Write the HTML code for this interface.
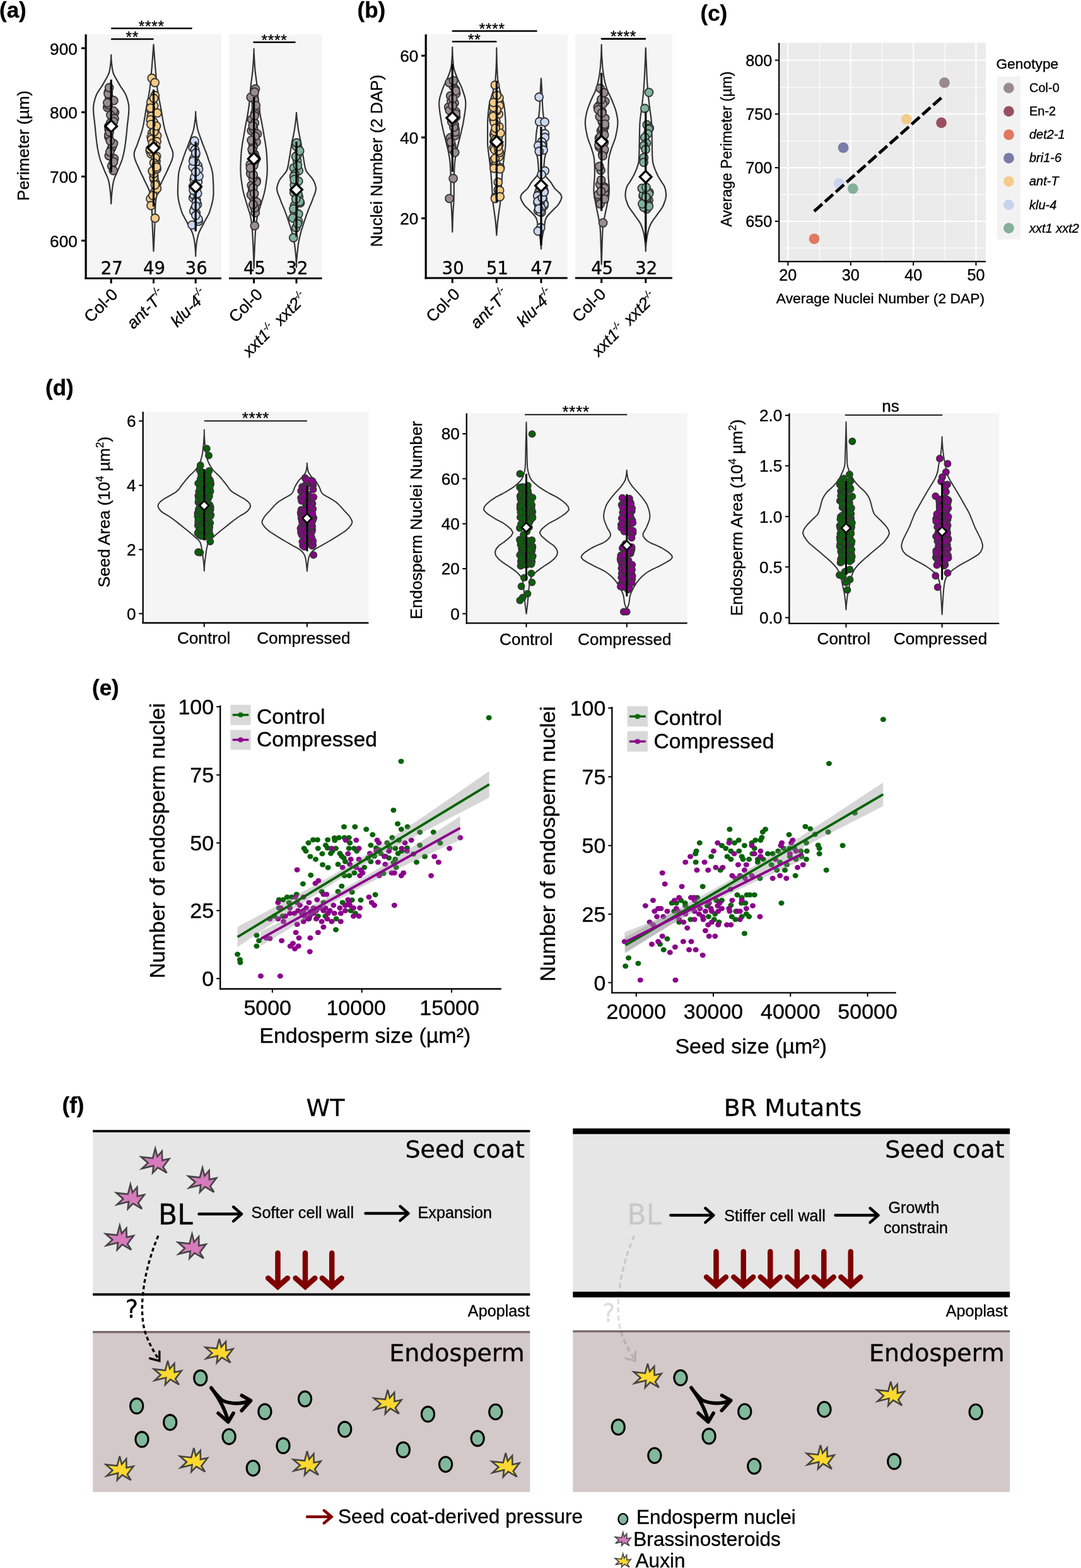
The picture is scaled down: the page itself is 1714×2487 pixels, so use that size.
<!DOCTYPE html>
<html lang="en"><head><meta charset="utf-8"><title>Figure</title>
<style>html,body{margin:0;padding:0;background:#fff}svg{display:block}text{white-space:pre;stroke:currentColor;stroke-width:0.35px;paint-order:stroke fill}</style></head>
<body><svg width="1714" height="2487" viewBox="0 0 1714 2487">
<rect width="1714" height="2487" fill="#fff"/>
<rect x="136.5" y="54.5" width="214.5" height="387" fill="#f5f5f5" />
<rect x="363" y="54.5" width="147.5" height="387" fill="#f5f5f5" />
<path d="M176.2,87 L176.3,91 L176.5,95 L176.8,99 L177.3,103 L177.8,107 L178.4,111 L179.3,115 L180.9,119 L183,123 L185.4,127.1 L187.7,131.1 L189.9,135.1 L192.5,139.1 L195.3,143.1 L197.8,147.1 L199.8,151.1 L201.2,155.1 L202.4,159.1 L203.4,163.1 L204.1,167.1 L204.4,171.1 L204.3,175.1 L204.1,179.1 L203.7,183.1 L203.3,187.1 L202.8,191.1 L202.3,195.1 L201.9,199.1 L201.4,203.1 L201.1,207.2 L200.7,211.2 L200.3,215.2 L199.8,219.2 L199.4,223.2 L198.9,227.2 L198.3,231.2 L197.7,235.2 L196.9,239.2 L196.1,243.2 L195.2,247.2 L194.1,251.2 L192.9,255.2 L191.3,259.2 L189.7,263.2 L188.1,267.2 L186.5,271.2 L184.7,275.2 L182.9,279.2 L181.3,283.2 L180.1,287.3 L179.3,291.3 L178.6,295.3 L178.1,299.3 L177.6,303.3 L177.2,307.3 L176.9,311.3 L176.6,315.3 L176.4,319.3 L176.2,323.3 L176.2,323.3 L176,319.3 L175.8,315.3 L175.5,311.3 L175.2,307.3 L174.8,303.3 L174.3,299.3 L173.8,295.3 L173.1,291.3 L172.3,287.3 L171.1,283.2 L169.5,279.2 L167.7,275.2 L165.9,271.2 L164.3,267.2 L162.7,263.2 L161.1,259.2 L159.5,255.2 L158.3,251.2 L157.2,247.2 L156.3,243.2 L155.5,239.2 L154.7,235.2 L154.1,231.2 L153.5,227.2 L153,223.2 L152.6,219.2 L152.1,215.2 L151.7,211.2 L151.3,207.2 L151,203.1 L150.5,199.1 L150.1,195.1 L149.6,191.1 L149.1,187.1 L148.7,183.1 L148.3,179.1 L148.1,175.1 L148,171.1 L148.3,167.1 L149,163.1 L150,159.1 L151.2,155.1 L152.6,151.1 L154.6,147.1 L157.1,143.1 L159.9,139.1 L162.5,135.1 L164.7,131.1 L167,127.1 L169.4,123 L171.5,119 L173.1,115 L174,111 L174.6,107 L175.1,103 L175.6,99 L175.9,95 L176.1,91 L176.2,87Z" fill="none" stroke="#333" stroke-width="2.2" stroke-linejoin="round"/>
<g fill="#9a8b8f" stroke="#333" stroke-width="1.8"><circle cx="176.7" cy="235.4" r="6.5"/><circle cx="173.5" cy="154.9" r="6.5"/><circle cx="175.3" cy="194.7" r="6.5"/><circle cx="180.3" cy="159.4" r="6.5"/><circle cx="170.3" cy="170.4" r="6.5"/><circle cx="171.7" cy="166.4" r="6.5"/><circle cx="178.2" cy="231.8" r="6.5"/><circle cx="180.1" cy="227.6" r="6.5"/><circle cx="171.8" cy="146.1" r="6.5"/><circle cx="177.1" cy="263.3" r="6.5"/><circle cx="180.9" cy="251.4" r="6.5"/><circle cx="172.7" cy="205.4" r="6.5"/><circle cx="172.4" cy="217.3" r="6.5"/><circle cx="171.5" cy="148.7" r="6.5"/><circle cx="172.8" cy="246.9" r="6.5"/><circle cx="181.9" cy="178.5" r="6.5"/><circle cx="179.9" cy="175.9" r="6.5"/><circle cx="172.3" cy="214" r="6.5"/><circle cx="180" cy="256.8" r="6.5"/><circle cx="173.5" cy="209.2" r="6.5"/><circle cx="175.4" cy="182.4" r="6.5"/><circle cx="181.5" cy="188" r="6.5"/><circle cx="180" cy="192.8" r="6.5"/><circle cx="174.2" cy="240.9" r="6.5"/><circle cx="172.3" cy="200.3" r="6.5"/><circle cx="174.7" cy="223.5" r="6.5"/><circle cx="170.3" cy="163" r="6.5"/><circle cx="173.2" cy="139" r="6.5"/><circle cx="179.7" cy="270.5" r="6.5"/></g>
<line x1="176.2" y1="126.3" x2="176.2" y2="273.5" stroke="#000" stroke-width="3.2" />
<path d="M176.2,190.9 L185.5,200.2 L176.2,209.5 L166.9,200.2Z" fill="#fff" stroke="#000" stroke-width="3.3" stroke-linejoin="miter"/>
<path d="M243.5,70.7 L243.9,76.3 L244.3,81.8 L244.7,87.4 L245.1,92.9 L245.6,98.5 L246,104 L246.5,109.6 L247,115.1 L247.4,120.7 L247.9,126.3 L248.5,131.8 L249.1,137.4 L249.8,142.9 L250.7,148.5 L251.7,154 L252.8,159.6 L253.8,165.2 L254.9,170.7 L255.9,176.3 L256.8,181.8 L257.7,187.4 L258.7,192.9 L259.7,198.5 L261,204 L262.6,209.6 L264.4,215.2 L266.4,220.7 L268.3,226.3 L270.3,231.8 L272.8,237.4 L274.4,242.9 L274.1,248.5 L272.5,254 L270.2,259.6 L267.6,265.2 L265.2,270.7 L262.6,276.3 L259.8,281.8 L257.2,287.4 L254.5,292.9 L251.8,298.5 L249.7,304 L248.5,309.6 L247.5,315.2 L246.8,320.7 L246.4,326.3 L246.2,331.8 L246,337.4 L245.8,342.9 L245.7,348.5 L245.5,354.1 L245.3,359.6 L245,365.2 L244.8,370.7 L244.5,376.3 L244.3,381.8 L244,387.4 L243.8,392.9 L243.5,398.5 L243.5,398.5 L243.2,392.9 L243,387.4 L242.7,381.8 L242.5,376.3 L242.2,370.7 L242,365.2 L241.7,359.6 L241.5,354.1 L241.3,348.5 L241.2,342.9 L241,337.4 L240.8,331.8 L240.6,326.3 L240.2,320.7 L239.5,315.2 L238.5,309.6 L237.3,304 L235.2,298.5 L232.5,292.9 L229.8,287.4 L227.2,281.8 L224.4,276.3 L221.8,270.7 L219.4,265.2 L216.8,259.6 L214.5,254 L212.9,248.5 L212.6,242.9 L214.2,237.4 L216.7,231.8 L218.7,226.3 L220.6,220.7 L222.6,215.2 L224.4,209.6 L226,204 L227.3,198.5 L228.3,192.9 L229.3,187.4 L230.2,181.8 L231.1,176.3 L232.1,170.7 L233.2,165.2 L234.2,159.6 L235.3,154 L236.3,148.5 L237.2,142.9 L237.9,137.4 L238.5,131.8 L239.1,126.3 L239.6,120.7 L240,115.1 L240.5,109.6 L241,104 L241.4,98.5 L241.9,92.9 L242.3,87.4 L242.7,81.8 L243.1,76.3 L243.5,70.7Z" fill="none" stroke="#333" stroke-width="2.2" stroke-linejoin="round"/>
<g fill="#f4cb87" stroke="#333" stroke-width="1.8"><circle cx="243.7" cy="193.7" r="6.5"/><circle cx="244.3" cy="279.1" r="6.5"/><circle cx="237.8" cy="239.1" r="6.5"/><circle cx="239.6" cy="244.1" r="6.5"/><circle cx="245.7" cy="151.3" r="6.5"/><circle cx="247.5" cy="255.7" r="6.5"/><circle cx="241.2" cy="210.9" r="6.5"/><circle cx="248.2" cy="247.8" r="6.5"/><circle cx="246.2" cy="205.3" r="6.5"/><circle cx="239.8" cy="176" r="6.5"/><circle cx="244.2" cy="167.7" r="6.5"/><circle cx="241.7" cy="241.5" r="6.5"/><circle cx="239.7" cy="217.5" r="6.5"/><circle cx="246.9" cy="290.8" r="6.5"/><circle cx="249.1" cy="215.4" r="6.5"/><circle cx="240.3" cy="220.9" r="6.5"/><circle cx="238.5" cy="315.3" r="6.5"/><circle cx="244.7" cy="285.1" r="6.5"/><circle cx="246.2" cy="252.1" r="6.5"/><circle cx="240.8" cy="234.3" r="6.5"/><circle cx="245.7" cy="303.5" r="6.5"/><circle cx="243.7" cy="281.4" r="6.5"/><circle cx="238.1" cy="236.4" r="6.5"/><circle cx="239.2" cy="162.2" r="6.5"/><circle cx="239.7" cy="184.6" r="6.5"/><circle cx="249.4" cy="179.2" r="6.5"/><circle cx="243.7" cy="275.4" r="6.5"/><circle cx="244.4" cy="208.9" r="6.5"/><circle cx="246.3" cy="250.3" r="6.5"/><circle cx="244" cy="258.4" r="6.5"/><circle cx="248.5" cy="224.5" r="6.5"/><circle cx="247.2" cy="231.3" r="6.5"/><circle cx="242.3" cy="310.1" r="6.5"/><circle cx="241.8" cy="227.3" r="6.5"/><circle cx="248.9" cy="299.1" r="6.5"/><circle cx="241.6" cy="271.1" r="6.5"/><circle cx="247.9" cy="199.8" r="6.5"/><circle cx="247.5" cy="262.2" r="6.5"/><circle cx="244" cy="156" r="6.5"/><circle cx="248.6" cy="267.9" r="6.5"/><circle cx="238.7" cy="171.4" r="6.5"/><circle cx="238.7" cy="189.9" r="6.5"/><circle cx="245.9" cy="293.3" r="6.5"/><circle cx="248.2" cy="265" r="6.5"/><circle cx="239.4" cy="197.3" r="6.5"/><circle cx="240.8" cy="124" r="6.5"/><circle cx="245.6" cy="131" r="6.5"/><circle cx="239.5" cy="326" r="6.5"/><circle cx="245.9" cy="346" r="6.5"/></g>
<line x1="243.5" y1="142" x2="243.5" y2="327.4" stroke="#000" stroke-width="3.2" />
<path d="M243.5,225.3 L252.8,234.6 L243.5,243.9 L234.2,234.6Z" fill="#fff" stroke="#000" stroke-width="3.3" stroke-linejoin="miter"/>
<path d="M310.2,177 L310.3,180.9 L310.5,184.8 L310.9,188.7 L311.4,192.6 L311.9,196.4 L312.5,200.3 L313.2,204.2 L314.2,208.1 L315.5,212 L316.9,215.9 L318.3,219.8 L319.7,223.7 L321.1,227.5 L322.6,231.4 L324.1,235.3 L325.7,239.2 L327.2,243.1 L328.6,247 L329.9,250.9 L331.2,254.8 L332.6,258.7 L333.9,262.5 L335.2,266.4 L336.2,270.3 L337,274.2 L337.5,278.1 L337.7,282 L337.9,285.9 L338.1,289.8 L338.3,293.6 L338.4,297.5 L338.5,301.4 L338.5,305.3 L338.4,309.2 L338,313.1 L337.4,317 L336.6,320.9 L335.6,324.7 L334.6,328.6 L333.4,332.5 L332.2,336.4 L330.5,340.3 L328.4,344.2 L326.3,348.1 L324.1,352 L322.2,355.9 L320.1,359.7 L318,363.6 L316.1,367.5 L314.6,371.4 L313.6,375.3 L312.7,379.2 L312,383.1 L311.5,387 L311.1,390.8 L310.8,394.7 L310.5,398.6 L310.3,402.5 L310.2,406.4 L310.2,406.4 L310.1,402.5 L309.9,398.6 L309.6,394.7 L309.3,390.8 L308.9,387 L308.4,383.1 L307.7,379.2 L306.8,375.3 L305.8,371.4 L304.3,367.5 L302.4,363.6 L300.3,359.7 L298.2,355.9 L296.3,352 L294.1,348.1 L292,344.2 L289.9,340.3 L288.2,336.4 L287,332.5 L285.8,328.6 L284.8,324.7 L283.8,320.9 L283,317 L282.4,313.1 L282,309.2 L281.9,305.3 L281.9,301.4 L282,297.5 L282.1,293.6 L282.3,289.8 L282.5,285.9 L282.7,282 L282.9,278.1 L283.4,274.2 L284.2,270.3 L285.2,266.4 L286.5,262.5 L287.8,258.7 L289.2,254.8 L290.5,250.9 L291.8,247 L293.2,243.1 L294.7,239.2 L296.3,235.3 L297.8,231.4 L299.3,227.5 L300.7,223.7 L302.1,219.8 L303.5,215.9 L304.9,212 L306.2,208.1 L307.2,204.2 L307.9,200.3 L308.5,196.4 L309,192.6 L309.5,188.7 L309.9,184.8 L310.1,180.9 L310.2,177Z" fill="none" stroke="#333" stroke-width="2.2" stroke-linejoin="round"/>
<g fill="#c9d7f3" stroke="#333" stroke-width="1.8"><circle cx="311.4" cy="291.7" r="6.5"/><circle cx="312.3" cy="297.5" r="6.5"/><circle cx="307.8" cy="285.4" r="6.5"/><circle cx="313" cy="324.5" r="6.5"/><circle cx="311.1" cy="276.5" r="6.5"/><circle cx="313.9" cy="263" r="6.5"/><circle cx="306.2" cy="313.7" r="6.5"/><circle cx="307.9" cy="310.1" r="6.5"/><circle cx="308.5" cy="281.1" r="6.5"/><circle cx="310.1" cy="257.4" r="6.5"/><circle cx="310.1" cy="245.6" r="6.5"/><circle cx="314.9" cy="350.9" r="6.5"/><circle cx="306.4" cy="295.4" r="6.5"/><circle cx="308.5" cy="331.3" r="6.5"/><circle cx="313.9" cy="288.6" r="6.5"/><circle cx="308.2" cy="227.3" r="6.5"/><circle cx="310.4" cy="303.5" r="6.5"/><circle cx="307.3" cy="251.8" r="6.5"/><circle cx="305.8" cy="264.8" r="6.5"/><circle cx="305.7" cy="234.2" r="6.5"/><circle cx="310.8" cy="337.7" r="6.5"/><circle cx="304.6" cy="356.8" r="6.5"/><circle cx="311.4" cy="317.6" r="6.5"/><circle cx="313.2" cy="306.9" r="6.5"/><circle cx="307.2" cy="334.9" r="6.5"/><circle cx="306.6" cy="301.8" r="6.5"/><circle cx="311.1" cy="320.5" r="6.5"/><circle cx="315" cy="268.5" r="6.5"/><circle cx="310.4" cy="326.9" r="6.5"/><circle cx="309" cy="237.5" r="6.5"/><circle cx="310.4" cy="242.7" r="6.5"/><circle cx="315.4" cy="279.5" r="6.5"/><circle cx="314.4" cy="347.4" r="6.5"/><circle cx="306.3" cy="255.6" r="6.5"/><circle cx="310.4" cy="341.6" r="6.5"/><circle cx="310.3" cy="272.5" r="6.5"/><circle cx="308.4" cy="223.5" r="6.5"/></g>
<line x1="310.2" y1="224.6" x2="310.2" y2="367" stroke="#000" stroke-width="3.2" />
<path d="M310.2,286.7 L319.5,296 L310.2,305.3 L300.9,296Z" fill="#fff" stroke="#000" stroke-width="3.3" stroke-linejoin="miter"/>
<path d="M402.6,77.4 L402.7,83.3 L403,89.2 L403.3,95.1 L403.7,101 L404.1,106.9 L404.6,112.8 L405.3,118.7 L406.1,124.6 L406.9,130.5 L407.5,136.5 L408.1,142.4 L408.6,148.3 L409.1,154.2 L409.6,160.1 L410.2,166 L411,171.9 L411.9,177.8 L412.9,183.7 L414,189.6 L415.2,195.5 L416.3,201.4 L417.3,207.3 L418.3,213.2 L419.3,219.1 L420.4,225 L421.3,230.9 L422.1,236.8 L422.7,242.7 L423.1,248.6 L423.4,254.6 L423.6,260.5 L423.8,266.4 L423.7,272.3 L423.4,278.2 L422.7,284.1 L421.9,290 L421.1,295.9 L420,301.8 L418.6,307.7 L416.9,313.6 L415.1,319.5 L413.3,325.4 L411.5,331.3 L409.5,337.2 L408,343.1 L407,349 L406.2,354.9 L405.6,360.8 L405.1,366.7 L404.7,372.7 L404.4,378.6 L404.1,384.5 L403.8,390.4 L403.6,396.3 L403.3,402.2 L403.1,408.1 L402.9,414 L402.8,419.9 L402.6,425.8 L402.6,425.8 L402.4,419.9 L402.3,414 L402.1,408.1 L401.9,402.2 L401.6,396.3 L401.4,390.4 L401.1,384.5 L400.8,378.6 L400.5,372.7 L400.1,366.7 L399.6,360.8 L399,354.9 L398.2,349 L397.2,343.1 L395.7,337.2 L393.7,331.3 L391.9,325.4 L390.1,319.5 L388.3,313.6 L386.6,307.7 L385.2,301.8 L384.1,295.9 L383.3,290 L382.5,284.1 L381.8,278.2 L381.5,272.3 L381.4,266.4 L381.6,260.5 L381.8,254.6 L382.1,248.6 L382.5,242.7 L383.1,236.8 L383.9,230.9 L384.8,225 L385.9,219.1 L386.9,213.2 L387.9,207.3 L388.9,201.4 L390,195.5 L391.2,189.6 L392.3,183.7 L393.3,177.8 L394.2,171.9 L395,166 L395.6,160.1 L396.1,154.2 L396.6,148.3 L397.1,142.4 L397.7,136.5 L398.3,130.5 L399.1,124.6 L399.9,118.7 L400.6,112.8 L401.1,106.9 L401.5,101 L401.9,95.1 L402.2,89.2 L402.5,83.3 L402.6,77.4Z" fill="none" stroke="#333" stroke-width="2.2" stroke-linejoin="round"/>
<g fill="#9a8b8f" stroke="#333" stroke-width="1.8"><circle cx="401.8" cy="314.2" r="6.5"/><circle cx="398.7" cy="207.2" r="6.5"/><circle cx="398.7" cy="294" r="6.5"/><circle cx="406.5" cy="225.3" r="6.5"/><circle cx="403.6" cy="244.8" r="6.5"/><circle cx="402.1" cy="204.5" r="6.5"/><circle cx="406.5" cy="286.6" r="6.5"/><circle cx="406.5" cy="288.7" r="6.5"/><circle cx="400.3" cy="301.6" r="6.5"/><circle cx="399" cy="189.4" r="6.5"/><circle cx="401.4" cy="297.6" r="6.5"/><circle cx="408" cy="212.4" r="6.5"/><circle cx="404.7" cy="216.1" r="6.5"/><circle cx="403.9" cy="255.9" r="6.5"/><circle cx="404.7" cy="337.4" r="6.5"/><circle cx="396.7" cy="260.9" r="6.5"/><circle cx="400.6" cy="240.2" r="6.5"/><circle cx="400.9" cy="282.6" r="6.5"/><circle cx="402.4" cy="262.6" r="6.5"/><circle cx="407.1" cy="320.4" r="6.5"/><circle cx="405.7" cy="173.9" r="6.5"/><circle cx="404.2" cy="179.7" r="6.5"/><circle cx="401.1" cy="230.1" r="6.5"/><circle cx="403.7" cy="329.8" r="6.5"/><circle cx="405.4" cy="249.9" r="6.5"/><circle cx="403.8" cy="195" r="6.5"/><circle cx="397.7" cy="271.3" r="6.5"/><circle cx="401.4" cy="233" r="6.5"/><circle cx="403.7" cy="158.6" r="6.5"/><circle cx="398" cy="309" r="6.5"/><circle cx="401.3" cy="324.4" r="6.5"/><circle cx="397.3" cy="275.5" r="6.5"/><circle cx="403.6" cy="183.5" r="6.5"/><circle cx="398.6" cy="222.4" r="6.5"/><circle cx="400.8" cy="199.5" r="6.5"/><circle cx="401.7" cy="277.2" r="6.5"/><circle cx="399.6" cy="237.1" r="6.5"/><circle cx="405.8" cy="167.3" r="6.5"/><circle cx="403.2" cy="307.1" r="6.5"/><circle cx="396.9" cy="266.4" r="6.5"/><circle cx="405.9" cy="251.9" r="6.5"/><circle cx="397.7" cy="154.2" r="6.5"/><circle cx="405" cy="141" r="6.5"/><circle cx="403.6" cy="146" r="6.5"/><circle cx="403.8" cy="358" r="6.5"/></g>
<line x1="402.6" y1="154" x2="402.6" y2="351" stroke="#000" stroke-width="3.2" />
<path d="M402.6,242.6 L411.9,251.9 L402.6,261.2 L393.3,251.9Z" fill="#fff" stroke="#000" stroke-width="3.3" stroke-linejoin="miter"/>
<path d="M470,178.6 L470.3,182.8 L470.7,186.9 L471.2,191.1 L471.7,195.2 L472.2,199.4 L472.8,203.5 L473.4,207.7 L474.2,211.9 L475,216 L475.9,220.2 L476.8,224.3 L477.5,228.5 L478.2,232.6 L478.9,236.8 L479.6,241 L480.2,245.1 L480.9,249.3 L481.6,253.4 L482.3,257.6 L483,261.8 L483.8,265.9 L485.1,270.1 L487.6,274.2 L491.1,278.4 L494.6,282.5 L497.3,286.7 L499,290.9 L500.4,295 L501,299.2 L500.4,303.3 L499.1,307.5 L497.4,311.6 L495.8,315.8 L494.3,320 L492.6,324.1 L490.8,328.3 L489.1,332.4 L487.6,336.6 L486,340.7 L484.6,344.9 L483.1,349.1 L481.8,353.2 L480.4,357.4 L479.1,361.5 L477.8,365.7 L476.7,369.9 L475.7,374 L474.7,378.2 L473.9,382.3 L473.1,386.5 L472.5,390.6 L472.1,394.8 L471.6,399 L471.2,403.1 L470.8,407.3 L470.5,411.4 L470.2,415.6 L470.1,419.7 L470,423.9 L470,423.9 L469.9,419.7 L469.8,415.6 L469.5,411.4 L469.2,407.3 L468.8,403.1 L468.4,399 L467.9,394.8 L467.5,390.6 L466.9,386.5 L466.1,382.3 L465.3,378.2 L464.3,374 L463.3,369.9 L462.2,365.7 L460.9,361.5 L459.6,357.4 L458.2,353.2 L456.9,349.1 L455.4,344.9 L454,340.7 L452.4,336.6 L450.9,332.4 L449.2,328.3 L447.4,324.1 L445.7,320 L444.2,315.8 L442.6,311.6 L440.9,307.5 L439.6,303.3 L439,299.2 L439.6,295 L441,290.9 L442.7,286.7 L445.4,282.5 L448.9,278.4 L452.4,274.2 L454.9,270.1 L456.2,265.9 L457,261.8 L457.7,257.6 L458.4,253.4 L459.1,249.3 L459.8,245.1 L460.4,241 L461.1,236.8 L461.8,232.6 L462.5,228.5 L463.2,224.3 L464.1,220.2 L465,216 L465.8,211.9 L466.6,207.7 L467.2,203.5 L467.8,199.4 L468.3,195.2 L468.8,191.1 L469.3,186.9 L469.7,182.8 L470,178.6Z" fill="none" stroke="#333" stroke-width="2.2" stroke-linejoin="round"/>
<g fill="#80b39b" stroke="#333" stroke-width="1.8"><circle cx="465.8" cy="266.3" r="6.5"/><circle cx="466.7" cy="336" r="6.5"/><circle cx="473.7" cy="270.8" r="6.5"/><circle cx="467.6" cy="276.1" r="6.5"/><circle cx="466.2" cy="305.4" r="6.5"/><circle cx="473.3" cy="339.5" r="6.5"/><circle cx="468.9" cy="298.2" r="6.5"/><circle cx="476" cy="321.8" r="6.5"/><circle cx="469.8" cy="232" r="6.5"/><circle cx="471.8" cy="245.5" r="6.5"/><circle cx="471.2" cy="255" r="6.5"/><circle cx="464.3" cy="345.8" r="6.5"/><circle cx="467.9" cy="291.2" r="6.5"/><circle cx="473.8" cy="312" r="6.5"/><circle cx="469.3" cy="361.2" r="6.5"/><circle cx="466.8" cy="326.3" r="6.5"/><circle cx="469" cy="248.3" r="6.5"/><circle cx="475.2" cy="319.7" r="6.5"/><circle cx="466" cy="279.5" r="6.5"/><circle cx="473.1" cy="350.9" r="6.5"/><circle cx="465.5" cy="331" r="6.5"/><circle cx="472" cy="262.5" r="6.5"/><circle cx="472.4" cy="307.7" r="6.5"/><circle cx="471.9" cy="354.8" r="6.5"/><circle cx="473.3" cy="287.3" r="6.5"/><circle cx="475.2" cy="239.2" r="6.5"/><circle cx="469.2" cy="315.7" r="6.5"/><circle cx="467.2" cy="300.6" r="6.5"/><circle cx="466.6" cy="293.5" r="6.5"/><circle cx="466.6" cy="284.7" r="6.5"/><circle cx="470.3" cy="226.5" r="6.5"/><circle cx="465.3" cy="377" r="6.5"/></g>
<line x1="470" y1="224.6" x2="470" y2="375.5" stroke="#000" stroke-width="3.2" />
<path d="M470,291.5 L479.3,300.8 L470,310.1 L460.7,300.8Z" fill="#fff" stroke="#000" stroke-width="3.3" stroke-linejoin="miter"/>
<line x1="177.2" y1="45" x2="303.5" y2="45" stroke="#000" stroke-width="2.6" stroke-linecap="round"/>
<text x="240.3" y="49.6" font-family="'Liberation Sans',sans-serif" font-size="24.5" text-anchor="middle" letter-spacing="0.7">****</text>
<line x1="177.2" y1="62" x2="242.5" y2="62" stroke="#000" stroke-width="2.6" stroke-linecap="round"/>
<text x="209.8" y="66.6" font-family="'Liberation Sans',sans-serif" font-size="24.5" text-anchor="middle" letter-spacing="0.7">**</text>
<line x1="402.5" y1="67" x2="467.5" y2="67" stroke="#000" stroke-width="2.6" stroke-linecap="round"/>
<text x="435" y="71.6" font-family="'Liberation Sans',sans-serif" font-size="24.5" text-anchor="middle" letter-spacing="0.7">****</text>
<line x1="136.1" y1="54.5" x2="136.1" y2="443" stroke="#000" stroke-width="3.2" />
<line x1="134.5" y1="441.5" x2="351" y2="441.5" stroke="#000" stroke-width="3.0" />
<line x1="363" y1="441.5" x2="510.5" y2="441.5" stroke="#000" stroke-width="3.0" />
<line x1="129" y1="76.5" x2="136.5" y2="76.5" stroke="#000" stroke-width="3" />
<text x="122.8" y="86.5" font-family="'Liberation Sans',sans-serif" font-size="26.2" text-anchor="end" >900</text>
<line x1="129" y1="178" x2="136.5" y2="178" stroke="#000" stroke-width="3" />
<text x="122.8" y="188" font-family="'Liberation Sans',sans-serif" font-size="26.2" text-anchor="end" >800</text>
<line x1="129" y1="280" x2="136.5" y2="280" stroke="#000" stroke-width="3" />
<text x="122.8" y="290" font-family="'Liberation Sans',sans-serif" font-size="26.2" text-anchor="end" >700</text>
<line x1="129" y1="381.7" x2="136.5" y2="381.7" stroke="#000" stroke-width="3" />
<text x="122.8" y="391.7" font-family="'Liberation Sans',sans-serif" font-size="26.2" text-anchor="end" >600</text>
<line x1="176.2" y1="441.5" x2="176.2" y2="449.5" stroke="#000" stroke-width="3" />
<line x1="243.5" y1="441.5" x2="243.5" y2="449.5" stroke="#000" stroke-width="3" />
<line x1="310.2" y1="441.5" x2="310.2" y2="449.5" stroke="#000" stroke-width="3" />
<line x1="402.6" y1="441.5" x2="402.6" y2="449.5" stroke="#000" stroke-width="3" />
<line x1="470" y1="441.5" x2="470" y2="449.5" stroke="#000" stroke-width="3" />
<text x="177.2" y="435" font-family="'DejaVu Sans','Liberation Sans',sans-serif" font-size="27.5" text-anchor="middle" >27</text>
<text x="244.5" y="435" font-family="'DejaVu Sans','Liberation Sans',sans-serif" font-size="27.5" text-anchor="middle" >49</text>
<text x="311.2" y="435" font-family="'DejaVu Sans','Liberation Sans',sans-serif" font-size="27.5" text-anchor="middle" >36</text>
<text x="403.6" y="435" font-family="'DejaVu Sans','Liberation Sans',sans-serif" font-size="27.5" text-anchor="middle" >45</text>
<text x="471" y="435" font-family="'DejaVu Sans','Liberation Sans',sans-serif" font-size="27.5" text-anchor="middle" >32</text>
<text x="45.5" y="231" font-family="'Liberation Sans',sans-serif" font-size="26.2" text-anchor="middle" transform="rotate(-90 45.5 231)" >Perimeter (µm)</text>
<text x="188.4" y="468.7" font-family="'Liberation Sans',sans-serif" font-size="26.2" text-anchor="end" transform="rotate(-45 188.4 468.7)" >Col-0</text>
<text x="264.3" y="470.2" font-family="'Liberation Sans',sans-serif" font-size="26.2" text-anchor="end" font-style="italic" transform="rotate(-45 264.3 470.2)" >ant-T<tspan font-size="16" dy="-12.5" dx="-1.5">-/-</tspan></text>
<text x="331" y="470.2" font-family="'Liberation Sans',sans-serif" font-size="26.2" text-anchor="end" font-style="italic" transform="rotate(-45 331 470.2)" >klu-4<tspan font-size="16" dy="-12.5" dx="-1.5">-/-</tspan></text>
<text x="417.8" y="468.7" font-family="'Liberation Sans',sans-serif" font-size="26.2" text-anchor="end" transform="rotate(-45 417.8 468.7)" >Col-0</text>
<text x="488.3" y="474.2" font-family="'Liberation Sans',sans-serif" font-size="26.2" text-anchor="end" font-style="italic" transform="rotate(-45 488.3 474.2)" >xxt1<tspan font-size="14.5" dy="-11" dx="-1">-/-</tspan><tspan dy="11" font-size="26.2" dx="2.5"> </tspan>xxt2<tspan font-size="14.5" dy="-11" dx="-1">-/-</tspan></text>
<text x="-1" y="28" font-family="'Liberation Sans',sans-serif" font-size="35" text-anchor="start" font-weight="bold" >(a)</text>
<rect x="675.6" y="54.5" width="224.2" height="386.5" fill="#f5f5f5" />
<rect x="912" y="54.5" width="154" height="386.5" fill="#f5f5f5" />
<path d="M717.3,74.8 L717.4,79.8 L717.5,84.7 L717.8,89.7 L718.1,94.7 L718.5,99.6 L718.9,104.6 L720,109.6 L721.5,114.6 L723.3,119.5 L725.2,124.5 L727.5,129.5 L730,134.4 L732.2,139.4 L733.9,144.4 L735.6,149.3 L737.1,154.3 L738.1,159.3 L738.4,164.3 L738.2,169.2 L737.7,174.2 L737,179.2 L736.2,184.1 L735.4,189.1 L734.6,194.1 L733.6,199 L732.5,204 L731.4,209 L730.2,213.9 L728.9,218.9 L727.6,223.9 L726.4,228.9 L725.2,233.8 L724,238.8 L723,243.8 L722.2,248.7 L721.5,253.7 L720.9,258.7 L720.6,263.6 L720.3,268.6 L720.1,273.6 L720,278.5 L719.9,283.5 L719.9,288.5 L719.8,293.5 L719.8,298.4 L719.8,303.4 L719.8,308.4 L719.7,313.3 L719.6,318.3 L719.3,323.3 L718.9,328.2 L718.6,333.2 L718.3,338.2 L718.1,343.2 L717.9,348.1 L717.7,353.1 L717.6,358.1 L717.4,363 L717.3,368 L717.3,368 L717.2,363 L717,358.1 L716.9,353.1 L716.7,348.1 L716.5,343.2 L716.3,338.2 L716,333.2 L715.7,328.2 L715.3,323.3 L715,318.3 L714.9,313.3 L714.8,308.4 L714.8,303.4 L714.8,298.4 L714.8,293.5 L714.7,288.5 L714.7,283.5 L714.6,278.5 L714.5,273.6 L714.3,268.6 L714,263.6 L713.7,258.7 L713.1,253.7 L712.4,248.7 L711.6,243.8 L710.6,238.8 L709.4,233.8 L708.2,228.9 L707,223.9 L705.7,218.9 L704.4,213.9 L703.2,209 L702.1,204 L701,199 L700,194.1 L699.2,189.1 L698.4,184.1 L697.6,179.2 L696.9,174.2 L696.4,169.2 L696.2,164.3 L696.5,159.3 L697.5,154.3 L699,149.3 L700.7,144.4 L702.4,139.4 L704.6,134.4 L707.1,129.5 L709.4,124.5 L711.3,119.5 L713.1,114.6 L714.6,109.6 L715.7,104.6 L716.1,99.6 L716.5,94.7 L716.8,89.7 L717.1,84.7 L717.2,79.8 L717.3,74.8Z" fill="none" stroke="#333" stroke-width="2.2" stroke-linejoin="round"/>
<g fill="#9a8b8f" stroke="#333" stroke-width="1.8"><circle cx="722.7" cy="177.1" r="6.5"/><circle cx="714" cy="218.4" r="6.5"/><circle cx="718.4" cy="136.4" r="6.5"/><circle cx="716.4" cy="231" r="6.5"/><circle cx="720.5" cy="163.3" r="6.5"/><circle cx="711.3" cy="169.8" r="6.5"/><circle cx="715.6" cy="160.6" r="6.5"/><circle cx="722.2" cy="141.9" r="6.5"/><circle cx="716.8" cy="236.4" r="6.5"/><circle cx="723.1" cy="185.3" r="6.5"/><circle cx="721.7" cy="205" r="6.5"/><circle cx="723.1" cy="148.6" r="6.5"/><circle cx="722.4" cy="144.3" r="6.5"/><circle cx="714.9" cy="225.3" r="6.5"/><circle cx="721.5" cy="214.9" r="6.5"/><circle cx="712.8" cy="175.1" r="6.5"/><circle cx="720.7" cy="198.1" r="6.5"/><circle cx="714.3" cy="152.1" r="6.5"/><circle cx="712.5" cy="131" r="6.5"/><circle cx="722.6" cy="180.8" r="6.5"/><circle cx="721.2" cy="241.8" r="6.5"/><circle cx="717.5" cy="167.4" r="6.5"/><circle cx="721.8" cy="209.4" r="6.5"/><circle cx="718.2" cy="156.3" r="6.5"/><circle cx="716.7" cy="189.9" r="6.5"/><circle cx="719.5" cy="201.7" r="6.5"/><circle cx="716.3" cy="193.6" r="6.5"/><circle cx="719" cy="127.8" r="6.5"/><circle cx="718.6" cy="283" r="6.5"/><circle cx="712.6" cy="314.8" r="6.5"/></g>
<line x1="717.3" y1="101.5" x2="717.3" y2="272.6" stroke="#000" stroke-width="3.2" />
<path d="M717.3,177.7 L726.6,187 L717.3,196.3 L708,187Z" fill="#fff" stroke="#000" stroke-width="3.3" stroke-linejoin="miter"/>
<path d="M787.4,76.1 L787.4,81.1 L787.5,86.2 L787.6,91.2 L787.7,96.2 L787.9,101.3 L788.1,106.3 L788.3,111.3 L788.6,116.4 L788.9,121.4 L789.3,126.4 L790.2,131.5 L791.2,136.5 L792.2,141.5 L793.5,146.6 L795,151.6 L796.6,156.6 L798.1,161.7 L799.2,166.7 L799.9,171.7 L800.4,176.8 L800.9,181.8 L801.3,186.8 L801.6,191.9 L801.7,196.9 L801.7,201.9 L801.7,207 L801.7,212 L801.7,217 L801.7,222.1 L801.7,227.1 L801.4,232.2 L800.9,237.2 L800.2,242.2 L799.5,247.3 L798.9,252.3 L798.3,257.3 L797.7,262.4 L797.1,267.4 L796.7,272.4 L796.2,277.5 L795.8,282.5 L795.4,287.5 L795,292.6 L794.7,297.6 L794.4,302.6 L794.2,307.7 L793.9,312.7 L793.5,317.7 L793,322.8 L792.3,327.8 L791.5,332.8 L790.9,337.9 L790.2,342.9 L789.5,347.9 L788.9,353 L788.5,358 L788.1,363 L787.7,368.1 L787.4,373.1 L787.4,373.1 L787.1,368.1 L786.7,363 L786.3,358 L785.9,353 L785.3,347.9 L784.6,342.9 L783.9,337.9 L783.3,332.8 L782.5,327.8 L781.8,322.8 L781.3,317.7 L780.9,312.7 L780.6,307.7 L780.4,302.6 L780.1,297.6 L779.8,292.6 L779.4,287.5 L779,282.5 L778.6,277.5 L778.1,272.4 L777.7,267.4 L777.1,262.4 L776.5,257.3 L775.9,252.3 L775.3,247.3 L774.6,242.2 L773.9,237.2 L773.4,232.2 L773.1,227.1 L773.1,222.1 L773.1,217 L773.1,212 L773.1,207 L773.1,201.9 L773.1,196.9 L773.2,191.9 L773.5,186.8 L773.9,181.8 L774.4,176.8 L774.9,171.7 L775.6,166.7 L776.7,161.7 L778.2,156.6 L779.8,151.6 L781.3,146.6 L782.6,141.5 L783.6,136.5 L784.6,131.5 L785.5,126.4 L785.9,121.4 L786.2,116.4 L786.5,111.3 L786.7,106.3 L786.9,101.3 L787.1,96.2 L787.2,91.2 L787.3,86.2 L787.4,81.1 L787.4,76.1Z" fill="none" stroke="#333" stroke-width="2.2" stroke-linejoin="round"/>
<g fill="#f4cb87" stroke="#333" stroke-width="1.8"><circle cx="782.8" cy="234.6" r="6.5"/><circle cx="790.4" cy="246" r="6.5"/><circle cx="788.7" cy="164.3" r="6.5"/><circle cx="791.1" cy="248.7" r="6.5"/><circle cx="790" cy="218.5" r="6.5"/><circle cx="783.1" cy="213.2" r="6.5"/><circle cx="784.6" cy="257.3" r="6.5"/><circle cx="783.2" cy="253.6" r="6.5"/><circle cx="784.1" cy="187.7" r="6.5"/><circle cx="784.2" cy="216.2" r="6.5"/><circle cx="789.7" cy="158.5" r="6.5"/><circle cx="783.2" cy="179.6" r="6.5"/><circle cx="786.7" cy="260.4" r="6.5"/><circle cx="789.8" cy="225.8" r="6.5"/><circle cx="782.6" cy="190.2" r="6.5"/><circle cx="792" cy="242" r="6.5"/><circle cx="791.8" cy="167.6" r="6.5"/><circle cx="791.5" cy="155.3" r="6.5"/><circle cx="784.7" cy="208.6" r="6.5"/><circle cx="790.8" cy="181.1" r="6.5"/><circle cx="789.8" cy="205.2" r="6.5"/><circle cx="787.3" cy="175.9" r="6.5"/><circle cx="791.4" cy="201" r="6.5"/><circle cx="786.3" cy="192" r="6.5"/><circle cx="783.5" cy="224.2" r="6.5"/><circle cx="785.8" cy="198.1" r="6.5"/><circle cx="793.4" cy="211.1" r="6.5"/><circle cx="785.5" cy="221.4" r="6.5"/><circle cx="787.5" cy="173.9" r="6.5"/><circle cx="787.9" cy="151.1" r="6.5"/><circle cx="784.4" cy="237.5" r="6.5"/><circle cx="791.2" cy="229.7" r="6.5"/><circle cx="783.7" cy="194.3" r="6.5"/><circle cx="782.4" cy="170.3" r="6.5"/><circle cx="782.5" cy="162.5" r="6.5"/><circle cx="785.6" cy="203.3" r="6.5"/><circle cx="790.8" cy="239" r="6.5"/><circle cx="789.6" cy="232.5" r="6.5"/><circle cx="781.9" cy="184.6" r="6.5"/><circle cx="784.9" cy="251.2" r="6.5"/><circle cx="785" cy="135" r="6.5"/><circle cx="793.2" cy="266" r="6.5"/><circle cx="783.4" cy="267" r="6.5"/><circle cx="792.9" cy="268" r="6.5"/><circle cx="789.8" cy="289" r="6.5"/><circle cx="789.9" cy="301" r="6.5"/><circle cx="792.2" cy="302" r="6.5"/><circle cx="785.2" cy="313" r="6.5"/><circle cx="785" cy="314.8" r="6.5"/><circle cx="792.7" cy="312" r="6.5"/></g>
<line x1="787.4" y1="128.8" x2="787.4" y2="321.4" stroke="#000" stroke-width="3.2" />
<path d="M787.4,215.9 L796.7,225.2 L787.4,234.5 L778.1,225.2Z" fill="#fff" stroke="#000" stroke-width="3.3" stroke-linejoin="miter"/>
<path d="M858,124.4 L858.3,129 L858.6,133.6 L858.9,138.2 L859.1,142.7 L859.3,147.3 L859.6,151.9 L859.8,156.5 L859.9,161.1 L860.1,165.7 L860.4,170.3 L860.7,174.9 L861.2,179.4 L861.7,184 L862.3,188.6 L862.9,193.2 L863.6,197.8 L864.3,202.4 L865,207 L865.6,211.5 L866,216.1 L866.3,220.7 L866.6,225.3 L866.8,229.9 L866.9,234.5 L866.5,239.1 L865.5,243.6 L864.2,248.2 L863.3,252.8 L862.9,257.4 L862.5,262 L862.2,266.6 L862,271.2 L862.7,275.8 L865.7,280.3 L869.8,284.9 L873.7,289.5 L876.4,294.1 L879.3,298.7 L884.2,303.3 L888.9,307.9 L890.7,312.4 L889.5,317 L887,321.6 L884,326.2 L879.3,330.8 L874.6,335.4 L870.2,340 L866.5,344.5 L864.6,349.1 L863.8,353.7 L863.2,358.3 L862.5,362.9 L861.5,367.5 L860.5,372.1 L859.7,376.7 L859.1,381.2 L858.6,385.8 L858.2,390.4 L858,395 L858,395 L857.8,390.4 L857.4,385.8 L856.9,381.2 L856.3,376.7 L855.5,372.1 L854.5,367.5 L853.5,362.9 L852.8,358.3 L852.2,353.7 L851.4,349.1 L849.5,344.5 L845.8,340 L841.4,335.4 L836.7,330.8 L832,326.2 L829,321.6 L826.5,317 L825.3,312.4 L827.1,307.9 L831.8,303.3 L836.7,298.7 L839.6,294.1 L842.3,289.5 L846.2,284.9 L850.3,280.3 L853.3,275.8 L854,271.2 L853.8,266.6 L853.5,262 L853.1,257.4 L852.7,252.8 L851.8,248.2 L850.5,243.6 L849.5,239.1 L849.1,234.5 L849.2,229.9 L849.4,225.3 L849.7,220.7 L850,216.1 L850.4,211.5 L851,207 L851.7,202.4 L852.4,197.8 L853.1,193.2 L853.7,188.6 L854.3,184 L854.8,179.4 L855.3,174.9 L855.6,170.3 L855.9,165.7 L856.1,161.1 L856.2,156.5 L856.4,151.9 L856.7,147.3 L856.9,142.7 L857.1,138.2 L857.4,133.6 L857.7,129 L858,124.4Z" fill="none" stroke="#333" stroke-width="2.2" stroke-linejoin="round"/>
<g fill="#c9d7f3" stroke="#333" stroke-width="1.8"><circle cx="854.7" cy="154" r="6.5"/><circle cx="855.2" cy="193" r="6.5"/><circle cx="863.7" cy="193.5" r="6.5"/><circle cx="863.9" cy="212" r="6.5"/><circle cx="863.9" cy="218" r="6.5"/><circle cx="858.9" cy="225" r="6.5"/><circle cx="859.2" cy="231" r="6.5"/><circle cx="853.4" cy="231" r="6.5"/><circle cx="861.7" cy="238" r="6.5"/><circle cx="854.8" cy="240" r="6.5"/><circle cx="863.9" cy="271" r="6.5"/><circle cx="858.6" cy="277" r="6.5"/><circle cx="857.3" cy="361" r="6.5"/><circle cx="853" cy="366.5" r="6.5"/><circle cx="857.3" cy="316.9" r="6.5"/><circle cx="862.5" cy="322.8" r="6.5"/><circle cx="856.9" cy="298.5" r="6.5"/><circle cx="860.9" cy="315.3" r="6.5"/><circle cx="854.6" cy="308.2" r="6.5"/><circle cx="862.5" cy="326.5" r="6.5"/><circle cx="858.6" cy="332.3" r="6.5"/><circle cx="854.3" cy="325.9" r="6.5"/><circle cx="857.2" cy="312.6" r="6.5"/><circle cx="861.1" cy="307.2" r="6.5"/><circle cx="857.6" cy="311.9" r="6.5"/><circle cx="855.4" cy="302" r="6.5"/><circle cx="862.6" cy="323.9" r="6.5"/><circle cx="856.1" cy="328.1" r="6.5"/><circle cx="863" cy="303.7" r="6.5"/><circle cx="861.7" cy="300.8" r="6.5"/><circle cx="856.6" cy="322" r="6.5"/><circle cx="854" cy="305.9" r="6.5"/><circle cx="854.1" cy="309.1" r="6.5"/><circle cx="852.3" cy="310.8" r="6.5"/><circle cx="852.5" cy="320.9" r="6.5"/><circle cx="855.9" cy="318.2" r="6.5"/><circle cx="853.2" cy="334.2" r="6.5"/><circle cx="858.4" cy="336.7" r="6.5"/><circle cx="856.9" cy="316.3" r="6.5"/><circle cx="852.9" cy="319.4" r="6.5"/><circle cx="858" cy="329.4" r="6.5"/><circle cx="859.9" cy="313.9" r="6.5"/><circle cx="856.3" cy="335.7" r="6.5"/><circle cx="854.4" cy="331.2" r="6.5"/><circle cx="861.5" cy="299.8" r="6.5"/><circle cx="860" cy="296.7" r="6.5"/><circle cx="862.6" cy="304.5" r="6.5"/></g>
<line x1="858" y1="201" x2="858" y2="389" stroke="#000" stroke-width="3.2" />
<path d="M858,285.2 L867.3,294.5 L858,303.8 L848.7,294.5Z" fill="#fff" stroke="#000" stroke-width="3.3" stroke-linejoin="miter"/>
<path d="M953.7,70.9 L953.8,76.8 L954,82.7 L954.2,88.6 L954.6,94.5 L955,100.4 L955.4,106.3 L956.1,112.2 L956.9,118.1 L957.8,124 L959.1,129.9 L960.6,135.8 L962.4,141.7 L964.9,147.6 L967.8,153.5 L970.5,159.5 L972.8,165.4 L975.1,171.3 L976.9,177.2 L978.2,183.1 L979.2,189 L979.5,194.9 L979.1,200.8 L978.2,206.7 L977,212.6 L975.7,218.5 L973.7,224.4 L971.3,230.3 L969.3,236.2 L967.5,242.1 L965.9,248 L965,253.9 L964.7,259.8 L964.5,265.7 L964.4,271.6 L964.5,277.5 L964.8,283.4 L965.3,289.3 L965.7,295.2 L965.9,301.1 L965.7,307 L964.9,312.9 L963.7,318.8 L962.6,324.7 L961.4,330.6 L960.1,336.6 L958.9,342.5 L957.8,348.4 L956.7,354.3 L955.9,360.2 L955.5,366.1 L955.2,372 L955,377.9 L954.8,383.8 L954.6,389.7 L954.4,395.6 L954.2,401.5 L954,407.4 L953.9,413.3 L953.7,419.2 L953.7,419.2 L953.5,413.3 L953.4,407.4 L953.2,401.5 L953,395.6 L952.8,389.7 L952.6,383.8 L952.4,377.9 L952.2,372 L951.9,366.1 L951.5,360.2 L950.7,354.3 L949.6,348.4 L948.5,342.5 L947.3,336.6 L946,330.6 L944.8,324.7 L943.7,318.8 L942.5,312.9 L941.7,307 L941.5,301.1 L941.7,295.2 L942.1,289.3 L942.6,283.4 L942.9,277.5 L943,271.6 L942.9,265.7 L942.7,259.8 L942.4,253.9 L941.5,248 L939.9,242.1 L938.1,236.2 L936.1,230.3 L933.7,224.4 L931.7,218.5 L930.4,212.6 L929.2,206.7 L928.3,200.8 L927.9,194.9 L928.2,189 L929.2,183.1 L930.5,177.2 L932.3,171.3 L934.6,165.4 L936.9,159.5 L939.6,153.5 L942.5,147.6 L945,141.7 L946.8,135.8 L948.3,129.9 L949.6,124 L950.5,118.1 L951.3,112.2 L952,106.3 L952.4,100.4 L952.8,94.5 L953.2,88.6 L953.4,82.7 L953.6,76.8 L953.7,70.9Z" fill="none" stroke="#333" stroke-width="2.2" stroke-linejoin="round"/>
<g fill="#9a8b8f" stroke="#333" stroke-width="1.8"><circle cx="957.9" cy="225.9" r="6.5"/><circle cx="950" cy="218.9" r="6.5"/><circle cx="953.1" cy="207.5" r="6.5"/><circle cx="955.2" cy="193.8" r="6.5"/><circle cx="959.3" cy="160.8" r="6.5"/><circle cx="950.2" cy="233.2" r="6.5"/><circle cx="954.8" cy="204.8" r="6.5"/><circle cx="958.6" cy="201.3" r="6.5"/><circle cx="950.6" cy="166.6" r="6.5"/><circle cx="957" cy="210.4" r="6.5"/><circle cx="955.3" cy="244" r="6.5"/><circle cx="957.2" cy="240.1" r="6.5"/><circle cx="958.3" cy="237" r="6.5"/><circle cx="952.1" cy="216.8" r="6.5"/><circle cx="954.8" cy="177.3" r="6.5"/><circle cx="953.8" cy="181.6" r="6.5"/><circle cx="955.2" cy="222.6" r="6.5"/><circle cx="955.6" cy="247.2" r="6.5"/><circle cx="947.8" cy="170" r="6.5"/><circle cx="954" cy="190.4" r="6.5"/><circle cx="956" cy="164.8" r="6.5"/><circle cx="958.7" cy="199" r="6.5"/><circle cx="953.3" cy="157.7" r="6.5"/><circle cx="950.8" cy="184.9" r="6.5"/><circle cx="949.5" cy="229.9" r="6.5"/><circle cx="959.3" cy="187.6" r="6.5"/><circle cx="958.3" cy="213.9" r="6.5"/><circle cx="948.6" cy="173.8" r="6.5"/><circle cx="954.3" cy="179" r="6.5"/><circle cx="959" cy="196.8" r="6.5"/><circle cx="951.6" cy="140" r="6.5"/><circle cx="957.6" cy="147" r="6.5"/><circle cx="950.2" cy="318.3" r="6.5"/><circle cx="953" cy="290.4" r="6.5"/><circle cx="951.2" cy="292.4" r="6.5"/><circle cx="948.6" cy="311.8" r="6.5"/><circle cx="958.5" cy="305.8" r="6.5"/><circle cx="953.1" cy="285.7" r="6.5"/><circle cx="948.5" cy="308.7" r="6.5"/><circle cx="951.8" cy="323.4" r="6.5"/><circle cx="958.5" cy="315.7" r="6.5"/><circle cx="958.4" cy="296.6" r="6.5"/><circle cx="958.5" cy="298.6" r="6.5"/><circle cx="952.9" cy="303.6" r="6.5"/><circle cx="956.1" cy="353.4" r="6.5"/><circle cx="952.6" cy="270" r="6.5"/><circle cx="950.3" cy="264" r="6.5"/></g>
<line x1="953.7" y1="115.6" x2="953.7" y2="334.6" stroke="#000" stroke-width="3.2" />
<path d="M953.7,215.3 L963,224.6 L953.7,233.9 L944.4,224.6Z" fill="#fff" stroke="#000" stroke-width="3.3" stroke-linejoin="miter"/>
<path d="M1023.8,76.1 L1024,81.6 L1024.2,87 L1024.4,92.5 L1024.6,98 L1024.9,103.4 L1025.1,108.9 L1025.4,114.4 L1025.6,119.8 L1025.9,125.3 L1026.2,130.7 L1026.6,136.2 L1027,141.7 L1027.4,147.1 L1028,152.6 L1028.6,158.1 L1029.2,163.5 L1029.9,169 L1030.6,174.5 L1031.3,179.9 L1032.1,185.4 L1032.7,190.9 L1033.2,196.3 L1033.3,201.8 L1033.5,207.2 L1033.6,212.7 L1033.7,218.2 L1033.8,223.6 L1033.9,229.1 L1034,234.6 L1034.1,240 L1034.2,245.5 L1034.5,251 L1034.9,256.4 L1036.2,261.9 L1038.1,267.4 L1040.3,272.8 L1042.8,278.3 L1045.9,283.7 L1049.3,289.2 L1053.1,294.7 L1055,300.1 L1055.9,305.6 L1056.1,311.1 L1055.1,316.5 L1053.2,322 L1051,327.5 L1047.4,332.9 L1043.4,338.4 L1039.5,343.9 L1035.4,349.3 L1032,354.8 L1029.7,360.2 L1028,365.7 L1026.7,371.2 L1025.7,376.6 L1024.9,382.1 L1024.4,387.6 L1024,393 L1023.8,398.5 L1023.8,398.5 L1023.6,393 L1023.2,387.6 L1022.7,382.1 L1021.9,376.6 L1020.9,371.2 L1019.6,365.7 L1017.9,360.2 L1015.6,354.8 L1012.2,349.3 L1008.1,343.9 L1004.2,338.4 L1000.2,332.9 L996.6,327.5 L994.4,322 L992.5,316.5 L991.5,311.1 L991.7,305.6 L992.6,300.1 L994.5,294.7 L998.3,289.2 L1001.7,283.7 L1004.8,278.3 L1007.3,272.8 L1009.5,267.4 L1011.4,261.9 L1012.7,256.4 L1013.1,251 L1013.4,245.5 L1013.5,240 L1013.6,234.6 L1013.7,229.1 L1013.8,223.6 L1013.9,218.2 L1014,212.7 L1014.1,207.2 L1014.3,201.8 L1014.4,196.3 L1014.9,190.9 L1015.5,185.4 L1016.3,179.9 L1017,174.5 L1017.7,169 L1018.4,163.5 L1019,158.1 L1019.6,152.6 L1020.2,147.1 L1020.6,141.7 L1021,136.2 L1021.4,130.7 L1021.7,125.3 L1022,119.8 L1022.2,114.4 L1022.5,108.9 L1022.7,103.4 L1023,98 L1023.2,92.5 L1023.4,87 L1023.6,81.6 L1023.8,76.1Z" fill="none" stroke="#333" stroke-width="2.2" stroke-linejoin="round"/>
<g fill="#80b39b" stroke="#333" stroke-width="1.8"><circle cx="1029" cy="146.6" r="6.5"/><circle cx="1022.4" cy="172" r="6.5"/><circle cx="1025.8" cy="198" r="6.5"/><circle cx="1029.8" cy="203" r="6.5"/><circle cx="1028.5" cy="205" r="6.5"/><circle cx="1027" cy="212" r="6.5"/><circle cx="1022.4" cy="218" r="6.5"/><circle cx="1025.1" cy="227" r="6.5"/><circle cx="1020.9" cy="231" r="6.5"/><circle cx="1023.7" cy="237" r="6.5"/><circle cx="1020.9" cy="250" r="6.5"/><circle cx="1020.7" cy="257.5" r="6.5"/><circle cx="1028.6" cy="317.8" r="6.5"/><circle cx="1025.4" cy="331.4" r="6.5"/><circle cx="1019.7" cy="310.9" r="6.5"/><circle cx="1019.9" cy="309" r="6.5"/><circle cx="1025.4" cy="301.8" r="6.5"/><circle cx="1020.7" cy="328.8" r="6.5"/><circle cx="1029.5" cy="305.2" r="6.5"/><circle cx="1024.3" cy="319.7" r="6.5"/><circle cx="1028.2" cy="324.9" r="6.5"/><circle cx="1024.5" cy="303.8" r="6.5"/><circle cx="1021.5" cy="300.2" r="6.5"/><circle cx="1022.8" cy="321.1" r="6.5"/><circle cx="1025.6" cy="315.7" r="6.5"/><circle cx="1028.9" cy="307.6" r="6.5"/><circle cx="1017.9" cy="298.7" r="6.5"/><circle cx="1028.8" cy="327.3" r="6.5"/><circle cx="1018.4" cy="323.3" r="6.5"/><circle cx="1025.6" cy="314.2" r="6.5"/><circle cx="1024.6" cy="297.2" r="6.5"/><circle cx="1024.1" cy="312.4" r="6.5"/></g>
<line x1="1023.8" y1="176.7" x2="1023.8" y2="383.5" stroke="#000" stroke-width="3.2" />
<path d="M1023.8,271.2 L1033.1,280.5 L1023.8,289.8 L1014.5,280.5Z" fill="#fff" stroke="#000" stroke-width="3.3" stroke-linejoin="miter"/>
<line x1="718" y1="49.3" x2="850.5" y2="49.3" stroke="#000" stroke-width="2.6" stroke-linecap="round"/>
<text x="780.2" y="53.9" font-family="'Liberation Sans',sans-serif" font-size="24.5" text-anchor="middle" letter-spacing="0.7">****</text>
<line x1="718" y1="66" x2="786.4" y2="66" stroke="#000" stroke-width="2.6" stroke-linecap="round"/>
<text x="752.2" y="70.6" font-family="'Liberation Sans',sans-serif" font-size="24.5" text-anchor="middle" letter-spacing="0.7">**</text>
<line x1="954" y1="61.6" x2="1023" y2="61.6" stroke="#000" stroke-width="2.6" stroke-linecap="round"/>
<text x="988.5" y="66.2" font-family="'Liberation Sans',sans-serif" font-size="24.5" text-anchor="middle" letter-spacing="0.7">****</text>
<line x1="675.2" y1="54.5" x2="675.2" y2="442.5" stroke="#000" stroke-width="3.2" />
<line x1="673.6" y1="441" x2="899.8" y2="441" stroke="#000" stroke-width="3.0" />
<line x1="912" y1="441" x2="1066" y2="441" stroke="#000" stroke-width="3.0" />
<line x1="668.1" y1="88.3" x2="675.6" y2="88.3" stroke="#000" stroke-width="3" />
<text x="663.4" y="98.3" font-family="'Liberation Sans',sans-serif" font-size="26.2" text-anchor="end" >60</text>
<line x1="668.1" y1="218" x2="675.6" y2="218" stroke="#000" stroke-width="3" />
<text x="663.4" y="228" font-family="'Liberation Sans',sans-serif" font-size="26.2" text-anchor="end" >40</text>
<line x1="668.1" y1="346.2" x2="675.6" y2="346.2" stroke="#000" stroke-width="3" />
<text x="663.4" y="356.2" font-family="'Liberation Sans',sans-serif" font-size="26.2" text-anchor="end" >20</text>
<line x1="717.3" y1="441" x2="717.3" y2="449" stroke="#000" stroke-width="3" />
<line x1="787.4" y1="441" x2="787.4" y2="449" stroke="#000" stroke-width="3" />
<line x1="858" y1="441" x2="858" y2="449" stroke="#000" stroke-width="3" />
<line x1="953.7" y1="441" x2="953.7" y2="449" stroke="#000" stroke-width="3" />
<line x1="1023.8" y1="441" x2="1023.8" y2="449" stroke="#000" stroke-width="3" />
<text x="718.3" y="434.5" font-family="'DejaVu Sans','Liberation Sans',sans-serif" font-size="27.5" text-anchor="middle" >30</text>
<text x="788.4" y="434.5" font-family="'DejaVu Sans','Liberation Sans',sans-serif" font-size="27.5" text-anchor="middle" >51</text>
<text x="859" y="434.5" font-family="'DejaVu Sans','Liberation Sans',sans-serif" font-size="27.5" text-anchor="middle" >47</text>
<text x="954.7" y="434.5" font-family="'DejaVu Sans','Liberation Sans',sans-serif" font-size="27.5" text-anchor="middle" >45</text>
<text x="1024.8" y="434.5" font-family="'DejaVu Sans','Liberation Sans',sans-serif" font-size="27.5" text-anchor="middle" >32</text>
<text x="605.5" y="255" font-family="'Liberation Sans',sans-serif" font-size="26.2" text-anchor="middle" transform="rotate(-90 605.5 255)" >Nuclei Number (2 DAP)</text>
<text x="730.5" y="468.2" font-family="'Liberation Sans',sans-serif" font-size="26.2" text-anchor="end" transform="rotate(-45 730.5 468.2)" >Col-0</text>
<text x="809.2" y="469.7" font-family="'Liberation Sans',sans-serif" font-size="26.2" text-anchor="end" font-style="italic" transform="rotate(-45 809.2 469.7)" >ant-T<tspan font-size="16" dy="-12.5" dx="-1.5">-/-</tspan></text>
<text x="879.8" y="469.7" font-family="'Liberation Sans',sans-serif" font-size="26.2" text-anchor="end" font-style="italic" transform="rotate(-45 879.8 469.7)" >klu-4<tspan font-size="16" dy="-12.5" dx="-1.5">-/-</tspan></text>
<text x="962.4" y="468.2" font-family="'Liberation Sans',sans-serif" font-size="26.2" text-anchor="end" transform="rotate(-45 962.4 468.2)" >Col-0</text>
<text x="1042.1" y="473.7" font-family="'Liberation Sans',sans-serif" font-size="26.2" text-anchor="end" font-style="italic" transform="rotate(-45 1042.1 473.7)" >xxt1<tspan font-size="14.5" dy="-11" dx="-1">-/-</tspan><tspan dy="11" font-size="26.2" dx="2.5"> </tspan>xxt2<tspan font-size="14.5" dy="-11" dx="-1">-/-</tspan></text>
<text x="566.5" y="28" font-family="'Liberation Sans',sans-serif" font-size="35" text-anchor="start" font-weight="bold" >(b)</text>
<rect x="1235.2" y="68" width="327.8" height="346.8" fill="#ebebeb" />
<line x1="1235.2" y1="138.7" x2="1563" y2="138.7" stroke="#fff" stroke-width="1.1" />
<line x1="1235.2" y1="223.7" x2="1563" y2="223.7" stroke="#fff" stroke-width="1.1" />
<line x1="1235.2" y1="308.6" x2="1563" y2="308.6" stroke="#fff" stroke-width="1.1" />
<line x1="1235.2" y1="393.2" x2="1563" y2="393.2" stroke="#fff" stroke-width="1.1" />
<line x1="1299.5" y1="68" x2="1299.5" y2="414.8" stroke="#fff" stroke-width="1.1" />
<line x1="1398.8" y1="68" x2="1398.8" y2="414.8" stroke="#fff" stroke-width="1.1" />
<line x1="1498.2" y1="68" x2="1498.2" y2="414.8" stroke="#fff" stroke-width="1.1" />
<line x1="1235.2" y1="95.5" x2="1563" y2="95.5" stroke="#fff" stroke-width="2" />
<line x1="1235.2" y1="180.8" x2="1563" y2="180.8" stroke="#fff" stroke-width="2" />
<line x1="1235.2" y1="266" x2="1563" y2="266" stroke="#fff" stroke-width="2" />
<line x1="1235.2" y1="351" x2="1563" y2="351" stroke="#fff" stroke-width="2" />
<line x1="1249.3" y1="68" x2="1249.3" y2="414.8" stroke="#fff" stroke-width="2" />
<line x1="1348.8" y1="68" x2="1348.8" y2="414.8" stroke="#fff" stroke-width="2" />
<line x1="1448.2" y1="68" x2="1448.2" y2="414.8" stroke="#fff" stroke-width="2" />
<line x1="1547.5" y1="68" x2="1547.5" y2="414.8" stroke="#fff" stroke-width="2" />
<line x1="1291" y1="335" x2="1492.6" y2="155" stroke="#000" stroke-width="4.6" stroke-dasharray="17 6"/>
<circle cx="1497.5" cy="131.2" r="8.4" fill="#9a8a8e"/>
<circle cx="1492.6" cy="194.7" r="8.4" fill="#98505f"/>
<circle cx="1437.3" cy="189.1" r="8.4" fill="#f3cb8b"/>
<circle cx="1337.1" cy="234.2" r="8.4" fill="#7a7ba6"/>
<circle cx="1330.3" cy="291" r="8.4" fill="#c8d4ee"/>
<circle cx="1352.3" cy="299.2" r="8.4" fill="#83b09a"/>
<circle cx="1291" cy="378.8" r="8.4" fill="#e07a5f"/>
<line x1="1291" y1="335" x2="1492.6" y2="155" stroke="#000" stroke-width="4.6" stroke-dasharray="17 6"/>
<line x1="1235.2" y1="68" x2="1235.2" y2="415.8" stroke="#000" stroke-width="2.2" />
<line x1="1234.1" y1="414.8" x2="1563" y2="414.8" stroke="#000" stroke-width="2.2" />
<line x1="1228.7" y1="95.5" x2="1235.2" y2="95.5" stroke="#000" stroke-width="2" />
<text x="1224.2" y="104.5" font-family="'Liberation Sans',sans-serif" font-size="25.2" text-anchor="end" >800</text>
<line x1="1228.7" y1="180.8" x2="1235.2" y2="180.8" stroke="#000" stroke-width="2" />
<text x="1224.2" y="189.8" font-family="'Liberation Sans',sans-serif" font-size="25.2" text-anchor="end" >750</text>
<line x1="1228.7" y1="266" x2="1235.2" y2="266" stroke="#000" stroke-width="2" />
<text x="1224.2" y="275" font-family="'Liberation Sans',sans-serif" font-size="25.2" text-anchor="end" >700</text>
<line x1="1228.7" y1="351" x2="1235.2" y2="351" stroke="#000" stroke-width="2" />
<text x="1224.2" y="360" font-family="'Liberation Sans',sans-serif" font-size="25.2" text-anchor="end" >650</text>
<line x1="1249.3" y1="414.8" x2="1249.3" y2="421.3" stroke="#000" stroke-width="2" />
<text x="1249.3" y="444.6" font-family="'Liberation Sans',sans-serif" font-size="25.2" text-anchor="middle" >20</text>
<line x1="1348.8" y1="414.8" x2="1348.8" y2="421.3" stroke="#000" stroke-width="2" />
<text x="1348.8" y="444.6" font-family="'Liberation Sans',sans-serif" font-size="25.2" text-anchor="middle" >30</text>
<line x1="1448.2" y1="414.8" x2="1448.2" y2="421.3" stroke="#000" stroke-width="2" />
<text x="1448.2" y="444.6" font-family="'Liberation Sans',sans-serif" font-size="25.2" text-anchor="middle" >40</text>
<line x1="1547.5" y1="414.8" x2="1547.5" y2="421.3" stroke="#000" stroke-width="2" />
<text x="1547.5" y="444.6" font-family="'Liberation Sans',sans-serif" font-size="25.2" text-anchor="middle" >50</text>
<text x="1396" y="481" font-family="'Liberation Sans',sans-serif" font-size="22.9" text-anchor="middle" >Average Nuclei Number (2 DAP)</text>
<text x="1160" y="236.5" font-family="'Liberation Sans',sans-serif" font-size="23.1" text-anchor="middle" transform="rotate(-90 1160 236.5)" >Average Perimeter (µm)</text>
<text x="1579.4" y="109" font-family="'Liberation Sans',sans-serif" font-size="22.8" text-anchor="start" >Genotype</text>
<rect x="1581" y="121.2" width="37" height="258.5" fill="#f2f2f2" />
<circle cx="1599.5" cy="139.6" r="8.4" fill="#9a8a8e"/>
<text x="1632" y="146.2" font-family="'Liberation Sans',sans-serif" font-size="20" text-anchor="start" >Col-0</text>
<circle cx="1599.5" cy="176.6" r="8.4" fill="#98505f"/>
<text x="1632" y="183.2" font-family="'Liberation Sans',sans-serif" font-size="20" text-anchor="start" >En-2</text>
<circle cx="1599.5" cy="213.7" r="8.4" fill="#e07a5f"/>
<text x="1632" y="220.3" font-family="'Liberation Sans',sans-serif" font-size="20" text-anchor="start" font-style="italic" >det2-1</text>
<circle cx="1599.5" cy="250.8" r="8.4" fill="#7a7ba6"/>
<text x="1632" y="257.4" font-family="'Liberation Sans',sans-serif" font-size="20" text-anchor="start" font-style="italic" >bri1-6</text>
<circle cx="1599.5" cy="287.8" r="8.4" fill="#f3cb8b"/>
<text x="1632" y="294.4" font-family="'Liberation Sans',sans-serif" font-size="20" text-anchor="start" font-style="italic" >ant-T</text>
<circle cx="1599.5" cy="324.9" r="8.4" fill="#c8d4ee"/>
<text x="1632" y="331.5" font-family="'Liberation Sans',sans-serif" font-size="20" text-anchor="start" font-style="italic" >klu-4</text>
<circle cx="1599.5" cy="361.9" r="8.4" fill="#83b09a"/>
<text x="1632" y="368.5" font-family="'Liberation Sans',sans-serif" font-size="20" text-anchor="start" font-style="italic" >xxt1 xxt2</text>
<text x="1110.5" y="33" font-family="'Liberation Sans',sans-serif" font-size="35" text-anchor="start" font-weight="bold" >(c)</text>
<rect x="226.7" y="653" width="357.7" height="335" fill="#f5f5f5" />
<path d="M323.8,681.5 L323.8,685.3 L323.9,689.1 L324.1,692.9 L324.3,696.7 L324.6,700.5 L324.9,704.3 L325.3,708.1 L325.7,711.9 L326.1,715.7 L326.7,719.5 L327.4,723.3 L328.4,727.1 L329.5,730.9 L331.1,734.7 L333.1,738.5 L335.5,742.3 L338.2,746.1 L342.1,749.9 L346.3,753.7 L349.7,757.5 L352.9,761.3 L355.9,765.1 L358.9,768.9 L361.7,772.7 L364.3,776.5 L368.4,780.3 L374.8,784.1 L381.3,787.9 L388.1,791.7 L392.9,795.4 L396.3,799.2 L397.2,803 L395.5,806.8 L392.5,810.6 L387.5,814.4 L380.7,818.2 L375.2,822 L370.1,825.8 L365.2,829.6 L360.5,833.4 L355.7,837.2 L351,841 L346.4,844.8 L341.9,848.6 L337.7,852.4 L333.2,856.2 L330.3,860 L329,863.8 L328.2,867.6 L327.5,871.4 L326.9,875.2 L326.4,879 L325.9,882.8 L325.4,886.6 L324.9,890.4 L324.5,894.2 L324.2,898 L324,901.8 L323.8,905.6 L323.8,905.6 L323.6,901.8 L323.4,898 L323.1,894.2 L322.7,890.4 L322.2,886.6 L321.7,882.8 L321.2,879 L320.7,875.2 L320.1,871.4 L319.4,867.6 L318.6,863.8 L317.3,860 L314.4,856.2 L309.9,852.4 L305.7,848.6 L301.2,844.8 L296.6,841 L291.9,837.2 L287.1,833.4 L282.4,829.6 L277.5,825.8 L272.4,822 L266.9,818.2 L260.1,814.4 L255.1,810.6 L252.1,806.8 L250.4,803 L251.3,799.2 L254.7,795.4 L259.5,791.7 L266.3,787.9 L272.8,784.1 L279.2,780.3 L283.3,776.5 L285.9,772.7 L288.7,768.9 L291.7,765.1 L294.7,761.3 L297.9,757.5 L301.3,753.7 L305.5,749.9 L309.4,746.1 L312.1,742.3 L314.5,738.5 L316.5,734.7 L318.1,730.9 L319.2,727.1 L320.2,723.3 L320.9,719.5 L321.5,715.7 L321.9,711.9 L322.3,708.1 L322.7,704.3 L323,700.5 L323.3,696.7 L323.5,692.9 L323.7,689.1 L323.8,685.3 L323.8,681.5Z" fill="none" stroke="#333" stroke-width="2.0" stroke-linejoin="round"/>
<path d="M486.9,734.5 L487,737.4 L487.3,740.3 L487.7,743.2 L488.2,746.1 L489.1,749 L490.8,751.9 L492.9,754.8 L495.6,757.8 L498.8,760.7 L501.1,763.6 L503,766.5 L504.7,769.4 L506.2,772.3 L507.4,775.2 L508.4,778.1 L509.8,781 L512.1,783.9 L516.9,786.8 L522.1,789.7 L527,792.6 L531.6,795.5 L535.2,798.4 L538.2,801.4 L540.9,804.3 L543.4,807.2 L546,810.1 L548.8,813 L551.6,815.9 L554,818.8 L555.8,821.7 L557.4,824.6 L558.4,827.5 L557.9,830.4 L556.2,833.3 L553.8,836.2 L551.1,839.1 L547.7,842.1 L543.4,845 L538.8,847.9 L534.2,850.8 L529.6,853.7 L524.8,856.6 L519.8,859.5 L514.7,862.4 L509.8,865.3 L504.5,868.2 L499.3,871.1 L495.6,874 L493.2,876.9 L491.3,879.8 L490.1,882.7 L489.3,885.7 L488.8,888.6 L488.4,891.5 L488,894.4 L487.7,897.3 L487.4,900.2 L487.1,903.1 L486.9,906 L486.9,906 L486.7,903.1 L486.4,900.2 L486.1,897.3 L485.8,894.4 L485.4,891.5 L485,888.6 L484.5,885.7 L483.7,882.7 L482.5,879.8 L480.6,876.9 L478.2,874 L474.5,871.1 L469.3,868.2 L464,865.3 L459.1,862.4 L454,859.5 L449,856.6 L444.2,853.7 L439.6,850.8 L435,847.9 L430.4,845 L426.1,842.1 L422.7,839.1 L420,836.2 L417.6,833.3 L415.9,830.4 L415.4,827.5 L416.4,824.6 L418,821.7 L419.8,818.8 L422.2,815.9 L425,813 L427.8,810.1 L430.4,807.2 L432.9,804.3 L435.6,801.4 L438.6,798.4 L442.2,795.5 L446.8,792.6 L451.7,789.7 L456.9,786.8 L461.7,783.9 L464,781 L465.4,778.1 L466.4,775.2 L467.6,772.3 L469.1,769.4 L470.8,766.5 L472.7,763.6 L475,760.7 L478.2,757.8 L480.9,754.8 L483,751.9 L484.7,749 L485.6,746.1 L486.1,743.2 L486.5,740.3 L486.8,737.4 L486.9,734.5Z" fill="none" stroke="#333" stroke-width="2.0" stroke-linejoin="round"/>
<g fill="#066206" stroke="#363636" stroke-width="1.5"><circle cx="332.6" cy="761" r="5.2"/><circle cx="324.3" cy="834" r="5.2"/><circle cx="314.2" cy="828" r="5.2"/><circle cx="322.1" cy="772.7" r="5.2"/><circle cx="328.3" cy="793" r="5.2"/><circle cx="316.5" cy="769.8" r="5.2"/><circle cx="314.4" cy="796.5" r="5.2"/><circle cx="327.9" cy="805.7" r="5.2"/><circle cx="331.7" cy="834.5" r="5.2"/><circle cx="316.9" cy="799.7" r="5.2"/><circle cx="313.8" cy="833.3" r="5.2"/><circle cx="325.8" cy="793.6" r="5.2"/><circle cx="330" cy="830.1" r="5.2"/><circle cx="317.8" cy="771.2" r="5.2"/><circle cx="323.3" cy="787.8" r="5.2"/><circle cx="320.7" cy="823" r="5.2"/><circle cx="326.5" cy="787.5" r="5.2"/><circle cx="323.5" cy="755.7" r="5.2"/><circle cx="327.4" cy="791.2" r="5.2"/><circle cx="319.2" cy="799.1" r="5.2"/><circle cx="314.3" cy="786.1" r="5.2"/><circle cx="331.9" cy="801.7" r="5.2"/><circle cx="315.2" cy="789.1" r="5.2"/><circle cx="329.1" cy="835.5" r="5.2"/><circle cx="329.3" cy="764.3" r="5.2"/><circle cx="325.1" cy="802.1" r="5.2"/><circle cx="317.2" cy="784.3" r="5.2"/><circle cx="314.5" cy="824" r="5.2"/><circle cx="327" cy="795.2" r="5.2"/><circle cx="333.7" cy="808.4" r="5.2"/><circle cx="327.7" cy="789.8" r="5.2"/><circle cx="333.6" cy="763.4" r="5.2"/><circle cx="331" cy="769" r="5.2"/><circle cx="317.7" cy="783.8" r="5.2"/><circle cx="316.2" cy="848.6" r="5.2"/><circle cx="320.5" cy="809.4" r="5.2"/><circle cx="324" cy="842.8" r="5.2"/><circle cx="319.3" cy="794.7" r="5.2"/><circle cx="324.3" cy="820.4" r="5.2"/><circle cx="320.9" cy="782.3" r="5.2"/><circle cx="333.8" cy="804.3" r="5.2"/><circle cx="333.3" cy="829.4" r="5.2"/><circle cx="320.2" cy="802.7" r="5.2"/><circle cx="323.8" cy="752.2" r="5.2"/><circle cx="321.6" cy="784.9" r="5.2"/><circle cx="323.4" cy="766" r="5.2"/><circle cx="328.2" cy="771.8" r="5.2"/><circle cx="326.3" cy="777.6" r="5.2"/><circle cx="325.3" cy="798.7" r="5.2"/><circle cx="324.1" cy="807.9" r="5.2"/><circle cx="322.7" cy="761.8" r="5.2"/><circle cx="322" cy="826.1" r="5.2"/><circle cx="316" cy="812.5" r="5.2"/><circle cx="327.8" cy="788.4" r="5.2"/><circle cx="317.1" cy="814.6" r="5.2"/><circle cx="334" cy="817.4" r="5.2"/><circle cx="330.6" cy="775.7" r="5.2"/><circle cx="322.7" cy="821.2" r="5.2"/><circle cx="332.4" cy="800.7" r="5.2"/><circle cx="320.3" cy="813.4" r="5.2"/><circle cx="319.6" cy="803.8" r="5.2"/><circle cx="322.3" cy="781.3" r="5.2"/><circle cx="326.2" cy="796.2" r="5.2"/><circle cx="327.3" cy="760.2" r="5.2"/><circle cx="319.9" cy="774.2" r="5.2"/><circle cx="334.2" cy="767.6" r="5.2"/><circle cx="331.7" cy="843.5" r="5.2"/><circle cx="319.1" cy="827.7" r="5.2"/><circle cx="319.7" cy="846.4" r="5.2"/><circle cx="320" cy="757.5" r="5.2"/><circle cx="330.3" cy="790.2" r="5.2"/><circle cx="330.9" cy="781.9" r="5.2"/><circle cx="324.8" cy="804.6" r="5.2"/><circle cx="319.7" cy="780.5" r="5.2"/><circle cx="313.4" cy="813.9" r="5.2"/><circle cx="315.2" cy="841.9" r="5.2"/><circle cx="318.4" cy="838.7" r="5.2"/><circle cx="313.5" cy="845.5" r="5.2"/><circle cx="314.2" cy="766.6" r="5.2"/><circle cx="325.1" cy="803.3" r="5.2"/><circle cx="331.5" cy="840.9" r="5.2"/><circle cx="316.4" cy="816.3" r="5.2"/><circle cx="321.1" cy="840.3" r="5.2"/><circle cx="315" cy="828.9" r="5.2"/><circle cx="323.6" cy="754.8" r="5.2"/><circle cx="327.9" cy="758.6" r="5.2"/><circle cx="326.3" cy="836.8" r="5.2"/><circle cx="323.2" cy="825.4" r="5.2"/><circle cx="315.6" cy="824.9" r="5.2"/><circle cx="318" cy="773.4" r="5.2"/><circle cx="320.9" cy="807.2" r="5.2"/><circle cx="314.8" cy="808.8" r="5.2"/><circle cx="315.5" cy="806.6" r="5.2"/><circle cx="331.9" cy="810.9" r="5.2"/><circle cx="327.3" cy="801.2" r="5.2"/><circle cx="326.6" cy="756.9" r="5.2"/><circle cx="325.3" cy="797.1" r="5.2"/><circle cx="330.1" cy="800.2" r="5.2"/><circle cx="315" cy="790.8" r="5.2"/><circle cx="332.6" cy="776.1" r="5.2"/><circle cx="317.1" cy="815.7" r="5.2"/><circle cx="332.2" cy="836.4" r="5.2"/><circle cx="324.6" cy="851.3" r="5.2"/><circle cx="322" cy="797.6" r="5.2"/><circle cx="319.9" cy="820" r="5.2"/><circle cx="330.9" cy="844.6" r="5.2"/><circle cx="315.3" cy="779.7" r="5.2"/><circle cx="330.6" cy="805.1" r="5.2"/><circle cx="317.8" cy="759.6" r="5.2"/><circle cx="316.7" cy="812" r="5.2"/><circle cx="317.7" cy="832.6" r="5.2"/><circle cx="316.9" cy="826.7" r="5.2"/><circle cx="323.6" cy="821.6" r="5.2"/><circle cx="323.9" cy="792.3" r="5.2"/><circle cx="316.4" cy="810.4" r="5.2"/><circle cx="318.8" cy="768.2" r="5.2"/><circle cx="329.3" cy="809.8" r="5.2"/><circle cx="327.1" cy="794.1" r="5.2"/><circle cx="328.3" cy="837.7" r="5.2"/><circle cx="313.4" cy="818.7" r="5.2"/><circle cx="333.6" cy="849.4" r="5.2"/><circle cx="321.5" cy="822.2" r="5.2"/><circle cx="334.3" cy="816.8" r="5.2"/><circle cx="330.7" cy="806.3" r="5.2"/><circle cx="329.7" cy="754.2" r="5.2"/><circle cx="330.6" cy="811.3" r="5.2"/><circle cx="321.7" cy="831.1" r="5.2"/><circle cx="327.1" cy="776.8" r="5.2"/><circle cx="331.5" cy="764.9" r="5.2"/><circle cx="330.7" cy="762.5" r="5.2"/><circle cx="322.9" cy="795.7" r="5.2"/><circle cx="319.1" cy="753" r="5.2"/><circle cx="333.6" cy="779.3" r="5.2"/><circle cx="316.8" cy="774.7" r="5.2"/><circle cx="332" cy="786.9" r="5.2"/><circle cx="317.4" cy="785.5" r="5.2"/><circle cx="320.4" cy="847.7" r="5.2"/><circle cx="328.7" cy="815.2" r="5.2"/><circle cx="320.9" cy="783" r="5.2"/><circle cx="318.9" cy="839.2" r="5.2"/><circle cx="326.3" cy="831.9" r="5.2"/><circle cx="327.7" cy="798.1" r="5.2"/><circle cx="319.9" cy="813.1" r="5.2"/><circle cx="319.4" cy="850.4" r="5.2"/><circle cx="333.2" cy="819.3" r="5.2"/><circle cx="325.5" cy="818" r="5.2"/><circle cx="333.1" cy="770.4" r="5.2"/><circle cx="315.2" cy="823.5" r="5.2"/><circle cx="322.2" cy="791.8" r="5.2"/><circle cx="327.5" cy="778.5" r="5.2"/><circle cx="327.8" cy="711.5" r="5.2"/><circle cx="331" cy="722.5" r="5.2"/><circle cx="317.8" cy="738" r="5.2"/><circle cx="316.7" cy="746" r="5.2"/><circle cx="320.6" cy="749" r="5.2"/><circle cx="331.4" cy="747" r="5.2"/><circle cx="314.1" cy="876" r="5.2"/><circle cx="317.4" cy="876.5" r="5.2"/><circle cx="314.5" cy="875.5" r="5.2"/><circle cx="333.3" cy="859" r="5.2"/></g>
<g fill="#8b008b" stroke="#363636" stroke-width="1.5"><circle cx="495.3" cy="807.9" r="5.2"/><circle cx="488.1" cy="792.3" r="5.2"/><circle cx="490.2" cy="831.4" r="5.2"/><circle cx="493.9" cy="830.2" r="5.2"/><circle cx="480.6" cy="777.6" r="5.2"/><circle cx="479.1" cy="772.1" r="5.2"/><circle cx="492.6" cy="803.3" r="5.2"/><circle cx="485.5" cy="785.3" r="5.2"/><circle cx="484.5" cy="819.5" r="5.2"/><circle cx="492.9" cy="836.8" r="5.2"/><circle cx="492.9" cy="804.9" r="5.2"/><circle cx="479.8" cy="790.2" r="5.2"/><circle cx="478.8" cy="816.1" r="5.2"/><circle cx="483.4" cy="775.7" r="5.2"/><circle cx="489" cy="784.6" r="5.2"/><circle cx="494.8" cy="806.3" r="5.2"/><circle cx="489.3" cy="805.8" r="5.2"/><circle cx="485.3" cy="801.8" r="5.2"/><circle cx="496.5" cy="776.4" r="5.2"/><circle cx="494.3" cy="853.7" r="5.2"/><circle cx="492.7" cy="847.2" r="5.2"/><circle cx="494.8" cy="865.9" r="5.2"/><circle cx="478" cy="822.8" r="5.2"/><circle cx="477.1" cy="837.4" r="5.2"/><circle cx="491.2" cy="852" r="5.2"/><circle cx="488" cy="766.8" r="5.2"/><circle cx="494.4" cy="764.6" r="5.2"/><circle cx="496.4" cy="769.8" r="5.2"/><circle cx="486.4" cy="830.7" r="5.2"/><circle cx="487.9" cy="823.2" r="5.2"/><circle cx="491.8" cy="817.6" r="5.2"/><circle cx="487.7" cy="796.7" r="5.2"/><circle cx="492" cy="818.7" r="5.2"/><circle cx="488.5" cy="829.7" r="5.2"/><circle cx="480.1" cy="865.3" r="5.2"/><circle cx="492.3" cy="824.7" r="5.2"/><circle cx="496.3" cy="807.2" r="5.2"/><circle cx="494.8" cy="857" r="5.2"/><circle cx="494.4" cy="841.2" r="5.2"/><circle cx="482.7" cy="770.8" r="5.2"/><circle cx="478.7" cy="834.2" r="5.2"/><circle cx="495.4" cy="798.8" r="5.2"/><circle cx="495.7" cy="765.5" r="5.2"/><circle cx="485.2" cy="850.1" r="5.2"/><circle cx="477" cy="815.4" r="5.2"/><circle cx="476.5" cy="838.1" r="5.2"/><circle cx="477.1" cy="789.6" r="5.2"/><circle cx="478.8" cy="827" r="5.2"/><circle cx="494.2" cy="767.9" r="5.2"/><circle cx="484.4" cy="797.5" r="5.2"/><circle cx="487" cy="802.7" r="5.2"/><circle cx="486.1" cy="792.9" r="5.2"/><circle cx="483.4" cy="794" r="5.2"/><circle cx="485.4" cy="786.4" r="5.2"/><circle cx="477.6" cy="808.5" r="5.2"/><circle cx="497.3" cy="788.5" r="5.2"/><circle cx="484.7" cy="813.3" r="5.2"/><circle cx="481.4" cy="791.3" r="5.2"/><circle cx="487.7" cy="861.7" r="5.2"/><circle cx="495.1" cy="840" r="5.2"/><circle cx="488.4" cy="818.1" r="5.2"/><circle cx="481.7" cy="781.2" r="5.2"/><circle cx="484.5" cy="849.3" r="5.2"/><circle cx="492.6" cy="801.2" r="5.2"/><circle cx="483.8" cy="795.4" r="5.2"/><circle cx="485.7" cy="852.7" r="5.2"/><circle cx="485.1" cy="826.6" r="5.2"/><circle cx="487.7" cy="832.1" r="5.2"/><circle cx="495.7" cy="820" r="5.2"/><circle cx="481.9" cy="840.5" r="5.2"/><circle cx="492.7" cy="798.2" r="5.2"/><circle cx="489" cy="825.9" r="5.2"/><circle cx="481.4" cy="783.3" r="5.2"/><circle cx="487.7" cy="847.8" r="5.2"/><circle cx="483.9" cy="828.2" r="5.2"/><circle cx="485.1" cy="856.3" r="5.2"/><circle cx="487" cy="823.8" r="5.2"/><circle cx="477.2" cy="778.7" r="5.2"/><circle cx="482.8" cy="772.8" r="5.2"/><circle cx="494.7" cy="842.8" r="5.2"/><circle cx="497.2" cy="821.2" r="5.2"/><circle cx="485.6" cy="862.9" r="5.2"/><circle cx="493.5" cy="799.4" r="5.2"/><circle cx="482.3" cy="779.9" r="5.2"/><circle cx="477.9" cy="846.3" r="5.2"/><circle cx="495.9" cy="825.3" r="5.2"/><circle cx="490.9" cy="812.2" r="5.2"/><circle cx="478" cy="820.9" r="5.2"/><circle cx="490.7" cy="835.2" r="5.2"/><circle cx="491.2" cy="822.2" r="5.2"/><circle cx="479.3" cy="859.1" r="5.2"/><circle cx="495.1" cy="834.7" r="5.2"/><circle cx="496.3" cy="864.2" r="5.2"/><circle cx="478.2" cy="810.9" r="5.2"/><circle cx="488.7" cy="843.4" r="5.2"/><circle cx="484.7" cy="782.3" r="5.2"/><circle cx="485.9" cy="760.4" r="5.2"/><circle cx="486.8" cy="839.3" r="5.2"/><circle cx="496.3" cy="858.1" r="5.2"/><circle cx="488.6" cy="832.9" r="5.2"/><circle cx="481.3" cy="811.6" r="5.2"/><circle cx="489.3" cy="836.1" r="5.2"/><circle cx="477.1" cy="844.2" r="5.2"/><circle cx="478.7" cy="848.5" r="5.2"/><circle cx="486.9" cy="860.6" r="5.2"/><circle cx="487.8" cy="829.1" r="5.2"/><circle cx="476.7" cy="813" r="5.2"/><circle cx="477.4" cy="841.9" r="5.2"/><circle cx="493.7" cy="763.4" r="5.2"/><circle cx="491.4" cy="762.2" r="5.2"/><circle cx="488.4" cy="800.5" r="5.2"/><circle cx="484.4" cy="774.6" r="5.2"/><circle cx="487.7" cy="859.8" r="5.2"/><circle cx="481.5" cy="814" r="5.2"/><circle cx="487.7" cy="854.5" r="5.2"/><circle cx="482.8" cy="867.4" r="5.2"/><circle cx="493.3" cy="851.2" r="5.2"/><circle cx="487.2" cy="810.1" r="5.2"/><circle cx="487.4" cy="845.1" r="5.2"/><circle cx="494.4" cy="833.5" r="5.2"/><circle cx="483.9" cy="838.7" r="5.2"/><circle cx="478.1" cy="794.6" r="5.2"/><circle cx="484.5" cy="855.1" r="5.2"/><circle cx="495.3" cy="814.7" r="5.2"/><circle cx="493.4" cy="827.7" r="5.2"/><circle cx="481.3" cy="787.5" r="5.2"/><circle cx="490.1" cy="804.4" r="5.2"/><circle cx="485.8" cy="845.5" r="5.2"/><circle cx="481.2" cy="809.5" r="5.2"/><circle cx="484" cy="816.8" r="5.2"/><circle cx="483.7" cy="758" r="5.2"/><circle cx="485.7" cy="761" r="5.2"/><circle cx="495.3" cy="763" r="5.2"/></g>
<g fill="#8b008b" stroke="#363636" stroke-width="1.5"><circle cx="497.2" cy="880.3" r="5.2"/></g>
<line x1="323.8" y1="744" x2="323.8" y2="857" stroke="#000" stroke-width="3" />
<path d="M323.8,794.4 L331.2,801.8 L323.8,809.2 L316.4,801.8Z" fill="#fff" stroke="#000" stroke-width="2.7" stroke-linejoin="miter"/>
<line x1="486.9" y1="770.6" x2="486.9" y2="874.4" stroke="#000" stroke-width="3" />
<path d="M486.9,814.6 L494.3,822 L486.9,829.4 L479.5,822Z" fill="#fff" stroke="#000" stroke-width="2.7" stroke-linejoin="miter"/>
<line x1="323.8" y1="667.7" x2="487" y2="667.7" stroke="#000" stroke-width="1.8" stroke-linecap="butt"/>
<text x="405.4" y="671.7" font-family="'Liberation Sans',sans-serif" font-size="26" text-anchor="middle" letter-spacing="0.7">****</text>
<line x1="226.7" y1="653" x2="226.7" y2="989" stroke="#000" stroke-width="2.3" />
<line x1="225.6" y1="988" x2="584.4" y2="988" stroke="#000" stroke-width="2.3" />
<line x1="220.2" y1="667.7" x2="226.7" y2="667.7" stroke="#000" stroke-width="2" />
<text x="215.7" y="677" font-family="'Liberation Sans',sans-serif" font-size="26.2" text-anchor="end" >6</text>
<line x1="220.2" y1="769.8" x2="226.7" y2="769.8" stroke="#000" stroke-width="2" />
<text x="215.7" y="779.1" font-family="'Liberation Sans',sans-serif" font-size="26.2" text-anchor="end" >4</text>
<line x1="220.2" y1="871.6" x2="226.7" y2="871.6" stroke="#000" stroke-width="2" />
<text x="215.7" y="880.9" font-family="'Liberation Sans',sans-serif" font-size="26.2" text-anchor="end" >2</text>
<line x1="220.2" y1="973.3" x2="226.7" y2="973.3" stroke="#000" stroke-width="2" />
<text x="215.7" y="982.6" font-family="'Liberation Sans',sans-serif" font-size="26.2" text-anchor="end" >0</text>
<line x1="323.8" y1="988" x2="323.8" y2="994.5" stroke="#000" stroke-width="2" />
<text x="323.1" y="1021" font-family="'Liberation Sans',sans-serif" font-size="26.2" text-anchor="middle" >Control</text>
<line x1="486.9" y1="988" x2="486.9" y2="994.5" stroke="#000" stroke-width="2" />
<text x="481.4" y="1021" font-family="'Liberation Sans',sans-serif" font-size="26.2" text-anchor="middle" >Compressed</text>
<text x="174" y="812" font-family="'Liberation Sans',sans-serif" font-size="26.2" text-anchor="middle" transform="rotate(-90 174 812)" >Seed Area (10<tspan font-size="17" dy="-10">4</tspan><tspan dy="10"> µm</tspan><tspan font-size="17" dy="-10">2</tspan><tspan dy="10">)</tspan></text>
<text x="72" y="627" font-family="'Liberation Sans',sans-serif" font-size="35" text-anchor="start" font-weight="bold" >(d)</text>
<rect x="739.8" y="655.4" width="349.9" height="333" fill="#f5f5f5" />
<path d="M834.5,669.7 L834.6,674.8 L834.7,680 L834.8,685.1 L834.9,690.3 L835.1,695.4 L835.2,700.6 L835.3,705.7 L835.4,710.9 L835.5,716 L835.6,721.2 L835.7,726.3 L835.8,731.5 L836,736.6 L836.3,741.8 L837.2,746.9 L838.4,752.1 L840.3,757.2 L843.4,762.4 L848.7,767.5 L855,772.7 L863.1,777.8 L872,783 L882.2,788.1 L890.2,793.3 L896.4,798.4 L901,803.6 L902.1,808.7 L897.5,813.9 L890,819 L881.7,824.2 L871.5,829.3 L864.4,834.5 L858.6,839.6 L855.7,844.8 L858.3,849.9 L864.1,855.1 L870.5,860.2 L878,865.4 L882.2,870.5 L884.1,875.7 L883,880.8 L879.1,886 L873.2,891.1 L865.2,896.3 L857.8,901.4 L850.6,906.6 L845.5,911.7 L841.6,916.9 L840,922 L839.3,927.2 L838.8,932.3 L838.2,937.5 L837.8,942.6 L837.3,947.8 L836.9,952.9 L836.4,958.1 L835.8,963.2 L835.2,968.4 L834.5,973.5 L834.5,973.5 L833.8,968.4 L833.2,963.2 L832.6,958.1 L832.1,952.9 L831.7,947.8 L831.2,942.6 L830.8,937.5 L830.2,932.3 L829.7,927.2 L829,922 L827.4,916.9 L823.5,911.7 L818.4,906.6 L811.2,901.4 L803.8,896.3 L795.8,891.1 L789.9,886 L786,880.8 L784.9,875.7 L786.8,870.5 L791,865.4 L798.5,860.2 L804.9,855.1 L810.7,849.9 L813.3,844.8 L810.4,839.6 L804.6,834.5 L797.5,829.3 L787.3,824.2 L779,819 L771.5,813.9 L766.9,808.7 L768,803.6 L772.6,798.4 L778.8,793.3 L786.8,788.1 L797,783 L805.9,777.8 L814,772.7 L820.3,767.5 L825.6,762.4 L828.7,757.2 L830.6,752.1 L831.8,746.9 L832.7,741.8 L833,736.6 L833.2,731.5 L833.3,726.3 L833.4,721.2 L833.5,716 L833.6,710.9 L833.7,705.7 L833.8,700.6 L833.9,695.4 L834.1,690.3 L834.2,685.1 L834.3,680 L834.4,674.8 L834.5,669.7Z" fill="none" stroke="#333" stroke-width="2.0" stroke-linejoin="round"/>
<path d="M993.8,745.8 L994,749.5 L994.5,753.3 L995.2,757 L996.1,760.7 L997.9,764.5 L1000.3,768.2 L1003,771.9 L1006.3,775.7 L1009.8,779.4 L1013.1,783.1 L1016.3,786.9 L1019.3,790.6 L1022,794.3 L1024.5,798.1 L1026.5,801.8 L1027.8,805.5 L1029,809.2 L1029.9,813 L1030.4,816.7 L1030.4,820.4 L1029.7,824.2 L1028.5,827.9 L1027,831.6 L1025.5,835.4 L1023.7,839.1 L1021.4,842.8 L1019.6,846.6 L1019.7,850.3 L1022.2,854 L1026.1,857.8 L1032.2,861.5 L1041.2,865.2 L1049.2,869 L1055,872.7 L1060.6,876.4 L1064.7,880.2 L1066.1,883.9 L1063.3,887.6 L1057.3,891.4 L1050.5,895.1 L1043.5,898.8 L1035.3,902.6 L1028.3,906.3 L1023.1,910 L1018.7,913.7 L1014.9,917.5 L1011.8,921.2 L1009,924.9 L1006.6,928.7 L1004.4,932.4 L1002.6,936.1 L1000.8,939.9 L999.4,943.6 L998.6,947.3 L998.1,951.1 L997.7,954.8 L996.9,958.5 L995.6,962.3 L993.8,966 L993.8,966 L992,962.3 L990.7,958.5 L989.9,954.8 L989.5,951.1 L989,947.3 L988.2,943.6 L986.8,939.9 L985,936.1 L983.2,932.4 L981,928.7 L978.6,924.9 L975.8,921.2 L972.7,917.5 L968.9,913.7 L964.5,910 L959.3,906.3 L952.3,902.6 L944.1,898.8 L937.1,895.1 L930.3,891.4 L924.3,887.6 L921.5,883.9 L922.9,880.2 L927,876.4 L932.6,872.7 L938.4,869 L946.4,865.2 L955.4,861.5 L961.5,857.8 L965.4,854 L967.9,850.3 L968,846.6 L966.2,842.8 L963.9,839.1 L962.1,835.4 L960.6,831.6 L959.1,827.9 L957.9,824.2 L957.2,820.4 L957.2,816.7 L957.7,813 L958.6,809.2 L959.8,805.5 L961.1,801.8 L963.1,798.1 L965.6,794.3 L968.3,790.6 L971.3,786.9 L974.5,783.1 L977.8,779.4 L981.3,775.7 L984.6,771.9 L987.3,768.2 L989.7,764.5 L991.5,760.7 L992.4,757 L993.1,753.3 L993.6,749.5 L993.8,745.8Z" fill="none" stroke="#333" stroke-width="2.0" stroke-linejoin="round"/>
<g fill="#066206" stroke="#363636" stroke-width="1.5"><circle cx="839.5" cy="827.4" r="5.2"/><circle cx="831.1" cy="775.7" r="5.2"/><circle cx="833.8" cy="825.5" r="5.2"/><circle cx="832.9" cy="782.5" r="5.2"/><circle cx="835.9" cy="818.5" r="5.2"/><circle cx="842.5" cy="807.9" r="5.2"/><circle cx="824.7" cy="786.7" r="5.2"/><circle cx="824.2" cy="773" r="5.2"/><circle cx="828.2" cy="807.4" r="5.2"/><circle cx="827.5" cy="780.1" r="5.2"/><circle cx="844.3" cy="811.8" r="5.2"/><circle cx="825.2" cy="791.1" r="5.2"/><circle cx="825.9" cy="789.9" r="5.2"/><circle cx="829.9" cy="816.9" r="5.2"/><circle cx="836.8" cy="770.3" r="5.2"/><circle cx="825.5" cy="805.6" r="5.2"/><circle cx="836" cy="833.7" r="5.2"/><circle cx="831" cy="796" r="5.2"/><circle cx="829.5" cy="804.4" r="5.2"/><circle cx="825.9" cy="798.9" r="5.2"/><circle cx="837.9" cy="783.8" r="5.2"/><circle cx="825.9" cy="813" r="5.2"/><circle cx="828.6" cy="772.1" r="5.2"/><circle cx="824.8" cy="801.3" r="5.2"/><circle cx="827.6" cy="779.4" r="5.2"/><circle cx="837" cy="778.3" r="5.2"/><circle cx="832.4" cy="829.5" r="5.2"/><circle cx="844.2" cy="819.5" r="5.2"/><circle cx="842.8" cy="805" r="5.2"/><circle cx="829.4" cy="792.9" r="5.2"/><circle cx="841.4" cy="824.8" r="5.2"/><circle cx="841.4" cy="814.1" r="5.2"/><circle cx="824" cy="837.5" r="5.2"/><circle cx="835.9" cy="785.3" r="5.2"/><circle cx="827.8" cy="784.5" r="5.2"/><circle cx="824.6" cy="806.3" r="5.2"/><circle cx="841.5" cy="793.4" r="5.2"/><circle cx="834.2" cy="809.4" r="5.2"/><circle cx="828.3" cy="774.4" r="5.2"/><circle cx="833.7" cy="781.7" r="5.2"/><circle cx="839.4" cy="787.3" r="5.2"/><circle cx="827.5" cy="810.7" r="5.2"/><circle cx="830.3" cy="826.6" r="5.2"/><circle cx="840.8" cy="817.9" r="5.2"/><circle cx="840.5" cy="794.5" r="5.2"/><circle cx="837.7" cy="810.2" r="5.2"/><circle cx="824.9" cy="820.4" r="5.2"/><circle cx="839.2" cy="828.3" r="5.2"/><circle cx="828.7" cy="823.6" r="5.2"/><circle cx="832.6" cy="788.3" r="5.2"/><circle cx="835.8" cy="777.3" r="5.2"/><circle cx="830.7" cy="792" r="5.2"/><circle cx="830.2" cy="799.6" r="5.2"/><circle cx="836.7" cy="797.7" r="5.2"/><circle cx="829.3" cy="802.1" r="5.2"/><circle cx="844.4" cy="821.2" r="5.2"/><circle cx="843.1" cy="800.6" r="5.2"/><circle cx="827" cy="796.5" r="5.2"/><circle cx="827.1" cy="814.7" r="5.2"/><circle cx="834.5" cy="816.2" r="5.2"/><circle cx="844.4" cy="789.1" r="5.2"/><circle cx="837.1" cy="803.7" r="5.2"/><circle cx="830.9" cy="832.8" r="5.2"/><circle cx="827.5" cy="822.7" r="5.2"/><circle cx="827.2" cy="803" r="5.2"/><circle cx="832.8" cy="808.8" r="5.2"/><circle cx="830.5" cy="815.4" r="5.2"/><circle cx="829.8" cy="830.5" r="5.2"/><circle cx="836.4" cy="795.1" r="5.2"/><circle cx="841.9" cy="798.2" r="5.2"/><circle cx="826" cy="831.5" r="5.2"/><circle cx="825.4" cy="812.2" r="5.2"/><circle cx="831.9" cy="822" r="5.2"/><circle cx="838.9" cy="836.4" r="5.2"/><circle cx="837.4" cy="835.2" r="5.2"/><circle cx="829.6" cy="860.6" r="5.2"/><circle cx="827.1" cy="870.6" r="5.2"/><circle cx="835.8" cy="882.9" r="5.2"/><circle cx="834.8" cy="889.1" r="5.2"/><circle cx="834.7" cy="888.1" r="5.2"/><circle cx="830.5" cy="879.9" r="5.2"/><circle cx="825.9" cy="890.2" r="5.2"/><circle cx="835" cy="881.6" r="5.2"/><circle cx="837" cy="876" r="5.2"/><circle cx="840" cy="864.7" r="5.2"/><circle cx="835.8" cy="875.4" r="5.2"/><circle cx="831" cy="859.8" r="5.2"/><circle cx="832.9" cy="878" r="5.2"/><circle cx="843.6" cy="871" r="5.2"/><circle cx="833" cy="876.8" r="5.2"/><circle cx="833.8" cy="878.4" r="5.2"/><circle cx="839.2" cy="859.3" r="5.2"/><circle cx="827.6" cy="869.3" r="5.2"/><circle cx="834" cy="866.3" r="5.2"/><circle cx="836.6" cy="886.6" r="5.2"/><circle cx="841.2" cy="861.9" r="5.2"/><circle cx="829.6" cy="869.9" r="5.2"/><circle cx="825.6" cy="897.5" r="5.2"/><circle cx="843.3" cy="873.8" r="5.2"/><circle cx="844.4" cy="866.6" r="5.2"/><circle cx="828.6" cy="854.5" r="5.2"/><circle cx="839.1" cy="879" r="5.2"/><circle cx="825.5" cy="864.1" r="5.2"/><circle cx="828.7" cy="885.4" r="5.2"/><circle cx="843.4" cy="856.7" r="5.2"/><circle cx="843.3" cy="890.8" r="5.2"/><circle cx="831" cy="891.2" r="5.2"/><circle cx="827.8" cy="892.9" r="5.2"/><circle cx="826.7" cy="887.2" r="5.2"/><circle cx="835.6" cy="883.3" r="5.2"/><circle cx="837.9" cy="861.3" r="5.2"/><circle cx="842" cy="886.1" r="5.2"/><circle cx="836.5" cy="888.8" r="5.2"/><circle cx="824" cy="856" r="5.2"/><circle cx="834.2" cy="874.1" r="5.2"/><circle cx="827.4" cy="896.6" r="5.2"/><circle cx="832" cy="855.2" r="5.2"/><circle cx="828.2" cy="892.1" r="5.2"/><circle cx="843.8" cy="867.4" r="5.2"/><circle cx="832.1" cy="862.6" r="5.2"/><circle cx="837.8" cy="894.6" r="5.2"/><circle cx="842" cy="868.1" r="5.2"/><circle cx="828.4" cy="865.5" r="5.2"/><circle cx="841.9" cy="863.3" r="5.2"/><circle cx="844.8" cy="882.1" r="5.2"/><circle cx="834.8" cy="874.8" r="5.2"/><circle cx="844.2" cy="868.7" r="5.2"/><circle cx="829.1" cy="872.4" r="5.2"/><circle cx="826.3" cy="877.4" r="5.2"/><circle cx="841.1" cy="873.2" r="5.2"/><circle cx="843.9" cy="884" r="5.2"/><circle cx="842.5" cy="894.9" r="5.2"/><circle cx="825.1" cy="858.4" r="5.2"/><circle cx="824.3" cy="880.4" r="5.2"/><circle cx="839.5" cy="871.7" r="5.2"/><circle cx="837.2" cy="880.8" r="5.2"/><circle cx="837.6" cy="857.6" r="5.2"/><circle cx="826.9" cy="884.5" r="5.2"/><circle cx="836.6" cy="893.5" r="5.2"/><circle cx="834.4" cy="896.1" r="5.2"/><circle cx="835.3" cy="843" r="5.2"/><circle cx="830.1" cy="848" r="5.2"/></g>
<g fill="#066206" stroke="#363636" stroke-width="1.5"><circle cx="843.7" cy="688.4" r="5.2"/><circle cx="824.4" cy="751.5" r="5.2"/><circle cx="842.4" cy="909.4" r="5.2"/><circle cx="831" cy="916.4" r="5.2"/><circle cx="843.5" cy="923.7" r="5.2"/><circle cx="826.6" cy="930" r="5.2"/><circle cx="836.5" cy="941.7" r="5.2"/><circle cx="828.8" cy="947.8" r="5.2"/><circle cx="824.4" cy="952.2" r="5.2"/></g>
<g fill="#8b008b" stroke="#363636" stroke-width="1.5"><circle cx="985.7" cy="800.8" r="5.2"/><circle cx="1001.6" cy="830.1" r="5.2"/><circle cx="993.3" cy="809.8" r="5.2"/><circle cx="987.3" cy="812.9" r="5.2"/><circle cx="998" cy="826.6" r="5.2"/><circle cx="994" cy="821.3" r="5.2"/><circle cx="993" cy="840.5" r="5.2"/><circle cx="999.9" cy="807.7" r="5.2"/><circle cx="997.4" cy="816.2" r="5.2"/><circle cx="989.7" cy="811.5" r="5.2"/><circle cx="995.6" cy="844.4" r="5.2"/><circle cx="985.7" cy="833" r="5.2"/><circle cx="999.8" cy="797.1" r="5.2"/><circle cx="989.1" cy="798.3" r="5.2"/><circle cx="996.2" cy="804" r="5.2"/><circle cx="989.7" cy="843.1" r="5.2"/><circle cx="1003.6" cy="845" r="5.2"/><circle cx="991.6" cy="793.4" r="5.2"/><circle cx="992.1" cy="834.6" r="5.2"/><circle cx="994.8" cy="816.9" r="5.2"/><circle cx="1003.5" cy="841.7" r="5.2"/><circle cx="994.7" cy="802.1" r="5.2"/><circle cx="998" cy="790.6" r="5.2"/><circle cx="1001.8" cy="810.7" r="5.2"/><circle cx="987.8" cy="819.4" r="5.2"/><circle cx="984.9" cy="832.1" r="5.2"/><circle cx="1002.5" cy="825.3" r="5.2"/><circle cx="985.8" cy="822.1" r="5.2"/><circle cx="1000" cy="820" r="5.2"/><circle cx="996.9" cy="839.3" r="5.2"/><circle cx="993.3" cy="802.9" r="5.2"/><circle cx="989.2" cy="792.4" r="5.2"/><circle cx="986.7" cy="835.3" r="5.2"/><circle cx="992.6" cy="838.1" r="5.2"/><circle cx="992.8" cy="796" r="5.2"/><circle cx="995.6" cy="823.2" r="5.2"/><circle cx="987.3" cy="804.9" r="5.2"/><circle cx="998.4" cy="814.9" r="5.2"/><circle cx="993.4" cy="824.2" r="5.2"/><circle cx="1002.3" cy="827.9" r="5.2"/><circle cx="1002.2" cy="806.1" r="5.2"/><circle cx="996.5" cy="794.6" r="5.2"/><circle cx="996.4" cy="808.8" r="5.2"/><circle cx="985" cy="837" r="5.2"/><circle cx="1000.2" cy="799.5" r="5.2"/><circle cx="986.7" cy="789.8" r="5.2"/><circle cx="990.7" cy="813.6" r="5.2"/><circle cx="996.6" cy="818.2" r="5.2"/><circle cx="986.2" cy="830.9" r="5.2"/><circle cx="1003.4" cy="829.1" r="5.2"/><circle cx="987" cy="879.6" r="5.2"/><circle cx="1000.8" cy="873.5" r="5.2"/><circle cx="989.3" cy="866.2" r="5.2"/><circle cx="985.3" cy="916.1" r="5.2"/><circle cx="995.1" cy="928.5" r="5.2"/><circle cx="996.2" cy="905.5" r="5.2"/><circle cx="991.7" cy="862.4" r="5.2"/><circle cx="991.2" cy="914.2" r="5.2"/><circle cx="992" cy="863.4" r="5.2"/><circle cx="991.2" cy="885.5" r="5.2"/><circle cx="985.5" cy="882.3" r="5.2"/><circle cx="989.4" cy="872.8" r="5.2"/><circle cx="1000.4" cy="900.6" r="5.2"/><circle cx="986.8" cy="891.4" r="5.2"/><circle cx="983.8" cy="886.5" r="5.2"/><circle cx="993.2" cy="902.6" r="5.2"/><circle cx="992.9" cy="887.7" r="5.2"/><circle cx="985.4" cy="881.6" r="5.2"/><circle cx="986.9" cy="869.4" r="5.2"/><circle cx="987.2" cy="890.5" r="5.2"/><circle cx="989.5" cy="876.9" r="5.2"/><circle cx="986" cy="894.5" r="5.2"/><circle cx="999.8" cy="877.7" r="5.2"/><circle cx="994.7" cy="922.1" r="5.2"/><circle cx="1001.3" cy="897.2" r="5.2"/><circle cx="995.7" cy="935.4" r="5.2"/><circle cx="1002.3" cy="918.8" r="5.2"/><circle cx="993.5" cy="874.6" r="5.2"/><circle cx="996.5" cy="889" r="5.2"/><circle cx="985.8" cy="909.6" r="5.2"/><circle cx="984.2" cy="889.4" r="5.2"/><circle cx="997.7" cy="876.4" r="5.2"/><circle cx="991.2" cy="884" r="5.2"/><circle cx="987.1" cy="887.1" r="5.2"/><circle cx="986.9" cy="899.1" r="5.2"/><circle cx="984.5" cy="880.8" r="5.2"/><circle cx="998.6" cy="923.1" r="5.2"/><circle cx="989.2" cy="878.7" r="5.2"/><circle cx="999.3" cy="896.3" r="5.2"/><circle cx="994.8" cy="871.9" r="5.2"/><circle cx="1002.3" cy="895.6" r="5.2"/><circle cx="993" cy="864.3" r="5.2"/><circle cx="991.9" cy="907.9" r="5.2"/><circle cx="1001.7" cy="924.6" r="5.2"/><circle cx="998.8" cy="870.3" r="5.2"/><circle cx="985.5" cy="901.4" r="5.2"/><circle cx="990.7" cy="865.5" r="5.2"/><circle cx="1001.5" cy="910.8" r="5.2"/><circle cx="984.7" cy="926.1" r="5.2"/><circle cx="990.5" cy="898.2" r="5.2"/><circle cx="984.3" cy="883.3" r="5.2"/><circle cx="987.8" cy="868.5" r="5.2"/><circle cx="990.8" cy="892" r="5.2"/><circle cx="995.7" cy="912.2" r="5.2"/><circle cx="1002.7" cy="913.4" r="5.2"/><circle cx="1001.6" cy="870.8" r="5.2"/><circle cx="987.2" cy="931.1" r="5.2"/><circle cx="991.5" cy="884.8" r="5.2"/><circle cx="989.9" cy="880.1" r="5.2"/><circle cx="984" cy="930.2" r="5.2"/><circle cx="990.3" cy="893.8" r="5.2"/><circle cx="991.2" cy="920.5" r="5.2"/><circle cx="997.2" cy="875.4" r="5.2"/><circle cx="987.4" cy="917.6" r="5.2"/><circle cx="999.3" cy="907.2" r="5.2"/><circle cx="997.7" cy="932.9" r="5.2"/><circle cx="1002" cy="903.8" r="5.2"/><circle cx="1001.5" cy="867.7" r="5.2"/><circle cx="992.4" cy="904.9" r="5.2"/><circle cx="994.6" cy="892.8" r="5.2"/><circle cx="1001.5" cy="853" r="5.2"/></g>
<g fill="#8b008b" stroke="#363636" stroke-width="1.5"><circle cx="988.9" cy="970.2" r="5.2"/><circle cx="993.7" cy="970.2" r="5.2"/></g>
<line x1="834.5" y1="751.5" x2="834.5" y2="920.8" stroke="#000" stroke-width="3" />
<path d="M834.5,829 L841.9,836.4 L834.5,843.8 L827.1,836.4Z" fill="#fff" stroke="#000" stroke-width="2.7" stroke-linejoin="miter"/>
<line x1="993.8" y1="783.8" x2="993.8" y2="946" stroke="#000" stroke-width="3" />
<path d="M993.8,857.6 L1001.2,865 L993.8,872.4 L986.4,865Z" fill="#fff" stroke="#000" stroke-width="2.7" stroke-linejoin="miter"/>
<line x1="832" y1="657.7" x2="994.4" y2="657.7" stroke="#000" stroke-width="1.8" stroke-linecap="butt"/>
<text x="913.2" y="661.7" font-family="'Liberation Sans',sans-serif" font-size="26" text-anchor="middle" letter-spacing="0.7">****</text>
<line x1="739.8" y1="655.4" x2="739.8" y2="989.4" stroke="#000" stroke-width="2.3" />
<line x1="738.7" y1="988.4" x2="1089.7" y2="988.4" stroke="#000" stroke-width="2.3" />
<line x1="733.3" y1="688" x2="739.8" y2="688" stroke="#000" stroke-width="2" />
<text x="728.8" y="697.3" font-family="'Liberation Sans',sans-serif" font-size="26.2" text-anchor="end" >80</text>
<line x1="733.3" y1="759.3" x2="739.8" y2="759.3" stroke="#000" stroke-width="2" />
<text x="728.8" y="768.6" font-family="'Liberation Sans',sans-serif" font-size="26.2" text-anchor="end" >60</text>
<line x1="733.3" y1="830.7" x2="739.8" y2="830.7" stroke="#000" stroke-width="2" />
<text x="728.8" y="840" font-family="'Liberation Sans',sans-serif" font-size="26.2" text-anchor="end" >40</text>
<line x1="733.3" y1="902" x2="739.8" y2="902" stroke="#000" stroke-width="2" />
<text x="728.8" y="911.3" font-family="'Liberation Sans',sans-serif" font-size="26.2" text-anchor="end" >20</text>
<line x1="733.3" y1="973.4" x2="739.8" y2="973.4" stroke="#000" stroke-width="2" />
<text x="728.8" y="982.7" font-family="'Liberation Sans',sans-serif" font-size="26.2" text-anchor="end" >0</text>
<line x1="834.5" y1="988.4" x2="834.5" y2="994.9" stroke="#000" stroke-width="2" />
<text x="834.2" y="1023" font-family="'Liberation Sans',sans-serif" font-size="26.2" text-anchor="middle" >Control</text>
<line x1="993.8" y1="988.4" x2="993.8" y2="994.9" stroke="#000" stroke-width="2" />
<text x="990.3" y="1023" font-family="'Liberation Sans',sans-serif" font-size="26.2" text-anchor="middle" >Compressed</text>
<text x="669" y="825" font-family="'Liberation Sans',sans-serif" font-size="26.2" text-anchor="middle" transform="rotate(-90 669 825)" >Endosperm Nuclei Number</text>
<rect x="1251.4" y="655.4" width="332.9" height="333.4" fill="#f5f5f5" />
<path d="M1341.5,669.3 L1341.6,674.3 L1341.7,679.4 L1341.8,684.4 L1341.9,689.5 L1342.1,694.5 L1342.2,699.6 L1342.4,704.6 L1342.5,709.7 L1342.7,714.7 L1342.8,719.7 L1342.9,724.8 L1343.1,729.8 L1343.3,734.9 L1343.9,739.9 L1345.7,745 L1347.8,750 L1350.1,755 L1352.8,760.1 L1356.5,765.1 L1360.8,770.2 L1366.2,775.2 L1371.7,780.3 L1375.5,785.3 L1378.4,790.4 L1380.2,795.4 L1381.5,800.4 L1382.8,805.5 L1384.2,810.5 L1386.3,815.6 L1391.1,820.6 L1396.6,825.7 L1401.5,830.7 L1405.8,835.8 L1408.9,840.8 L1410,845.8 L1408.1,850.9 L1404.6,855.9 L1400.6,861 L1394.7,866 L1388.8,871.1 L1382.7,876.1 L1376.7,881.2 L1370.8,886.2 L1365.3,891.2 L1360.2,896.3 L1356.1,901.3 L1353.2,906.4 L1351.1,911.4 L1349.6,916.5 L1348.4,921.5 L1347.3,926.5 L1346.3,931.6 L1345.2,936.6 L1344.2,941.7 L1343.4,946.7 L1342.8,951.8 L1342.2,956.8 L1341.8,961.9 L1341.5,966.9 L1341.5,966.9 L1341.2,961.9 L1340.8,956.8 L1340.2,951.8 L1339.6,946.7 L1338.8,941.7 L1337.8,936.6 L1336.7,931.6 L1335.7,926.5 L1334.6,921.5 L1333.4,916.5 L1331.9,911.4 L1329.8,906.4 L1326.9,901.3 L1322.8,896.3 L1317.7,891.2 L1312.2,886.2 L1306.3,881.2 L1300.3,876.1 L1294.2,871.1 L1288.3,866 L1282.4,861 L1278.4,855.9 L1274.9,850.9 L1273,845.8 L1274.1,840.8 L1277.2,835.8 L1281.5,830.7 L1286.4,825.7 L1291.9,820.6 L1296.7,815.6 L1298.8,810.5 L1300.2,805.5 L1301.5,800.4 L1302.8,795.4 L1304.6,790.4 L1307.5,785.3 L1311.3,780.3 L1316.8,775.2 L1322.2,770.2 L1326.5,765.1 L1330.2,760.1 L1332.9,755 L1335.2,750 L1337.3,745 L1339.1,739.9 L1339.7,734.9 L1339.9,729.8 L1340.1,724.8 L1340.2,719.7 L1340.3,714.7 L1340.5,709.7 L1340.6,704.6 L1340.8,699.6 L1340.9,694.5 L1341.1,689.5 L1341.2,684.4 L1341.3,679.4 L1341.4,674.3 L1341.5,669.3Z" fill="none" stroke="#333" stroke-width="2.0" stroke-linejoin="round"/>
<path d="M1493.7,692.8 L1493.8,697.6 L1494.1,702.4 L1494.4,707.1 L1494.8,711.9 L1495.3,716.7 L1495.9,721.5 L1496.6,726.2 L1497.6,731 L1498.8,735.8 L1499.6,740.6 L1500.2,745.3 L1501.2,750.1 L1503,754.9 L1505.2,759.7 L1507.9,764.4 L1510.9,769.2 L1513.8,774 L1516.7,778.8 L1519.5,783.5 L1522.3,788.3 L1525,793.1 L1527.8,797.9 L1530.5,802.7 L1533.2,807.4 L1535.9,812.2 L1538.1,817 L1540,821.8 L1541.9,826.5 L1543.7,831.3 L1545.7,836.1 L1548,840.9 L1550.4,845.6 L1552.8,850.4 L1555.2,855.2 L1556.9,860 L1558.1,864.7 L1557.6,869.5 L1555.5,874.3 L1551.6,879.1 L1544.1,883.9 L1536.1,888.6 L1527.1,893.4 L1518.9,898.2 L1511.9,903 L1506.1,907.7 L1502.4,912.5 L1499.6,917.3 L1498.1,922.1 L1497.2,926.8 L1496.6,931.6 L1496.1,936.4 L1495.7,941.2 L1495.4,945.9 L1495.1,950.7 L1494.8,955.5 L1494.5,960.3 L1494.2,965 L1494,969.8 L1493.7,974.6 L1493.7,974.6 L1493.4,969.8 L1493.2,965 L1492.9,960.3 L1492.6,955.5 L1492.3,950.7 L1492,945.9 L1491.7,941.2 L1491.3,936.4 L1490.8,931.6 L1490.2,926.8 L1489.3,922.1 L1487.8,917.3 L1485,912.5 L1481.3,907.7 L1475.5,903 L1468.5,898.2 L1460.3,893.4 L1451.3,888.6 L1443.3,883.9 L1435.8,879.1 L1431.9,874.3 L1429.8,869.5 L1429.3,864.7 L1430.5,860 L1432.2,855.2 L1434.6,850.4 L1437,845.6 L1439.4,840.9 L1441.7,836.1 L1443.7,831.3 L1445.5,826.5 L1447.4,821.8 L1449.3,817 L1451.5,812.2 L1454.2,807.4 L1456.9,802.7 L1459.6,797.9 L1462.4,793.1 L1465.1,788.3 L1467.9,783.5 L1470.7,778.8 L1473.6,774 L1476.5,769.2 L1479.5,764.4 L1482.2,759.7 L1484.4,754.9 L1486.2,750.1 L1487.2,745.3 L1487.8,740.6 L1488.6,735.8 L1489.8,731 L1490.8,726.2 L1491.5,721.5 L1492.1,716.7 L1492.6,711.9 L1493,707.1 L1493.3,702.4 L1493.6,697.6 L1493.7,692.8Z" fill="none" stroke="#333" stroke-width="2.0" stroke-linejoin="round"/>
<g fill="#066206" stroke="#363636" stroke-width="1.5"><circle cx="1337.2" cy="878.5" r="5.2"/><circle cx="1331.5" cy="834" r="5.2"/><circle cx="1342.1" cy="834.9" r="5.2"/><circle cx="1333.1" cy="886.9" r="5.2"/><circle cx="1344.5" cy="873.5" r="5.2"/><circle cx="1346.9" cy="773.5" r="5.2"/><circle cx="1343.5" cy="868.1" r="5.2"/><circle cx="1338" cy="797.4" r="5.2"/><circle cx="1345.5" cy="884.9" r="5.2"/><circle cx="1341.4" cy="789.2" r="5.2"/><circle cx="1350.5" cy="882.3" r="5.2"/><circle cx="1343" cy="869.5" r="5.2"/><circle cx="1335" cy="860.5" r="5.2"/><circle cx="1333.3" cy="874.2" r="5.2"/><circle cx="1332.9" cy="767.5" r="5.2"/><circle cx="1349.9" cy="888.2" r="5.2"/><circle cx="1344.6" cy="845.1" r="5.2"/><circle cx="1339.7" cy="842.4" r="5.2"/><circle cx="1340.5" cy="830.9" r="5.2"/><circle cx="1342.2" cy="809.4" r="5.2"/><circle cx="1340.4" cy="826.5" r="5.2"/><circle cx="1349.1" cy="821.4" r="5.2"/><circle cx="1333" cy="819.7" r="5.2"/><circle cx="1343.8" cy="881.1" r="5.2"/><circle cx="1338.6" cy="800.6" r="5.2"/><circle cx="1333.4" cy="844.3" r="5.2"/><circle cx="1332.2" cy="837.5" r="5.2"/><circle cx="1346" cy="799.8" r="5.2"/><circle cx="1335.5" cy="853.8" r="5.2"/><circle cx="1337" cy="827.4" r="5.2"/><circle cx="1333.2" cy="778.8" r="5.2"/><circle cx="1340.6" cy="828.1" r="5.2"/><circle cx="1349.8" cy="836.2" r="5.2"/><circle cx="1334.1" cy="784.6" r="5.2"/><circle cx="1348.5" cy="774.8" r="5.2"/><circle cx="1332" cy="863.7" r="5.2"/><circle cx="1335.6" cy="804.9" r="5.2"/><circle cx="1338.8" cy="847.6" r="5.2"/><circle cx="1339.9" cy="816.7" r="5.2"/><circle cx="1341.3" cy="812.7" r="5.2"/><circle cx="1339.1" cy="848.6" r="5.2"/><circle cx="1345.9" cy="856.5" r="5.2"/><circle cx="1347.3" cy="810.7" r="5.2"/><circle cx="1346.8" cy="792.1" r="5.2"/><circle cx="1346.9" cy="798" r="5.2"/><circle cx="1332.6" cy="892.4" r="5.2"/><circle cx="1347" cy="820.5" r="5.2"/><circle cx="1348.9" cy="845.7" r="5.2"/><circle cx="1341.8" cy="870.9" r="5.2"/><circle cx="1349.8" cy="862.2" r="5.2"/><circle cx="1339.4" cy="814.1" r="5.2"/><circle cx="1336.6" cy="886.3" r="5.2"/><circle cx="1346.4" cy="813.4" r="5.2"/><circle cx="1337.4" cy="843.9" r="5.2"/><circle cx="1331.6" cy="866.6" r="5.2"/><circle cx="1337" cy="825.6" r="5.2"/><circle cx="1342.1" cy="790.3" r="5.2"/><circle cx="1349.7" cy="879.4" r="5.2"/><circle cx="1340.8" cy="766" r="5.2"/><circle cx="1346.4" cy="851.8" r="5.2"/><circle cx="1337.7" cy="769.7" r="5.2"/><circle cx="1345.3" cy="864" r="5.2"/><circle cx="1345.9" cy="796.3" r="5.2"/><circle cx="1346.9" cy="868.8" r="5.2"/><circle cx="1343.5" cy="850.3" r="5.2"/><circle cx="1341.4" cy="841.9" r="5.2"/><circle cx="1341.9" cy="806.9" r="5.2"/><circle cx="1338.8" cy="838.6" r="5.2"/><circle cx="1346.5" cy="828.5" r="5.2"/><circle cx="1332.9" cy="859.1" r="5.2"/><circle cx="1342.3" cy="840.4" r="5.2"/><circle cx="1344.2" cy="801.3" r="5.2"/><circle cx="1340.2" cy="865" r="5.2"/><circle cx="1336.4" cy="779.6" r="5.2"/><circle cx="1331.8" cy="794.4" r="5.2"/><circle cx="1331.6" cy="852.8" r="5.2"/><circle cx="1340.4" cy="875.2" r="5.2"/><circle cx="1337" cy="832.6" r="5.2"/><circle cx="1334.9" cy="818" r="5.2"/><circle cx="1336.5" cy="839.4" r="5.2"/><circle cx="1345.8" cy="848.2" r="5.2"/><circle cx="1334.6" cy="883.9" r="5.2"/><circle cx="1337.3" cy="804.3" r="5.2"/><circle cx="1334.4" cy="857.8" r="5.2"/><circle cx="1344.9" cy="862.9" r="5.2"/><circle cx="1339" cy="889.1" r="5.2"/><circle cx="1341.5" cy="867.2" r="5.2"/><circle cx="1349.4" cy="877" r="5.2"/><circle cx="1349.4" cy="814.9" r="5.2"/><circle cx="1349" cy="807.6" r="5.2"/><circle cx="1342.8" cy="764.9" r="5.2"/><circle cx="1341.8" cy="865.6" r="5.2"/><circle cx="1341.7" cy="808.2" r="5.2"/><circle cx="1334.1" cy="831.9" r="5.2"/><circle cx="1348.8" cy="762.8" r="5.2"/><circle cx="1334.4" cy="877.7" r="5.2"/><circle cx="1334.2" cy="850.6" r="5.2"/><circle cx="1346.5" cy="822.2" r="5.2"/><circle cx="1349" cy="824.9" r="5.2"/><circle cx="1335.3" cy="793.8" r="5.2"/><circle cx="1344.2" cy="830" r="5.2"/><circle cx="1333.2" cy="786.3" r="5.2"/><circle cx="1335.1" cy="836.8" r="5.2"/><circle cx="1351.2" cy="787.4" r="5.2"/><circle cx="1343.2" cy="822.8" r="5.2"/><circle cx="1338.1" cy="840" r="5.2"/><circle cx="1339.5" cy="876.1" r="5.2"/><circle cx="1336.7" cy="859.9" r="5.2"/><circle cx="1341.3" cy="861.3" r="5.2"/><circle cx="1348.7" cy="841.2" r="5.2"/><circle cx="1334.7" cy="795.5" r="5.2"/><circle cx="1343.6" cy="809.8" r="5.2"/><circle cx="1332.6" cy="833.2" r="5.2"/><circle cx="1346.9" cy="851.4" r="5.2"/><circle cx="1332.4" cy="846.8" r="5.2"/><circle cx="1340.3" cy="819" r="5.2"/><circle cx="1335.3" cy="792.7" r="5.2"/><circle cx="1344.4" cy="777.7" r="5.2"/><circle cx="1340" cy="824.2" r="5.2"/><circle cx="1348.3" cy="775.7" r="5.2"/><circle cx="1347.9" cy="854.5" r="5.2"/><circle cx="1347.5" cy="838.1" r="5.2"/><circle cx="1339.5" cy="880.3" r="5.2"/><circle cx="1338" cy="817.4" r="5.2"/><circle cx="1347.4" cy="763.8" r="5.2"/><circle cx="1332.1" cy="857.1" r="5.2"/><circle cx="1346.1" cy="770.9" r="5.2"/><circle cx="1337.4" cy="783.5" r="5.2"/><circle cx="1347.2" cy="890.3" r="5.2"/><circle cx="1345.5" cy="853.3" r="5.2"/><circle cx="1341.6" cy="870.2" r="5.2"/><circle cx="1334" cy="891.5" r="5.2"/><circle cx="1335.4" cy="843.3" r="5.2"/><circle cx="1337.2" cy="777" r="5.2"/><circle cx="1350" cy="835.4" r="5.2"/><circle cx="1335.3" cy="849.4" r="5.2"/><circle cx="1349.3" cy="846.3" r="5.2"/><circle cx="1342.3" cy="816.1" r="5.2"/><circle cx="1350.9" cy="829.2" r="5.2"/><circle cx="1348.1" cy="811.5" r="5.2"/><circle cx="1344" cy="803.2" r="5.2"/><circle cx="1335.7" cy="798.9" r="5.2"/><circle cx="1337.9" cy="781.8" r="5.2"/><circle cx="1335.3" cy="772.1" r="5.2"/><circle cx="1350.5" cy="858.6" r="5.2"/><circle cx="1331.7" cy="768.8" r="5.2"/><circle cx="1337.6" cy="782.7" r="5.2"/><circle cx="1344.5" cy="855.9" r="5.2"/><circle cx="1344.2" cy="855.1" r="5.2"/><circle cx="1350.2" cy="871.6" r="5.2"/><circle cx="1332.4" cy="823.4" r="5.2"/><circle cx="1335.8" cy="785.3" r="5.2"/><circle cx="1344.1" cy="790.8" r="5.2"/><circle cx="1350.7" cy="883.1" r="5.2"/><circle cx="1349.9" cy="805.6" r="5.2"/><circle cx="1334.6" cy="788.2" r="5.2"/><circle cx="1346.2" cy="802.5" r="5.2"/><circle cx="1341.2" cy="872.5" r="5.2"/><circle cx="1340.9" cy="781" r="5.2"/><circle cx="1334.9" cy="831.5" r="5.2"/></g>
<g fill="#066206" stroke="#363636" stroke-width="1.5"><circle cx="1351.4" cy="700" r="5.2"/><circle cx="1347" cy="752.4" r="5.2"/><circle cx="1347.5" cy="903.3" r="5.2"/><circle cx="1339.8" cy="906.6" r="5.2"/><circle cx="1331" cy="912" r="5.2"/><circle cx="1336.5" cy="914.3" r="5.2"/><circle cx="1347.5" cy="919.3" r="5.2"/><circle cx="1341.3" cy="923.7" r="5.2"/><circle cx="1343.5" cy="935.7" r="5.2"/><circle cx="1333" cy="764" r="5.2"/><circle cx="1338" cy="759" r="5.2"/></g>
<g fill="#8b008b" stroke="#363636" stroke-width="1.5"><circle cx="1493.7" cy="819.9" r="5.2"/><circle cx="1496.1" cy="813.9" r="5.2"/><circle cx="1489.7" cy="799.3" r="5.2"/><circle cx="1488.9" cy="883.3" r="5.2"/><circle cx="1490.4" cy="874.5" r="5.2"/><circle cx="1501.7" cy="843.7" r="5.2"/><circle cx="1491" cy="848.8" r="5.2"/><circle cx="1483.8" cy="884" r="5.2"/><circle cx="1502.6" cy="824" r="5.2"/><circle cx="1498.9" cy="828.8" r="5.2"/><circle cx="1495.8" cy="894.4" r="5.2"/><circle cx="1489.2" cy="860.9" r="5.2"/><circle cx="1503.5" cy="854.5" r="5.2"/><circle cx="1492.2" cy="814.8" r="5.2"/><circle cx="1498.5" cy="895.7" r="5.2"/><circle cx="1489.2" cy="878.6" r="5.2"/><circle cx="1496.9" cy="798.4" r="5.2"/><circle cx="1486.5" cy="858.4" r="5.2"/><circle cx="1497.7" cy="811.9" r="5.2"/><circle cx="1490.8" cy="857" r="5.2"/><circle cx="1498" cy="820.7" r="5.2"/><circle cx="1496.9" cy="897.3" r="5.2"/><circle cx="1494.6" cy="875.5" r="5.2"/><circle cx="1493.7" cy="835.1" r="5.2"/><circle cx="1500.8" cy="831.7" r="5.2"/><circle cx="1484.6" cy="878.2" r="5.2"/><circle cx="1499.6" cy="849.5" r="5.2"/><circle cx="1493.1" cy="890.1" r="5.2"/><circle cx="1488.8" cy="828.1" r="5.2"/><circle cx="1496.1" cy="839.5" r="5.2"/><circle cx="1501.1" cy="825.9" r="5.2"/><circle cx="1503.6" cy="793.9" r="5.2"/><circle cx="1495.7" cy="796.6" r="5.2"/><circle cx="1490.2" cy="885.6" r="5.2"/><circle cx="1500.2" cy="844.9" r="5.2"/><circle cx="1494.5" cy="860.3" r="5.2"/><circle cx="1496.2" cy="866.3" r="5.2"/><circle cx="1498.4" cy="857.6" r="5.2"/><circle cx="1485.8" cy="818.1" r="5.2"/><circle cx="1484.5" cy="822.6" r="5.2"/><circle cx="1496.9" cy="801" r="5.2"/><circle cx="1500.9" cy="852.7" r="5.2"/><circle cx="1501.4" cy="838.3" r="5.2"/><circle cx="1499.5" cy="846.9" r="5.2"/><circle cx="1498.5" cy="825.4" r="5.2"/><circle cx="1492" cy="851.4" r="5.2"/><circle cx="1495.5" cy="856.4" r="5.2"/><circle cx="1489.7" cy="802.9" r="5.2"/><circle cx="1495.7" cy="832.4" r="5.2"/><circle cx="1502.6" cy="833.2" r="5.2"/><circle cx="1490" cy="805.4" r="5.2"/><circle cx="1495.7" cy="833.8" r="5.2"/><circle cx="1501.8" cy="799.9" r="5.2"/><circle cx="1497.7" cy="834.8" r="5.2"/><circle cx="1492.5" cy="817" r="5.2"/><circle cx="1489.6" cy="829.7" r="5.2"/><circle cx="1487.3" cy="888.8" r="5.2"/><circle cx="1501.7" cy="806.9" r="5.2"/><circle cx="1503.3" cy="856" r="5.2"/><circle cx="1500.1" cy="824.4" r="5.2"/><circle cx="1495.4" cy="848.2" r="5.2"/><circle cx="1489.4" cy="881.4" r="5.2"/><circle cx="1495.3" cy="867.5" r="5.2"/><circle cx="1500.2" cy="870.1" r="5.2"/><circle cx="1500.6" cy="866.8" r="5.2"/><circle cx="1497.3" cy="807.5" r="5.2"/><circle cx="1495" cy="869.3" r="5.2"/><circle cx="1501.7" cy="879.9" r="5.2"/><circle cx="1489.2" cy="868" r="5.2"/><circle cx="1492.9" cy="840.9" r="5.2"/><circle cx="1490.4" cy="810" r="5.2"/><circle cx="1491" cy="840" r="5.2"/><circle cx="1496" cy="862.6" r="5.2"/><circle cx="1501.9" cy="864.6" r="5.2"/><circle cx="1491.3" cy="812.4" r="5.2"/><circle cx="1500.5" cy="810.8" r="5.2"/><circle cx="1490.4" cy="838.8" r="5.2"/><circle cx="1499.3" cy="871.7" r="5.2"/><circle cx="1485.2" cy="873.1" r="5.2"/><circle cx="1485.5" cy="882.3" r="5.2"/><circle cx="1494.6" cy="831.2" r="5.2"/><circle cx="1501.7" cy="821.7" r="5.2"/><circle cx="1503.3" cy="806" r="5.2"/><circle cx="1484.3" cy="873.6" r="5.2"/><circle cx="1496.2" cy="790.4" r="5.2"/><circle cx="1503" cy="870.5" r="5.2"/><circle cx="1496.9" cy="830.2" r="5.2"/><circle cx="1488.6" cy="816.2" r="5.2"/><circle cx="1501.5" cy="802" r="5.2"/><circle cx="1503.4" cy="793.2" r="5.2"/><circle cx="1499" cy="868.7" r="5.2"/><circle cx="1500.4" cy="791.3" r="5.2"/><circle cx="1489.4" cy="795.1" r="5.2"/><circle cx="1486" cy="882.6" r="5.2"/><circle cx="1494.3" cy="893.6" r="5.2"/><circle cx="1488.1" cy="865.6" r="5.2"/><circle cx="1486.2" cy="835.9" r="5.2"/><circle cx="1487.3" cy="827.4" r="5.2"/><circle cx="1496.8" cy="853.4" r="5.2"/><circle cx="1500.1" cy="864.9" r="5.2"/><circle cx="1489.7" cy="841.7" r="5.2"/><circle cx="1493" cy="818.7" r="5.2"/><circle cx="1498.1" cy="887.8" r="5.2"/><circle cx="1495.2" cy="850" r="5.2"/><circle cx="1484.3" cy="822.9" r="5.2"/><circle cx="1490.8" cy="836.8" r="5.2"/><circle cx="1484.2" cy="850.7" r="5.2"/><circle cx="1497.8" cy="862.1" r="5.2"/><circle cx="1487.7" cy="844.3" r="5.2"/><circle cx="1490.3" cy="863.1" r="5.2"/><circle cx="1498.5" cy="808.4" r="5.2"/><circle cx="1487" cy="852.2" r="5.2"/><circle cx="1495.5" cy="891.4" r="5.2"/><circle cx="1484.3" cy="826.7" r="5.2"/><circle cx="1494.8" cy="875" r="5.2"/><circle cx="1485.5" cy="896.3" r="5.2"/><circle cx="1497.3" cy="892.6" r="5.2"/><circle cx="1502.6" cy="797.8" r="5.2"/><circle cx="1488.9" cy="872.3" r="5.2"/><circle cx="1500" cy="854" r="5.2"/><circle cx="1492.2" cy="842.2" r="5.2"/><circle cx="1499.5" cy="863.9" r="5.2"/><circle cx="1499.3" cy="837.3" r="5.2"/><circle cx="1494.4" cy="859.4" r="5.2"/><circle cx="1501.3" cy="871.1" r="5.2"/><circle cx="1499.9" cy="861.4" r="5.2"/><circle cx="1489.2" cy="813.2" r="5.2"/><circle cx="1496.2" cy="887.2" r="5.2"/><circle cx="1503.5" cy="819.5" r="5.2"/><circle cx="1489.6" cy="889.4" r="5.2"/><circle cx="1486" cy="879.6" r="5.2"/><circle cx="1497.1" cy="842.9" r="5.2"/><circle cx="1497.1" cy="855.1" r="5.2"/><circle cx="1503" cy="880.6" r="5.2"/><circle cx="1503.7" cy="884.7" r="5.2"/><circle cx="1496.1" cy="847.5" r="5.2"/><circle cx="1498.5" cy="877" r="5.2"/><circle cx="1489.2" cy="792" r="5.2"/><circle cx="1502.1" cy="846.3" r="5.2"/><circle cx="1484.7" cy="876.3" r="5.2"/><circle cx="1492.9" cy="877.3" r="5.2"/><circle cx="1491.4" cy="803.5" r="5.2"/><circle cx="1494.2" cy="892.2" r="5.2"/><circle cx="1499.6" cy="858.8" r="5.2"/><circle cx="1500.8" cy="804.2" r="5.2"/><circle cx="1500" cy="886.3" r="5.2"/><circle cx="1502.5" cy="795.5" r="5.2"/><circle cx="1485.5" cy="815.4" r="5.2"/><circle cx="1490" cy="809.1" r="5.2"/><circle cx="1492.4" cy="845.5" r="5.2"/></g>
<g fill="#8b008b" stroke="#363636" stroke-width="1.5"><circle cx="1490" cy="727.2" r="5.2"/><circle cx="1502.5" cy="735.5" r="5.2"/><circle cx="1499.9" cy="748.7" r="5.2"/><circle cx="1494" cy="756.8" r="5.2"/><circle cx="1492.2" cy="763.6" r="5.2"/><circle cx="1502" cy="768.4" r="5.2"/><circle cx="1483.4" cy="787" r="5.2"/><circle cx="1499" cy="772" r="5.2"/><circle cx="1500" cy="780" r="5.2"/><circle cx="1502.5" cy="908.8" r="5.2"/><circle cx="1483.4" cy="913.2" r="5.2"/><circle cx="1486.7" cy="931.4" r="5.2"/></g>
<line x1="1341.5" y1="763.4" x2="1341.5" y2="911" stroke="#000" stroke-width="3" />
<path d="M1341.5,830.1 L1348.9,837.5 L1341.5,844.9 L1334.1,837.5Z" fill="#fff" stroke="#000" stroke-width="2.7" stroke-linejoin="miter"/>
<line x1="1493.7" y1="766.2" x2="1493.7" y2="919.7" stroke="#000" stroke-width="3" />
<path d="M1493.7,835.6 L1501.1,843 L1493.7,850.4 L1486.3,843Z" fill="#fff" stroke="#000" stroke-width="2.7" stroke-linejoin="miter"/>
<line x1="1339.8" y1="658.3" x2="1494.4" y2="658.3" stroke="#000" stroke-width="1.8" stroke-linecap="butt"/>
<text x="1412.1" y="653.3" font-family="'Liberation Sans',sans-serif" font-size="26.2" text-anchor="middle" >ns</text>
<line x1="1251.4" y1="655.4" x2="1251.4" y2="989.8" stroke="#000" stroke-width="2.3" />
<line x1="1250.3" y1="988.8" x2="1584.3" y2="988.8" stroke="#000" stroke-width="2.3" />
<line x1="1244.9" y1="658.8" x2="1251.4" y2="658.8" stroke="#000" stroke-width="2" />
<text x="1240.4" y="668.1" font-family="'Liberation Sans',sans-serif" font-size="26.2" text-anchor="end" >2.0</text>
<line x1="1244.9" y1="738.8" x2="1251.4" y2="738.8" stroke="#000" stroke-width="2" />
<text x="1240.4" y="748.1" font-family="'Liberation Sans',sans-serif" font-size="26.2" text-anchor="end" >1.5</text>
<line x1="1244.9" y1="819.3" x2="1251.4" y2="819.3" stroke="#000" stroke-width="2" />
<text x="1240.4" y="828.6" font-family="'Liberation Sans',sans-serif" font-size="26.2" text-anchor="end" >1.0</text>
<line x1="1244.9" y1="899.3" x2="1251.4" y2="899.3" stroke="#000" stroke-width="2" />
<text x="1240.4" y="908.6" font-family="'Liberation Sans',sans-serif" font-size="26.2" text-anchor="end" >0.5</text>
<line x1="1244.9" y1="979.6" x2="1251.4" y2="979.6" stroke="#000" stroke-width="2" />
<text x="1240.4" y="988.9" font-family="'Liberation Sans',sans-serif" font-size="26.2" text-anchor="end" >0.0</text>
<line x1="1341.5" y1="988.8" x2="1341.5" y2="995.3" stroke="#000" stroke-width="2" />
<text x="1337.8" y="1022" font-family="'Liberation Sans',sans-serif" font-size="26.2" text-anchor="middle" >Control</text>
<line x1="1493.7" y1="988.8" x2="1493.7" y2="995.3" stroke="#000" stroke-width="2" />
<text x="1491" y="1022" font-family="'Liberation Sans',sans-serif" font-size="26.2" text-anchor="middle" >Compressed</text>
<text x="1177" y="821" font-family="'Liberation Sans',sans-serif" font-size="26.2" text-anchor="middle" transform="rotate(-90 1177 821)" >Endosperm Area (10<tspan font-size="17" dy="-10">4</tspan><tspan dy="10"> µm</tspan><tspan font-size="17" dy="-10">2</tspan><tspan dy="10">)</tspan></text>
<g fill="#066406"><ellipse cx="775.2" cy="1138.3" rx="4.5" ry="4.1"/><ellipse cx="636" cy="1207.5" rx="4.5" ry="4.1"/><ellipse cx="623.9" cy="1285" rx="4.5" ry="4.1"/><ellipse cx="630.5" cy="1306.7" rx="4.5" ry="4.1"/><ellipse cx="636.3" cy="1315.3" rx="4.5" ry="4.1"/><ellipse cx="646.1" cy="1311.3" rx="4.5" ry="4.1"/><ellipse cx="545.5" cy="1311.3" rx="4.5" ry="4.1"/><ellipse cx="562.8" cy="1311.3" rx="4.5" ry="4.1"/><ellipse cx="580.7" cy="1315.3" rx="4.5" ry="4.1"/><ellipse cx="590.8" cy="1323.9" rx="4.5" ry="4.1"/><ellipse cx="665.7" cy="1319.9" rx="4.5" ry="4.1"/><ellipse cx="687.3" cy="1319.9" rx="4.5" ry="4.1"/><ellipse cx="665.7" cy="1340.7" rx="4.5" ry="4.1"/><ellipse cx="698" cy="1337.2" rx="4.5" ry="4.1"/><ellipse cx="673.5" cy="1358.5" rx="4.5" ry="4.1"/><ellipse cx="660.5" cy="1367.5" rx="4.5" ry="4.1"/><ellipse cx="655.6" cy="1354.5" rx="4.5" ry="4.1"/><ellipse cx="489" cy="1336.9" rx="4.5" ry="4.1"/><ellipse cx="496.5" cy="1332" rx="4.5" ry="4.1"/><ellipse cx="503.4" cy="1332" rx="4.5" ry="4.1"/><ellipse cx="519.6" cy="1332" rx="4.5" ry="4.1"/><ellipse cx="530.2" cy="1329.1" rx="4.5" ry="4.1"/><ellipse cx="537.4" cy="1328.6" rx="4.5" ry="4.1"/><ellipse cx="546.1" cy="1328.6" rx="4.5" ry="4.1"/><ellipse cx="553.3" cy="1328.6" rx="4.5" ry="4.1"/><ellipse cx="530.8" cy="1332.9" rx="4.5" ry="4.1"/><ellipse cx="482.1" cy="1345.6" rx="4.5" ry="4.1"/><ellipse cx="485" cy="1349.9" rx="4.5" ry="4.1"/><ellipse cx="504.3" cy="1345.6" rx="4.5" ry="4.1"/><ellipse cx="516.4" cy="1340.7" rx="4.5" ry="4.1"/><ellipse cx="519.3" cy="1345" rx="4.5" ry="4.1"/><ellipse cx="532.5" cy="1345.6" rx="4.5" ry="4.1"/><ellipse cx="524.5" cy="1353.6" rx="4.5" ry="4.1"/><ellipse cx="510.9" cy="1354.2" rx="4.5" ry="4.1"/><ellipse cx="491.9" cy="1358.5" rx="4.5" ry="4.1"/><ellipse cx="500.5" cy="1362.9" rx="4.5" ry="4.1"/><ellipse cx="511.5" cy="1371.5" rx="4.5" ry="4.1"/><ellipse cx="520.1" cy="1376.1" rx="4.5" ry="4.1"/><ellipse cx="536" cy="1370.9" rx="4.5" ry="4.1"/><ellipse cx="541.8" cy="1358" rx="4.5" ry="4.1"/><ellipse cx="547.5" cy="1366.6" rx="4.5" ry="4.1"/><ellipse cx="554.7" cy="1336.9" rx="4.5" ry="4.1"/><ellipse cx="553.3" cy="1345.6" rx="4.5" ry="4.1"/><ellipse cx="561.4" cy="1345.6" rx="4.5" ry="4.1"/><ellipse cx="565.7" cy="1349.9" rx="4.5" ry="4.1"/><ellipse cx="587.9" cy="1340.7" rx="4.5" ry="4.1"/><ellipse cx="596.5" cy="1345" rx="4.5" ry="4.1"/><ellipse cx="613.8" cy="1336.9" rx="4.5" ry="4.1"/><ellipse cx="621.9" cy="1328.6" rx="4.5" ry="4.1"/><ellipse cx="632.5" cy="1332.6" rx="4.5" ry="4.1"/><ellipse cx="626.8" cy="1345.6" rx="4.5" ry="4.1"/><ellipse cx="636.9" cy="1349.9" rx="4.5" ry="4.1"/><ellipse cx="603.7" cy="1353.6" rx="4.5" ry="4.1"/><ellipse cx="610.9" cy="1358" rx="4.5" ry="4.1"/><ellipse cx="626.8" cy="1362.9" rx="4.5" ry="4.1"/><ellipse cx="587.9" cy="1366.6" rx="4.5" ry="4.1"/><ellipse cx="577.8" cy="1375.8" rx="4.5" ry="4.1"/><ellipse cx="561.9" cy="1384.5" rx="4.5" ry="4.1"/><ellipse cx="553.9" cy="1388.8" rx="4.5" ry="4.1"/><ellipse cx="546.1" cy="1388.8" rx="4.5" ry="4.1"/><ellipse cx="492.8" cy="1388.2" rx="4.5" ry="4.1"/><ellipse cx="480.4" cy="1401.8" rx="4.5" ry="4.1"/><ellipse cx="541.8" cy="1405.5" rx="4.5" ry="4.1"/><ellipse cx="536" cy="1414.2" rx="4.5" ry="4.1"/><ellipse cx="558.2" cy="1415" rx="4.5" ry="4.1"/><ellipse cx="510.1" cy="1414.2" rx="4.5" ry="4.1"/><ellipse cx="470.3" cy="1418.5" rx="4.5" ry="4.1"/><ellipse cx="595.1" cy="1419.1" rx="4.5" ry="4.1"/><ellipse cx="572" cy="1427.7" rx="4.5" ry="4.1"/><ellipse cx="558.2" cy="1427.7" rx="4.5" ry="4.1"/><ellipse cx="608" cy="1385.3" rx="4.5" ry="4.1"/><ellipse cx="628.2" cy="1375.8" rx="4.5" ry="4.1"/><ellipse cx="442.3" cy="1427.1" rx="4.5" ry="4.1"/><ellipse cx="448.9" cy="1427.1" rx="4.5" ry="4.1"/><ellipse cx="455.3" cy="1422.8" rx="4.5" ry="4.1"/><ellipse cx="462.5" cy="1422.8" rx="4.5" ry="4.1"/><ellipse cx="458.2" cy="1431.5" rx="4.5" ry="4.1"/><ellipse cx="442.3" cy="1440.1" rx="4.5" ry="4.1"/><ellipse cx="435.1" cy="1453.1" rx="4.5" ry="4.1"/><ellipse cx="448.1" cy="1453.1" rx="4.5" ry="4.1"/><ellipse cx="504.3" cy="1453.1" rx="4.5" ry="4.1"/><ellipse cx="512.9" cy="1431.5" rx="4.5" ry="4.1"/><ellipse cx="515.8" cy="1453.1" rx="4.5" ry="4.1"/><ellipse cx="533.1" cy="1457.4" rx="4.5" ry="4.1"/><ellipse cx="543.2" cy="1431.5" rx="4.5" ry="4.1"/><ellipse cx="547.5" cy="1435.8" rx="4.5" ry="4.1"/><ellipse cx="556.2" cy="1444.4" rx="4.5" ry="4.1"/><ellipse cx="563.4" cy="1448.7" rx="4.5" ry="4.1"/><ellipse cx="489.9" cy="1457.4" rx="4.5" ry="4.1"/><ellipse cx="532.5" cy="1474.7" rx="4.5" ry="4.1"/><ellipse cx="406.9" cy="1483.3" rx="4.5" ry="4.1"/><ellipse cx="410.6" cy="1492" rx="4.5" ry="4.1"/><ellipse cx="406.9" cy="1500.6" rx="4.5" ry="4.1"/><ellipse cx="376.6" cy="1513.6" rx="4.5" ry="4.1"/><ellipse cx="380.4" cy="1522.2" rx="4.5" ry="4.1"/><ellipse cx="380.9" cy="1526.6" rx="4.5" ry="4.1"/><ellipse cx="526.8" cy="1350.2" rx="4.5" ry="4.1"/><ellipse cx="538.9" cy="1353.6" rx="4.5" ry="4.1"/><ellipse cx="545.2" cy="1360.8" rx="4.5" ry="4.1"/><ellipse cx="600.8" cy="1347.9" rx="4.5" ry="4.1"/><ellipse cx="618.1" cy="1345" rx="4.5" ry="4.1"/><ellipse cx="593.6" cy="1358" rx="4.5" ry="4.1"/><ellipse cx="583.5" cy="1360.8" rx="4.5" ry="4.1"/><ellipse cx="631.1" cy="1353.6" rx="4.5" ry="4.1"/><ellipse cx="645.5" cy="1345" rx="4.5" ry="4.1"/><ellipse cx="616.7" cy="1360.8" rx="4.5" ry="4.1"/><ellipse cx="623.9" cy="1368" rx="4.5" ry="4.1"/></g>
<g fill="#8b008b"><ellipse cx="729.7" cy="1328.6" rx="4.5" ry="4.1"/><ellipse cx="712.7" cy="1345.6" rx="4.5" ry="4.1"/><ellipse cx="688.7" cy="1358.5" rx="4.5" ry="4.1"/><ellipse cx="695.4" cy="1367.5" rx="4.5" ry="4.1"/><ellipse cx="683.6" cy="1388.8" rx="4.5" ry="4.1"/><ellipse cx="652.1" cy="1332.6" rx="4.5" ry="4.1"/><ellipse cx="642.1" cy="1336.9" rx="4.5" ry="4.1"/><ellipse cx="636.9" cy="1345.6" rx="4.5" ry="4.1"/><ellipse cx="645.5" cy="1349.9" rx="4.5" ry="4.1"/><ellipse cx="616.7" cy="1349.9" rx="4.5" ry="4.1"/><ellipse cx="598" cy="1332.6" rx="4.5" ry="4.1"/><ellipse cx="600.8" cy="1336.9" rx="4.5" ry="4.1"/><ellipse cx="586.4" cy="1353.6" rx="4.5" ry="4.1"/><ellipse cx="596.5" cy="1349.3" rx="4.5" ry="4.1"/><ellipse cx="609.5" cy="1358.5" rx="4.5" ry="4.1"/><ellipse cx="599.4" cy="1367.5" rx="4.5" ry="4.1"/><ellipse cx="610.9" cy="1370.9" rx="4.5" ry="4.1"/><ellipse cx="621" cy="1384.5" rx="4.5" ry="4.1"/><ellipse cx="625.3" cy="1384.5" rx="4.5" ry="4.1"/><ellipse cx="636.3" cy="1388.8" rx="4.5" ry="4.1"/><ellipse cx="639.7" cy="1384.5" rx="4.5" ry="4.1"/><ellipse cx="601.4" cy="1388.8" rx="4.5" ry="4.1"/><ellipse cx="564.8" cy="1332.6" rx="4.5" ry="4.1"/><ellipse cx="548.1" cy="1332.6" rx="4.5" ry="4.1"/><ellipse cx="569.1" cy="1345.6" rx="4.5" ry="4.1"/><ellipse cx="525.9" cy="1345.6" rx="4.5" ry="4.1"/><ellipse cx="551.8" cy="1354.2" rx="4.5" ry="4.1"/><ellipse cx="556.2" cy="1362.9" rx="4.5" ry="4.1"/><ellipse cx="569.1" cy="1362.9" rx="4.5" ry="4.1"/><ellipse cx="554.7" cy="1370.9" rx="4.5" ry="4.1"/><ellipse cx="543.2" cy="1375.8" rx="4.5" ry="4.1"/><ellipse cx="564.8" cy="1375.8" rx="4.5" ry="4.1"/><ellipse cx="572" cy="1380.2" rx="4.5" ry="4.1"/><ellipse cx="574.9" cy="1384.5" rx="4.5" ry="4.1"/><ellipse cx="570.6" cy="1388.8" rx="4.5" ry="4.1"/><ellipse cx="471.1" cy="1379.6" rx="4.5" ry="4.1"/><ellipse cx="504.9" cy="1396.9" rx="4.5" ry="4.1"/><ellipse cx="500" cy="1401.2" rx="4.5" ry="4.1"/><ellipse cx="512.9" cy="1418.5" rx="4.5" ry="4.1"/><ellipse cx="517.8" cy="1418.5" rx="4.5" ry="4.1"/><ellipse cx="468.3" cy="1422.8" rx="4.5" ry="4.1"/><ellipse cx="481.2" cy="1422.8" rx="4.5" ry="4.1"/><ellipse cx="502.8" cy="1427.1" rx="4.5" ry="4.1"/><ellipse cx="551.8" cy="1427.1" rx="4.5" ry="4.1"/><ellipse cx="440.9" cy="1431.5" rx="4.5" ry="4.1"/><ellipse cx="471.1" cy="1431.5" rx="4.5" ry="4.1"/><ellipse cx="489.9" cy="1431.5" rx="4.5" ry="4.1"/><ellipse cx="528.8" cy="1435.8" rx="4.5" ry="4.1"/><ellipse cx="585" cy="1422.8" rx="4.5" ry="4.1"/><ellipse cx="589.3" cy="1431.5" rx="4.5" ry="4.1"/><ellipse cx="593.6" cy="1435.8" rx="4.5" ry="4.1"/><ellipse cx="625.3" cy="1435.8" rx="4.5" ry="4.1"/><ellipse cx="547.5" cy="1435.8" rx="4.5" ry="4.1"/><ellipse cx="554.7" cy="1435.8" rx="4.5" ry="4.1"/><ellipse cx="560.5" cy="1440.1" rx="4.5" ry="4.1"/><ellipse cx="570.6" cy="1440.1" rx="4.5" ry="4.1"/><ellipse cx="538.9" cy="1440.1" rx="4.5" ry="4.1"/><ellipse cx="445.2" cy="1440.1" rx="4.5" ry="4.1"/><ellipse cx="459.6" cy="1440.1" rx="4.5" ry="4.1"/><ellipse cx="472.6" cy="1444.4" rx="4.5" ry="4.1"/><ellipse cx="481.2" cy="1444.4" rx="4.5" ry="4.1"/><ellipse cx="497.1" cy="1440.1" rx="4.5" ry="4.1"/><ellipse cx="507.2" cy="1440.1" rx="4.5" ry="4.1"/><ellipse cx="512.9" cy="1444.4" rx="4.5" ry="4.1"/><ellipse cx="523" cy="1444.4" rx="4.5" ry="4.1"/><ellipse cx="466.8" cy="1448.7" rx="4.5" ry="4.1"/><ellipse cx="459.6" cy="1448.7" rx="4.5" ry="4.1"/><ellipse cx="452.4" cy="1453.1" rx="4.5" ry="4.1"/><ellipse cx="482.7" cy="1453.1" rx="4.5" ry="4.1"/><ellipse cx="497.1" cy="1448.7" rx="4.5" ry="4.1"/><ellipse cx="530.2" cy="1448.7" rx="4.5" ry="4.1"/><ellipse cx="540.3" cy="1448.7" rx="4.5" ry="4.1"/><ellipse cx="560.5" cy="1453.1" rx="4.5" ry="4.1"/><ellipse cx="569.1" cy="1453.1" rx="4.5" ry="4.1"/><ellipse cx="427.9" cy="1457.4" rx="4.5" ry="4.1"/><ellipse cx="440.9" cy="1457.4" rx="4.5" ry="4.1"/><ellipse cx="449.5" cy="1461.7" rx="4.5" ry="4.1"/><ellipse cx="481.2" cy="1461.7" rx="4.5" ry="4.1"/><ellipse cx="488.4" cy="1457.4" rx="4.5" ry="4.1"/><ellipse cx="510.1" cy="1461.7" rx="4.5" ry="4.1"/><ellipse cx="518.7" cy="1457.4" rx="4.5" ry="4.1"/><ellipse cx="525.9" cy="1461.7" rx="4.5" ry="4.1"/><ellipse cx="540.3" cy="1461.7" rx="4.5" ry="4.1"/><ellipse cx="471.1" cy="1466" rx="4.5" ry="4.1"/><ellipse cx="512.9" cy="1470.4" rx="4.5" ry="4.1"/><ellipse cx="504.3" cy="1479" rx="4.5" ry="4.1"/><ellipse cx="469.1" cy="1479" rx="4.5" ry="4.1"/><ellipse cx="474" cy="1487.7" rx="4.5" ry="4.1"/><ellipse cx="491.9" cy="1487.7" rx="4.5" ry="4.1"/><ellipse cx="422.1" cy="1487.7" rx="4.5" ry="4.1"/><ellipse cx="427.9" cy="1488.5" rx="4.5" ry="4.1"/><ellipse cx="446.6" cy="1492" rx="4.5" ry="4.1"/><ellipse cx="460.2" cy="1500.6" rx="4.5" ry="4.1"/><ellipse cx="464.5" cy="1496.3" rx="4.5" ry="4.1"/><ellipse cx="473.2" cy="1500.6" rx="4.5" ry="4.1"/><ellipse cx="467.4" cy="1504.9" rx="4.5" ry="4.1"/><ellipse cx="491.3" cy="1509.3" rx="4.5" ry="4.1"/><ellipse cx="413.5" cy="1548.2" rx="4.5" ry="4.1"/><ellipse cx="444.3" cy="1548.2" rx="4.5" ry="4.1"/><ellipse cx="475.5" cy="1435.8" rx="4.5" ry="4.1"/><ellipse cx="485.6" cy="1440.1" rx="4.5" ry="4.1"/><ellipse cx="492.8" cy="1445.9" rx="4.5" ry="4.1"/><ellipse cx="501.4" cy="1444.4" rx="4.5" ry="4.1"/><ellipse cx="515.8" cy="1440.1" rx="4.5" ry="4.1"/><ellipse cx="520.1" cy="1448.7" rx="4.5" ry="4.1"/><ellipse cx="478.3" cy="1448.7" rx="4.5" ry="4.1"/><ellipse cx="491.3" cy="1453.1" rx="4.5" ry="4.1"/><ellipse cx="501.4" cy="1457.4" rx="4.5" ry="4.1"/><ellipse cx="547.5" cy="1444.4" rx="4.5" ry="4.1"/><ellipse cx="553.3" cy="1431.5" rx="4.5" ry="4.1"/></g>
<path d="M376.6,1470.2 L389.9,1463.1 L403.2,1456 L416.5,1448.9 L429.8,1441.8 L443.1,1434.6 L456.4,1427.4 L469.7,1420.1 L483,1412.8 L496.3,1405.4 L509.6,1398 L522.9,1390.4 L536.2,1382.7 L549.5,1374.8 L562.8,1366.7 L576.2,1358.4 L589.5,1349.9 L602.8,1341.3 L616.1,1332.5 L629.4,1323.6 L642.7,1314.6 L656,1305.6 L669.3,1296.5 L682.6,1287.4 L695.9,1278.2 L709.2,1269.1 L722.5,1259.9 L735.8,1250.7 L749.1,1241.5 L762.4,1232.3 L775.7,1223.1 L775.7,1265.1 L762.4,1272 L749.1,1279 L735.8,1285.9 L722.5,1292.8 L709.2,1299.8 L695.9,1306.8 L682.6,1313.8 L669.3,1320.8 L656,1327.9 L642.7,1335 L629.4,1342.2 L616.1,1349.4 L602.8,1356.8 L589.5,1364.2 L576.2,1371.9 L562.8,1379.7 L549.5,1387.8 L536.2,1396.1 L522.9,1404.5 L509.6,1413 L496.3,1421.7 L483,1430.5 L469.7,1439.3 L456.4,1448.2 L443.1,1457.1 L429.8,1466.1 L416.5,1475.1 L403.2,1484.1 L389.9,1493.1 L376.6,1502.2Z" fill="#8c8c8c" fill-opacity="0.36"/>
<path d="M413.5,1477.5 L424,1472.2 L434.6,1466.9 L445.1,1461.6 L455.6,1456.3 L466.2,1450.9 L476.7,1445.5 L487.3,1440.1 L497.8,1434.6 L508.3,1429.1 L518.9,1423.5 L529.4,1417.8 L539.9,1412.1 L550.5,1406.4 L561,1400.5 L571.5,1394.5 L582.1,1388.3 L592.6,1381.9 L603.2,1375.5 L613.7,1369 L624.2,1362.4 L634.8,1355.7 L645.3,1349 L655.8,1342.3 L666.4,1335.5 L676.9,1328.7 L687.5,1321.9 L698,1315.1 L708.5,1308.3 L719.1,1301.4 L729.6,1294.6 L729.6,1332 L719.1,1336.9 L708.5,1341.7 L698,1346.6 L687.5,1351.5 L676.9,1356.4 L666.4,1361.4 L655.8,1366.3 L645.3,1371.3 L634.8,1376.3 L624.2,1381.4 L613.7,1386.5 L603.2,1391.6 L592.6,1396.9 L582.1,1402.3 L571.5,1407.8 L561,1413.5 L550.5,1419.4 L539.9,1425.3 L529.4,1431.3 L518.9,1437.4 L508.3,1443.5 L497.8,1449.7 L487.3,1455.9 L476.7,1462.2 L466.2,1468.5 L455.6,1474.9 L445.1,1481.3 L434.6,1487.7 L424,1494.1 L413.5,1500.5Z" fill="#8c8c8c" fill-opacity="0.36"/>
<line x1="376.6" y1="1486.2" x2="775.7" y2="1244.1" stroke="#066406" stroke-width="3.9" />
<line x1="413.5" y1="1489" x2="729.6" y2="1313.3" stroke="#8b008b" stroke-width="3.9" />
<line x1="349.2" y1="1118.8" x2="349.2" y2="1569.5" stroke="#000" stroke-width="2.3" />
<line x1="348.1" y1="1568.5" x2="794.9" y2="1568.5" stroke="#000" stroke-width="2.3" />
<line x1="343.2" y1="1120.9" x2="349.2" y2="1120.9" stroke="#000" stroke-width="2" />
<text x="339.2" y="1132.9" font-family="'Liberation Sans',sans-serif" font-size="34" text-anchor="end" >100</text>
<line x1="343.2" y1="1229.2" x2="349.2" y2="1229.2" stroke="#000" stroke-width="2" />
<text x="339.2" y="1241.2" font-family="'Liberation Sans',sans-serif" font-size="34" text-anchor="end" >75</text>
<line x1="343.2" y1="1337" x2="349.2" y2="1337" stroke="#000" stroke-width="2" />
<text x="339.2" y="1349" font-family="'Liberation Sans',sans-serif" font-size="34" text-anchor="end" >50</text>
<line x1="343.2" y1="1444.3" x2="349.2" y2="1444.3" stroke="#000" stroke-width="2" />
<text x="339.2" y="1456.3" font-family="'Liberation Sans',sans-serif" font-size="34" text-anchor="end" >25</text>
<line x1="343.2" y1="1552.1" x2="349.2" y2="1552.1" stroke="#000" stroke-width="2" />
<text x="339.2" y="1564.1" font-family="'Liberation Sans',sans-serif" font-size="34" text-anchor="end" >0</text>
<line x1="431.9" y1="1568.5" x2="431.9" y2="1574.5" stroke="#000" stroke-width="2" />
<text x="424.2" y="1609.5" font-family="'Liberation Sans',sans-serif" font-size="34" text-anchor="middle" >5000</text>
<line x1="573.7" y1="1568.5" x2="573.7" y2="1574.5" stroke="#000" stroke-width="2" />
<text x="564.7" y="1609.5" font-family="'Liberation Sans',sans-serif" font-size="34" text-anchor="middle" >10000</text>
<line x1="716" y1="1568.5" x2="716" y2="1574.5" stroke="#000" stroke-width="2" />
<text x="712.6" y="1609.5" font-family="'Liberation Sans',sans-serif" font-size="34" text-anchor="middle" >15000</text>
<text x="578.8" y="1654.4" font-family="'Liberation Sans',sans-serif" font-size="34" text-anchor="middle" >Endosperm size (µm²)</text>
<text x="261" y="1333.5" font-family="'Liberation Sans',sans-serif" font-size="34" text-anchor="middle" transform="rotate(-90 261 1333.5)" >Number of endosperm nuclei</text>
<rect x="365.4" y="1117.9" width="32.2" height="32" fill="#d9d9d9" />
<line x1="368.7" y1="1133.9" x2="394.3" y2="1133.9" stroke="#066406" stroke-width="3.5" />
<ellipse cx="381.5" cy="1133.9" rx="4.5" ry="4.1" fill="#066406" fill-opacity="0.85"/>
<rect x="365.4" y="1157.6" width="32.2" height="31.7" fill="#d9d9d9" />
<line x1="368.7" y1="1173.4" x2="394.3" y2="1173.4" stroke="#8b008b" stroke-width="3.5" />
<ellipse cx="381.5" cy="1173.4" rx="4.5" ry="4.1" fill="#8b008b" fill-opacity="0.85"/>
<text x="406.9" y="1147.6" font-family="'Liberation Sans',sans-serif" font-size="33.7" text-anchor="start" >Control</text>
<text x="406.9" y="1183.6" font-family="'Liberation Sans',sans-serif" font-size="33.7" text-anchor="start" >Compressed</text>
<text x="146" y="1102.6" font-family="'Liberation Sans',sans-serif" font-size="35" text-anchor="start" font-weight="bold" >(e)</text>
<g fill="#066406"><ellipse cx="1400.4" cy="1141.2" rx="4.5" ry="4.1"/><ellipse cx="1314.5" cy="1211" rx="4.5" ry="4.1"/><ellipse cx="1355.4" cy="1289.4" rx="4.5" ry="4.1"/><ellipse cx="1277" cy="1311" rx="4.5" ry="4.1"/><ellipse cx="1284.8" cy="1314.7" rx="4.5" ry="4.1"/><ellipse cx="1292.3" cy="1323.4" rx="4.5" ry="4.1"/><ellipse cx="1313.1" cy="1319.6" rx="4.5" ry="4.1"/><ellipse cx="1336.1" cy="1341.2" rx="4.5" ry="4.1"/><ellipse cx="1310.2" cy="1380.2" rx="4.5" ry="4.1"/><ellipse cx="1261.2" cy="1388.8" rx="4.5" ry="4.1"/><ellipse cx="1239" cy="1432.3" rx="4.5" ry="4.1"/><ellipse cx="1180.5" cy="1480.5" rx="4.5" ry="4.1"/><ellipse cx="1058" cy="1489.1" rx="4.5" ry="4.1"/><ellipse cx="1046.5" cy="1497.7" rx="4.5" ry="4.1"/><ellipse cx="1052.2" cy="1506.4" rx="4.5" ry="4.1"/><ellipse cx="996.6" cy="1519.4" rx="4.5" ry="4.1"/><ellipse cx="1011.9" cy="1528" rx="4.5" ry="4.1"/><ellipse cx="991.7" cy="1532.3" rx="4.5" ry="4.1"/><ellipse cx="1156.9" cy="1315.3" rx="4.5" ry="4.1"/><ellipse cx="1213.6" cy="1315.3" rx="4.5" ry="4.1"/><ellipse cx="1209.3" cy="1319.6" rx="4.5" ry="4.1"/><ellipse cx="1207.9" cy="1328.3" rx="4.5" ry="4.1"/><ellipse cx="1205.9" cy="1332.6" rx="4.5" ry="4.1"/><ellipse cx="1197.8" cy="1332.6" rx="4.5" ry="4.1"/><ellipse cx="1192" cy="1336.9" rx="4.5" ry="4.1"/><ellipse cx="1171.3" cy="1332.6" rx="4.5" ry="4.1"/><ellipse cx="1164.6" cy="1336.9" rx="4.5" ry="4.1"/><ellipse cx="1156.9" cy="1332.6" rx="4.5" ry="4.1"/><ellipse cx="1144.5" cy="1341.2" rx="4.5" ry="4.1"/><ellipse cx="1150.8" cy="1345.6" rx="4.5" ry="4.1"/><ellipse cx="1158.9" cy="1349.9" rx="4.5" ry="4.1"/><ellipse cx="1171.8" cy="1349.9" rx="4.5" ry="4.1"/><ellipse cx="1180.5" cy="1341.2" rx="4.5" ry="4.1"/><ellipse cx="1109.3" cy="1336.9" rx="4.5" ry="4.1"/><ellipse cx="1104.1" cy="1349.9" rx="4.5" ry="4.1"/><ellipse cx="1102.7" cy="1354.2" rx="4.5" ry="4.1"/><ellipse cx="1127.7" cy="1358.5" rx="4.5" ry="4.1"/><ellipse cx="1103.2" cy="1367.5" rx="4.5" ry="4.1"/><ellipse cx="1142.2" cy="1380.2" rx="4.5" ry="4.1"/><ellipse cx="1114.2" cy="1406.1" rx="4.5" ry="4.1"/><ellipse cx="1153.1" cy="1358.5" rx="4.5" ry="4.1"/><ellipse cx="1158.9" cy="1362.9" rx="4.5" ry="4.1"/><ellipse cx="1176.2" cy="1358.5" rx="4.5" ry="4.1"/><ellipse cx="1178.2" cy="1362.9" rx="4.5" ry="4.1"/><ellipse cx="1187.7" cy="1362.9" rx="4.5" ry="4.1"/><ellipse cx="1196.3" cy="1345.6" rx="4.5" ry="4.1"/><ellipse cx="1192.9" cy="1354.2" rx="4.5" ry="4.1"/><ellipse cx="1201.5" cy="1362.9" rx="4.5" ry="4.1"/><ellipse cx="1201.5" cy="1367.5" rx="4.5" ry="4.1"/><ellipse cx="1210.2" cy="1362.9" rx="4.5" ry="4.1"/><ellipse cx="1217.4" cy="1354.2" rx="4.5" ry="4.1"/><ellipse cx="1225.2" cy="1354.2" rx="4.5" ry="4.1"/><ellipse cx="1233.8" cy="1349.9" rx="4.5" ry="4.1"/><ellipse cx="1242.5" cy="1345.6" rx="4.5" ry="4.1"/><ellipse cx="1251.1" cy="1323.9" rx="4.5" ry="4.1"/><ellipse cx="1252" cy="1345.6" rx="4.5" ry="4.1"/><ellipse cx="1259.7" cy="1345.6" rx="4.5" ry="4.1"/><ellipse cx="1269.8" cy="1349.9" rx="4.5" ry="4.1"/><ellipse cx="1278.5" cy="1336.9" rx="4.5" ry="4.1"/><ellipse cx="1279.3" cy="1349.9" rx="4.5" ry="4.1"/><ellipse cx="1278.5" cy="1362.9" rx="4.5" ry="4.1"/><ellipse cx="1270.7" cy="1358.5" rx="4.5" ry="4.1"/><ellipse cx="1262.1" cy="1362.9" rx="4.5" ry="4.1"/><ellipse cx="1252.5" cy="1358.5" rx="4.5" ry="4.1"/><ellipse cx="1236.7" cy="1367.5" rx="4.5" ry="4.1"/><ellipse cx="1223.1" cy="1371.5" rx="4.5" ry="4.1"/><ellipse cx="1231.8" cy="1380.2" rx="4.5" ry="4.1"/><ellipse cx="1244.5" cy="1380.2" rx="4.5" ry="4.1"/><ellipse cx="1247.6" cy="1371.5" rx="4.5" ry="4.1"/><ellipse cx="1297.2" cy="1340.7" rx="4.5" ry="4.1"/><ellipse cx="1299.2" cy="1345.6" rx="4.5" ry="4.1"/><ellipse cx="1299.2" cy="1354.2" rx="4.5" ry="4.1"/><ellipse cx="1205" cy="1393.1" rx="4.5" ry="4.1"/><ellipse cx="1158.3" cy="1410.4" rx="4.5" ry="4.1"/><ellipse cx="1169" cy="1419.3" rx="4.5" ry="4.1"/><ellipse cx="1176.2" cy="1423.7" rx="4.5" ry="4.1"/><ellipse cx="1184.2" cy="1419.3" rx="4.5" ry="4.1"/><ellipse cx="1189.1" cy="1419.3" rx="4.5" ry="4.1"/><ellipse cx="1196.3" cy="1419.3" rx="4.5" ry="4.1"/><ellipse cx="1105.6" cy="1423.7" rx="4.5" ry="4.1"/><ellipse cx="1065.2" cy="1432.3" rx="4.5" ry="4.1"/><ellipse cx="1072.4" cy="1432.3" rx="4.5" ry="4.1"/><ellipse cx="1079.6" cy="1428" rx="4.5" ry="4.1"/><ellipse cx="1086.2" cy="1432.3" rx="4.5" ry="4.1"/><ellipse cx="1086.8" cy="1436.6" rx="4.5" ry="4.1"/><ellipse cx="1068.9" cy="1445.3" rx="4.5" ry="4.1"/><ellipse cx="1092.6" cy="1441" rx="4.5" ry="4.1"/><ellipse cx="1135.8" cy="1428" rx="4.5" ry="4.1"/><ellipse cx="1144.5" cy="1428" rx="4.5" ry="4.1"/><ellipse cx="1158.9" cy="1435.8" rx="4.5" ry="4.1"/><ellipse cx="1166.9" cy="1445.3" rx="4.5" ry="4.1"/><ellipse cx="1181.9" cy="1432.3" rx="4.5" ry="4.1"/><ellipse cx="1175.6" cy="1432.3" rx="4.5" ry="4.1"/><ellipse cx="1133.8" cy="1449.6" rx="4.5" ry="4.1"/><ellipse cx="1123.4" cy="1453.9" rx="4.5" ry="4.1"/><ellipse cx="1132.4" cy="1458.3" rx="4.5" ry="4.1"/><ellipse cx="1140.1" cy="1462.6" rx="4.5" ry="4.1"/><ellipse cx="1094.9" cy="1458.3" rx="4.5" ry="4.1"/><ellipse cx="1076.7" cy="1462.6" rx="4.5" ry="4.1"/><ellipse cx="1160.3" cy="1453.9" rx="4.5" ry="4.1"/><ellipse cx="1166.1" cy="1458.3" rx="4.5" ry="4.1"/><ellipse cx="1176.2" cy="1453.9" rx="4.5" ry="4.1"/><ellipse cx="1183.4" cy="1449.6" rx="4.5" ry="4.1"/><ellipse cx="1187.7" cy="1453.9" rx="4.5" ry="4.1"/><ellipse cx="1121.4" cy="1436.6" rx="4.5" ry="4.1"/></g>
<g fill="#8b008b"><ellipse cx="990.3" cy="1493.4" rx="4.5" ry="4.1"/><ellipse cx="1015.3" cy="1554.5" rx="4.5" ry="4.1"/><ellipse cx="1071" cy="1554.5" rx="4.5" ry="4.1"/><ellipse cx="1033.5" cy="1497.7" rx="4.5" ry="4.1"/><ellipse cx="1043.6" cy="1493.4" rx="4.5" ry="4.1"/><ellipse cx="1050.2" cy="1484.8" rx="4.5" ry="4.1"/><ellipse cx="1062.3" cy="1510.7" rx="4.5" ry="4.1"/><ellipse cx="1070.4" cy="1502.1" rx="4.5" ry="4.1"/><ellipse cx="1083.4" cy="1493.4" rx="4.5" ry="4.1"/><ellipse cx="1096" cy="1493.4" rx="4.5" ry="4.1"/><ellipse cx="1092.6" cy="1506.4" rx="4.5" ry="4.1"/><ellipse cx="1103.2" cy="1506.4" rx="4.5" ry="4.1"/><ellipse cx="1114.2" cy="1515" rx="4.5" ry="4.1"/><ellipse cx="1124.3" cy="1484.8" rx="4.5" ry="4.1"/><ellipse cx="1133.8" cy="1484.8" rx="4.5" ry="4.1"/><ellipse cx="1118.5" cy="1476.1" rx="4.5" ry="4.1"/><ellipse cx="1089.7" cy="1471.8" rx="4.5" ry="4.1"/><ellipse cx="1050.2" cy="1384.5" rx="4.5" ry="4.1"/><ellipse cx="1054.2" cy="1402.1" rx="4.5" ry="4.1"/><ellipse cx="1081.1" cy="1406.1" rx="4.5" ry="4.1"/><ellipse cx="1086.8" cy="1367.5" rx="4.5" ry="4.1"/><ellipse cx="1094.6" cy="1358.5" rx="4.5" ry="4.1"/><ellipse cx="1117.1" cy="1367.5" rx="4.5" ry="4.1"/><ellipse cx="1105" cy="1380.2" rx="4.5" ry="4.1"/><ellipse cx="1122.8" cy="1380.2" rx="4.5" ry="4.1"/><ellipse cx="1134.9" cy="1375.8" rx="4.5" ry="4.1"/><ellipse cx="1145.9" cy="1375.8" rx="4.5" ry="4.1"/><ellipse cx="1131.5" cy="1349.9" rx="4.5" ry="4.1"/><ellipse cx="1137.8" cy="1336.9" rx="4.5" ry="4.1"/><ellipse cx="1156" cy="1336.9" rx="4.5" ry="4.1"/><ellipse cx="1164.1" cy="1354.2" rx="4.5" ry="4.1"/><ellipse cx="1170.4" cy="1371.5" rx="4.5" ry="4.1"/><ellipse cx="1183.4" cy="1371.5" rx="4.5" ry="4.1"/><ellipse cx="1180.5" cy="1380.2" rx="4.5" ry="4.1"/><ellipse cx="1160.9" cy="1388.8" rx="4.5" ry="4.1"/><ellipse cx="1173.3" cy="1388.8" rx="4.5" ry="4.1"/><ellipse cx="1166.1" cy="1393.1" rx="4.5" ry="4.1"/><ellipse cx="1181.4" cy="1393.1" rx="4.5" ry="4.1"/><ellipse cx="1192" cy="1388.8" rx="4.5" ry="4.1"/><ellipse cx="1192" cy="1341.2" rx="4.5" ry="4.1"/><ellipse cx="1205.9" cy="1349.9" rx="4.5" ry="4.1"/><ellipse cx="1196.3" cy="1354.2" rx="4.5" ry="4.1"/><ellipse cx="1205.9" cy="1358.5" rx="4.5" ry="4.1"/><ellipse cx="1239.6" cy="1336.9" rx="4.5" ry="4.1"/><ellipse cx="1238.1" cy="1341.2" rx="4.5" ry="4.1"/><ellipse cx="1256.9" cy="1332.6" rx="4.5" ry="4.1"/><ellipse cx="1254.6" cy="1336.9" rx="4.5" ry="4.1"/><ellipse cx="1262.1" cy="1349.9" rx="4.5" ry="4.1"/><ellipse cx="1252.5" cy="1354.2" rx="4.5" ry="4.1"/><ellipse cx="1229.5" cy="1362.9" rx="4.5" ry="4.1"/><ellipse cx="1273.3" cy="1371.5" rx="4.5" ry="4.1"/><ellipse cx="1264.6" cy="1375.8" rx="4.5" ry="4.1"/><ellipse cx="1236.7" cy="1388.8" rx="4.5" ry="4.1"/><ellipse cx="1225.2" cy="1393.1" rx="4.5" ry="4.1"/><ellipse cx="1246.8" cy="1393.1" rx="4.5" ry="4.1"/><ellipse cx="1023.4" cy="1436.6" rx="4.5" ry="4.1"/><ellipse cx="1035.5" cy="1428" rx="4.5" ry="4.1"/><ellipse cx="1037.8" cy="1445.3" rx="4.5" ry="4.1"/><ellipse cx="1043.6" cy="1441" rx="4.5" ry="4.1"/><ellipse cx="1047.9" cy="1441" rx="4.5" ry="4.1"/><ellipse cx="1058" cy="1445.3" rx="4.5" ry="4.1"/><ellipse cx="1041.6" cy="1453.9" rx="4.5" ry="4.1"/><ellipse cx="1051.7" cy="1453.9" rx="4.5" ry="4.1"/><ellipse cx="1030" cy="1462.6" rx="4.5" ry="4.1"/><ellipse cx="1035.5" cy="1466.9" rx="4.5" ry="4.1"/><ellipse cx="1069.5" cy="1428" rx="4.5" ry="4.1"/><ellipse cx="1076.7" cy="1423.7" rx="4.5" ry="4.1"/><ellipse cx="1095.5" cy="1423.7" rx="4.5" ry="4.1"/><ellipse cx="1100.4" cy="1423.7" rx="4.5" ry="4.1"/><ellipse cx="1101.2" cy="1428" rx="4.5" ry="4.1"/><ellipse cx="1072.4" cy="1441" rx="4.5" ry="4.1"/><ellipse cx="1075.3" cy="1445.3" rx="4.5" ry="4.1"/><ellipse cx="1086.8" cy="1449.6" rx="4.5" ry="4.1"/><ellipse cx="1076.7" cy="1458.3" rx="4.5" ry="4.1"/><ellipse cx="1083.9" cy="1462.6" rx="4.5" ry="4.1"/><ellipse cx="1101.2" cy="1458.3" rx="4.5" ry="4.1"/><ellipse cx="1101.2" cy="1445.3" rx="4.5" ry="4.1"/><ellipse cx="1109.9" cy="1441" rx="4.5" ry="4.1"/><ellipse cx="1108.4" cy="1449.6" rx="4.5" ry="4.1"/><ellipse cx="1114.2" cy="1453.9" rx="4.5" ry="4.1"/><ellipse cx="1115.1" cy="1458.3" rx="4.5" ry="4.1"/><ellipse cx="1118.5" cy="1445.3" rx="4.5" ry="4.1"/><ellipse cx="1124.3" cy="1432.3" rx="4.5" ry="4.1"/><ellipse cx="1127.2" cy="1441" rx="4.5" ry="4.1"/><ellipse cx="1128.6" cy="1445.3" rx="4.5" ry="4.1"/><ellipse cx="1137.8" cy="1436.6" rx="4.5" ry="4.1"/><ellipse cx="1141" cy="1432.3" rx="4.5" ry="4.1"/><ellipse cx="1138.7" cy="1445.3" rx="4.5" ry="4.1"/><ellipse cx="1144.5" cy="1441" rx="4.5" ry="4.1"/><ellipse cx="1156" cy="1441" rx="4.5" ry="4.1"/><ellipse cx="1156.9" cy="1445.3" rx="4.5" ry="4.1"/><ellipse cx="1160.9" cy="1428" rx="4.5" ry="4.1"/><ellipse cx="1169" cy="1445.3" rx="4.5" ry="4.1"/><ellipse cx="1173.3" cy="1445.3" rx="4.5" ry="4.1"/><ellipse cx="1176.2" cy="1428" rx="4.5" ry="4.1"/><ellipse cx="1183.4" cy="1441" rx="4.5" ry="4.1"/><ellipse cx="1193.5" cy="1436.6" rx="4.5" ry="4.1"/><ellipse cx="1205" cy="1453.9" rx="4.5" ry="4.1"/><ellipse cx="1173.3" cy="1458.3" rx="4.5" ry="4.1"/><ellipse cx="1158.9" cy="1466.9" rx="4.5" ry="4.1"/><ellipse cx="1152.5" cy="1466.9" rx="4.5" ry="4.1"/><ellipse cx="1138.7" cy="1466.9" rx="4.5" ry="4.1"/><ellipse cx="1128.6" cy="1462.6" rx="4.5" ry="4.1"/><ellipse cx="1122.8" cy="1466.9" rx="4.5" ry="4.1"/></g>
<path d="M991.7,1486.1 L1005.3,1478.9 L1018.9,1471.6 L1032.6,1464.3 L1046.2,1457 L1059.8,1449.7 L1073.4,1442.3 L1087,1434.9 L1100.7,1427.5 L1114.3,1420 L1127.9,1412.4 L1141.5,1404.8 L1155.1,1397 L1168.8,1389.1 L1182.4,1381.2 L1196,1373 L1209.6,1364.7 L1223.2,1356.2 L1236.9,1347.7 L1250.5,1339 L1264.1,1330.3 L1277.7,1321.5 L1291.3,1312.6 L1305,1303.8 L1318.6,1294.9 L1332.2,1286 L1345.8,1277 L1359.4,1268.1 L1373.1,1259.1 L1386.7,1250.2 L1400.3,1241.2 L1400.3,1278.6 L1386.7,1285.6 L1373.1,1292.6 L1359.4,1299.5 L1345.8,1306.5 L1332.2,1313.6 L1318.6,1320.6 L1305,1327.6 L1291.3,1334.7 L1277.7,1341.8 L1264.1,1349 L1250.5,1356.2 L1236.9,1363.5 L1223.2,1370.9 L1209.6,1378.4 L1196,1386 L1182.4,1393.8 L1168.8,1401.8 L1155.1,1409.8 L1141.5,1418 L1127.9,1426.3 L1114.3,1434.7 L1100.7,1443.1 L1087,1451.6 L1073.4,1460.2 L1059.8,1468.8 L1046.2,1477.4 L1032.6,1486 L1018.9,1494.7 L1005.3,1503.4 L991.7,1512.1Z" fill="#8c8c8c" fill-opacity="0.36"/>
<path d="M990.3,1478.9 L999.7,1475.1 L1009.2,1471.3 L1018.6,1467.5 L1028,1463.6 L1037.5,1459.8 L1046.9,1455.9 L1056.3,1452 L1065.8,1448 L1075.2,1444 L1084.6,1440 L1094.1,1435.9 L1103.5,1431.6 L1112.9,1427.3 L1122.4,1422.8 L1131.8,1418.2 L1141.2,1413.5 L1150.7,1408.7 L1160.1,1403.9 L1169.5,1399 L1179,1394.1 L1188.4,1389.2 L1197.8,1384.2 L1207.3,1379.2 L1216.7,1374.2 L1226.1,1369.1 L1235.6,1364 L1245,1358.9 L1254.4,1353.8 L1263.9,1348.7 L1273.3,1343.6 L1273.3,1363.6 L1263.9,1367.9 L1254.4,1372.2 L1245,1376.5 L1235.6,1380.8 L1226.1,1385.2 L1216.7,1389.5 L1207.3,1393.9 L1197.8,1398.3 L1188.4,1402.8 L1179,1407.2 L1169.5,1411.7 L1160.1,1416.3 L1150.7,1420.9 L1141.2,1425.5 L1131.8,1430.2 L1122.4,1435 L1112.9,1439.9 L1103.5,1445 L1094.1,1450.2 L1084.6,1455.5 L1075.2,1460.8 L1065.8,1466.3 L1056.3,1471.7 L1046.9,1477.2 L1037.5,1482.8 L1028,1488.3 L1018.6,1493.9 L1009.2,1499.5 L999.7,1505.1 L990.3,1510.7Z" fill="#8c8c8c" fill-opacity="0.36"/>
<line x1="991.7" y1="1499.1" x2="1400.3" y2="1259.9" stroke="#066406" stroke-width="3.9" />
<line x1="990.3" y1="1494.8" x2="1273.3" y2="1353.6" stroke="#8b008b" stroke-width="3.9" />
<line x1="970.4" y1="1121" x2="970.4" y2="1575.7" stroke="#000" stroke-width="2.3" />
<line x1="969.3" y1="1574.7" x2="1420.8" y2="1574.7" stroke="#000" stroke-width="2.3" />
<line x1="964.4" y1="1123" x2="970.4" y2="1123" stroke="#000" stroke-width="2" />
<text x="960.4" y="1135" font-family="'Liberation Sans',sans-serif" font-size="34" text-anchor="end" >100</text>
<line x1="964.4" y1="1232.1" x2="970.4" y2="1232.1" stroke="#000" stroke-width="2" />
<text x="960.4" y="1244.1" font-family="'Liberation Sans',sans-serif" font-size="34" text-anchor="end" >75</text>
<line x1="964.4" y1="1341.2" x2="970.4" y2="1341.2" stroke="#000" stroke-width="2" />
<text x="960.4" y="1353.2" font-family="'Liberation Sans',sans-serif" font-size="34" text-anchor="end" >50</text>
<line x1="964.4" y1="1449.9" x2="970.4" y2="1449.9" stroke="#000" stroke-width="2" />
<text x="960.4" y="1461.9" font-family="'Liberation Sans',sans-serif" font-size="34" text-anchor="end" >25</text>
<line x1="964.4" y1="1558.5" x2="970.4" y2="1558.5" stroke="#000" stroke-width="2" />
<text x="960.4" y="1570.5" font-family="'Liberation Sans',sans-serif" font-size="34" text-anchor="end" >0</text>
<line x1="1008.8" y1="1574.7" x2="1008.8" y2="1580.7" stroke="#000" stroke-width="2" />
<text x="1008.8" y="1615.7" font-family="'Liberation Sans',sans-serif" font-size="34" text-anchor="middle" >20000</text>
<line x1="1131" y1="1574.7" x2="1131" y2="1580.7" stroke="#000" stroke-width="2" />
<text x="1131" y="1615.7" font-family="'Liberation Sans',sans-serif" font-size="34" text-anchor="middle" >30000</text>
<line x1="1253.3" y1="1574.7" x2="1253.3" y2="1580.7" stroke="#000" stroke-width="2" />
<text x="1253.3" y="1615.7" font-family="'Liberation Sans',sans-serif" font-size="34" text-anchor="middle" >40000</text>
<line x1="1375.6" y1="1574.7" x2="1375.6" y2="1580.7" stroke="#000" stroke-width="2" />
<text x="1375.6" y="1615.7" font-family="'Liberation Sans',sans-serif" font-size="34" text-anchor="middle" >50000</text>
<text x="1190.7" y="1671.4" font-family="'Liberation Sans',sans-serif" font-size="34" text-anchor="middle" >Seed size (µm²)</text>
<text x="880" y="1338.5" font-family="'Liberation Sans',sans-serif" font-size="34" text-anchor="middle" transform="rotate(-90 880 1338.5)" >Number of endosperm nuclei</text>
<rect x="994.6" y="1120.2" width="32.5" height="32.2" fill="#d9d9d9" />
<line x1="997.9" y1="1136.3" x2="1023.8" y2="1136.3" stroke="#066406" stroke-width="3.5" />
<ellipse cx="1010.8" cy="1136.3" rx="4.5" ry="4.1" fill="#066406" fill-opacity="0.85"/>
<rect x="994.6" y="1159.7" width="32.5" height="32.5" fill="#d9d9d9" />
<line x1="997.9" y1="1176" x2="1023.8" y2="1176" stroke="#8b008b" stroke-width="3.5" />
<ellipse cx="1010.8" cy="1176" rx="4.5" ry="4.1" fill="#8b008b" fill-opacity="0.85"/>
<text x="1036.4" y="1150.4" font-family="'Liberation Sans',sans-serif" font-size="33.7" text-anchor="start" >Control</text>
<text x="1036.4" y="1186.5" font-family="'Liberation Sans',sans-serif" font-size="33.7" text-anchor="start" >Compressed</text>
<rect x="147.2" y="1794.2" width="693.2" height="258.8" fill="#e6e6e6" />
<rect x="147.2" y="2112.8" width="693.2" height="253.6" fill="#d3c9c8" />
<line x1="147.2" y1="2112.8" x2="840.4" y2="2112.8" stroke="#7a6a6b" stroke-width="3.4" />
<text x="516" y="1770" font-family="'DejaVu Sans','Liberation Sans',sans-serif" font-size="38" text-anchor="middle" >WT</text>
<text x="831.9" y="1835.5" font-family="'DejaVu Sans','Liberation Sans',sans-serif" font-size="38" text-anchor="end" >Seed coat</text>
<text x="831.9" y="2159" font-family="'DejaVu Sans','Liberation Sans',sans-serif" font-size="38" text-anchor="end" >Endosperm</text>
<text x="839.9" y="2088.4" font-family="'Liberation Sans',sans-serif" font-size="25.2" text-anchor="end" >Apoplast</text>
<path d="M250.9,1960 C232,2005 222,2055 226.5,2095 C229,2118 240,2138 252,2156.5" fill="none" stroke="#000" stroke-width="3.4" stroke-dasharray="6 4.3" stroke-linecap="butt"/>
<path d="M237.5,2154.5 L252.8,2158.6 L252.8,2143.5" fill="none" stroke="#000" stroke-width="3.4" stroke-linecap="round" stroke-linejoin="miter"/>
<text x="198.7" y="2090.2" font-family="'DejaVu Sans','Liberation Sans',sans-serif" font-size="38.5" text-anchor="start" >?</text>
<line x1="147.2" y1="1794.2" x2="840.4" y2="1794.2" stroke="#000" stroke-width="3.8" />
<line x1="147.2" y1="2053.2" x2="840.4" y2="2053.2" stroke="#000" stroke-width="3.8" />
<path d="M246.2,1821.6 L249.5,1834.6 L256.8,1826 L257.2,1840.3 L268.3,1837.9 L258.5,1851 L264.5,1860.3 L250.3,1851.8 L242.1,1860.3 L243.4,1849 L225,1853.5 L234.7,1844.4 L223.8,1835.1 L242.1,1837.1Z" fill="#d77bbc" stroke="#444" stroke-width="2.6" stroke-linejoin="miter"/>
<path d="M321,1852.1 L324.3,1865.1 L331.6,1856.5 L332,1870.8 L343.1,1868.4 L333.3,1881.5 L339.3,1890.8 L325.1,1882.3 L316.9,1890.8 L318.2,1879.5 L299.8,1884 L309.5,1874.9 L298.6,1865.6 L316.9,1867.6Z" fill="#d77bbc" stroke="#444" stroke-width="2.6" stroke-linejoin="miter"/>
<path d="M206.8,1878.6 L210.1,1891.6 L217.4,1883 L217.8,1897.3 L228.9,1894.9 L219.1,1908 L225.1,1917.3 L210.9,1908.8 L202.7,1917.3 L204,1906 L185.6,1910.5 L195.3,1901.4 L184.4,1892.1 L202.7,1894.1Z" fill="#d77bbc" stroke="#444" stroke-width="2.6" stroke-linejoin="miter"/>
<path d="M189.8,1943.6 L193.1,1956.6 L200.4,1948 L200.8,1962.3 L211.9,1959.9 L202.1,1973 L208.1,1982.3 L193.9,1973.8 L185.7,1982.3 L187,1971 L168.6,1975.5 L178.3,1966.4 L167.4,1957.1 L185.7,1959.1Z" fill="#d77bbc" stroke="#444" stroke-width="2.6" stroke-linejoin="miter"/>
<path d="M304.5,1957.1 L307.8,1970.1 L315.1,1961.5 L315.5,1975.8 L326.6,1973.4 L316.8,1986.5 L322.8,1995.8 L308.6,1987.3 L300.4,1995.8 L301.7,1984.5 L283.3,1989 L293,1979.9 L282.1,1970.6 L300.4,1972.6Z" fill="#d77bbc" stroke="#444" stroke-width="2.6" stroke-linejoin="miter"/>
<text x="251" y="1941.7" font-family="'DejaVu Sans','Liberation Sans',sans-serif" font-size="44" text-anchor="start" >BL</text>
<path d="M315.5,1925.6 L383.1,1925.6 M370.1,1914.3 L383.1,1925.6 L370.1,1936.9" fill="none" stroke="#000" stroke-width="4.5" stroke-linecap="round" stroke-linejoin="round"/>
<text x="398.6" y="1931.7" font-family="'Liberation Sans',sans-serif" font-size="25.2" text-anchor="start" >Softer cell wall</text>
<path d="M579.5,1924.6 L647.5,1924.6 M634.5,1913.3 L647.5,1924.6 L634.5,1935.9" fill="none" stroke="#000" stroke-width="4.5" stroke-linecap="round" stroke-linejoin="round"/>
<text x="662.5" y="1931.7" font-family="'Liberation Sans',sans-serif" font-size="25.2" text-anchor="start" >Expansion</text>
<path d="M440.5,1987.5 L440.5,2040.8 M425.1,2027.3 L440.5,2040.8 L455.9,2027.3" fill="none" stroke="#7f0000" stroke-width="8.5" stroke-linecap="round" stroke-linejoin="miter"/>
<path d="M484,1987.5 L484,2040.8 M468.6,2027.3 L484,2040.8 L499.4,2027.3" fill="none" stroke="#7f0000" stroke-width="8.5" stroke-linecap="round" stroke-linejoin="miter"/>
<path d="M526.2,1987.5 L526.2,2040.8 M510.8,2027.3 L526.2,2040.8 L541.6,2027.3" fill="none" stroke="#7f0000" stroke-width="8.5" stroke-linecap="round" stroke-linejoin="miter"/>
<path d="M266,2158.3 L269.2,2171.1 L276.4,2162.6 L276.7,2176.6 L287.7,2174.3 L278,2187.1 L283.9,2196.2 L270,2187.9 L262,2196.2 L263.3,2185.1 L245.2,2189.6 L254.7,2180.7 L244,2171.6 L262,2173.5Z" fill="#ffd92f" stroke="#444" stroke-width="2.6" stroke-linejoin="miter"/>
<path d="M347.7,2123.6 L350.9,2136.4 L358.1,2127.9 L358.4,2141.9 L369.4,2139.6 L359.7,2152.4 L365.6,2161.5 L351.7,2153.2 L343.7,2161.5 L345,2150.4 L326.9,2154.9 L336.4,2146 L325.7,2136.9 L343.7,2138.8Z" fill="#ffd92f" stroke="#444" stroke-width="2.6" stroke-linejoin="miter"/>
<path d="M614.8,2204.4 L618,2217.2 L625.2,2208.7 L625.5,2222.7 L636.5,2220.4 L626.8,2233.2 L632.7,2242.3 L618.8,2234 L610.8,2242.3 L612.1,2231.2 L594,2235.7 L603.5,2226.8 L592.8,2217.7 L610.8,2219.6Z" fill="#ffd92f" stroke="#444" stroke-width="2.6" stroke-linejoin="miter"/>
<path d="M189.8,2309.7 L193,2322.5 L200.2,2314 L200.5,2328 L211.5,2325.7 L201.8,2338.5 L207.7,2347.6 L193.8,2339.3 L185.8,2347.6 L187.1,2336.5 L169,2341 L178.5,2332.1 L167.8,2323 L185.8,2324.9Z" fill="#ffd92f" stroke="#444" stroke-width="2.6" stroke-linejoin="miter"/>
<path d="M307.3,2296.5 L310.5,2309.3 L317.7,2300.8 L318,2314.8 L329,2312.5 L319.3,2325.3 L325.2,2334.4 L311.3,2326.1 L303.3,2334.4 L304.6,2323.3 L286.5,2327.8 L296,2318.9 L285.3,2309.8 L303.3,2311.7Z" fill="#ffd92f" stroke="#444" stroke-width="2.6" stroke-linejoin="miter"/>
<path d="M487,2301.6 L490.2,2314.4 L497.4,2305.9 L497.7,2319.9 L508.7,2317.6 L499,2330.4 L504.9,2339.5 L491,2331.2 L483,2339.5 L484.3,2328.4 L466.2,2332.9 L475.7,2324 L465,2314.9 L483,2316.8Z" fill="#ffd92f" stroke="#444" stroke-width="2.6" stroke-linejoin="miter"/>
<path d="M801.8,2304.6 L805,2317.4 L812.2,2308.9 L812.5,2322.9 L823.5,2320.6 L813.8,2333.4 L819.7,2342.5 L805.8,2334.2 L797.8,2342.5 L799.1,2331.4 L781,2335.9 L790.5,2327 L779.8,2317.9 L797.8,2319.8Z" fill="#ffd92f" stroke="#444" stroke-width="2.6" stroke-linejoin="miter"/>
<ellipse cx="317.8" cy="2185.5" rx="10.1" ry="11.9" fill="#82b99b" stroke="#000" stroke-width="3.1"/>
<ellipse cx="216.7" cy="2230" rx="10.1" ry="11.9" fill="#82b99b" stroke="#000" stroke-width="3.1"/>
<ellipse cx="269.7" cy="2256" rx="10.1" ry="11.9" fill="#82b99b" stroke="#000" stroke-width="3.1"/>
<ellipse cx="225" cy="2283" rx="10.1" ry="11.9" fill="#82b99b" stroke="#000" stroke-width="3.1"/>
<ellipse cx="363.1" cy="2278.7" rx="10.1" ry="11.9" fill="#82b99b" stroke="#000" stroke-width="3.1"/>
<ellipse cx="419.9" cy="2239" rx="10.1" ry="11.9" fill="#82b99b" stroke="#000" stroke-width="3.1"/>
<ellipse cx="483.5" cy="2218.8" rx="10.1" ry="11.9" fill="#82b99b" stroke="#000" stroke-width="3.1"/>
<ellipse cx="449" cy="2293" rx="10.1" ry="11.9" fill="#82b99b" stroke="#000" stroke-width="3.1"/>
<ellipse cx="401.3" cy="2328.7" rx="10.1" ry="11.9" fill="#82b99b" stroke="#000" stroke-width="3.1"/>
<ellipse cx="546.7" cy="2267" rx="10.1" ry="11.9" fill="#82b99b" stroke="#000" stroke-width="3.1"/>
<ellipse cx="678.5" cy="2243" rx="10.1" ry="11.9" fill="#82b99b" stroke="#000" stroke-width="3.1"/>
<ellipse cx="639.4" cy="2299.5" rx="10.1" ry="11.9" fill="#82b99b" stroke="#000" stroke-width="3.1"/>
<ellipse cx="706.6" cy="2322.6" rx="10.1" ry="11.9" fill="#82b99b" stroke="#000" stroke-width="3.1"/>
<ellipse cx="757.2" cy="2281.5" rx="10.1" ry="11.9" fill="#82b99b" stroke="#000" stroke-width="3.1"/>
<ellipse cx="785.8" cy="2239.4" rx="10.1" ry="11.9" fill="#82b99b" stroke="#000" stroke-width="3.1"/>
<path d="M334.8,2201.2 C341,2210 347,2216 352,2221 C366,2227.5 382,2227 397.5,2221.5 M383.2,2213.3 L397.5,2221.5 L383,2237.5 M334.8,2201.2 C346,2216 357,2234 361.8,2255 M346,2241.5 L361.8,2255.5 L370,2241.5" fill="none" stroke="#000" stroke-width="5.6" stroke-linecap="round" stroke-linejoin="round"/>
<text x="98.5" y="1765" font-family="'Liberation Sans',sans-serif" font-size="35" text-anchor="start" font-weight="bold" >(f)</text>
<rect x="908.4" y="1794.2" width="692.8" height="258.8" fill="#e6e6e6" />
<rect x="908.4" y="2111.6" width="692.8" height="254.8" fill="#d3c9c8" />
<line x1="908.4" y1="2111.6" x2="1601.2" y2="2111.6" stroke="#7a6a6b" stroke-width="3.4" />
<text x="1257" y="1770" font-family="'DejaVu Sans','Liberation Sans',sans-serif" font-size="38" text-anchor="middle" >BR Mutants</text>
<text x="1592.7" y="1835.5" font-family="'DejaVu Sans','Liberation Sans',sans-serif" font-size="38" text-anchor="end" >Seed coat</text>
<text x="1592.7" y="2159" font-family="'DejaVu Sans','Liberation Sans',sans-serif" font-size="38" text-anchor="end" >Endosperm</text>
<text x="1597.7" y="2088.4" font-family="'Liberation Sans',sans-serif" font-size="25.2" text-anchor="end" >Apoplast</text>
<path d="M1005.5,1960 C986.6,2005 976.6,2055 981.1,2095 C983.6,2118 994.6,2138 1006.6,2156.5" fill="none" stroke="#000" stroke-width="3.4" stroke-dasharray="8 5" stroke-linecap="butt" opacity="0.13"/>
<path d="M992.1,2154.5 L1007.4,2158.6 L1007.4,2143.5" fill="none" stroke="#000" stroke-width="3.4" stroke-linecap="round" stroke-linejoin="miter" opacity="0.13"/>
<text x="955" y="2095.6" font-family="'DejaVu Sans','Liberation Sans',sans-serif" font-size="38.5" text-anchor="start"  opacity="0.13">?</text>
<line x1="908.4" y1="1794.2" x2="1601.2" y2="1794.2" stroke="#000" stroke-width="9" />
<line x1="908.4" y1="2053.2" x2="1601.2" y2="2053.2" stroke="#000" stroke-width="9" />
<text x="994.5" y="1941.7" font-family="'DejaVu Sans','Liberation Sans',sans-serif" font-size="44" text-anchor="start" opacity="0.125">BL</text>
<path d="M1063.3,1927.6 L1131.4,1927.6 M1118.4,1916.3 L1131.4,1927.6 L1118.4,1938.9" fill="none" stroke="#000" stroke-width="4.5" stroke-linecap="round" stroke-linejoin="round"/>
<text x="1148.3" y="1937" font-family="'Liberation Sans',sans-serif" font-size="25.2" text-anchor="start" >Stiffer cell wall</text>
<path d="M1324.6,1927.6 L1392.6,1927.6 M1379.6,1916.3 L1392.6,1927.6 L1379.6,1938.9" fill="none" stroke="#000" stroke-width="4.5" stroke-linecap="round" stroke-linejoin="round"/>
<text x="1449" y="1923.5" font-family="'Liberation Sans',sans-serif" font-size="25.2" text-anchor="middle" >Growth</text>
<text x="1452" y="1955.6" font-family="'Liberation Sans',sans-serif" font-size="25.2" text-anchor="middle" >constrain</text>
<path d="M1135.5,1985.2 L1135.5,2039.1 M1120.1,2025.6 L1135.5,2039.1 L1150.9,2025.6" fill="none" stroke="#7f0000" stroke-width="8.5" stroke-linecap="round" stroke-linejoin="miter"/>
<path d="M1178.8,1985.2 L1178.8,2039.1 M1163.4,2025.6 L1178.8,2039.1 L1194.2,2025.6" fill="none" stroke="#7f0000" stroke-width="8.5" stroke-linecap="round" stroke-linejoin="miter"/>
<path d="M1221.3,1985.2 L1221.3,2039.1 M1205.9,2025.6 L1221.3,2039.1 L1236.7,2025.6" fill="none" stroke="#7f0000" stroke-width="8.5" stroke-linecap="round" stroke-linejoin="miter"/>
<path d="M1263.8,1985.2 L1263.8,2039.1 M1248.4,2025.6 L1263.8,2039.1 L1279.2,2025.6" fill="none" stroke="#7f0000" stroke-width="8.5" stroke-linecap="round" stroke-linejoin="miter"/>
<path d="M1306.3,1985.2 L1306.3,2039.1 M1290.9,2025.6 L1306.3,2039.1 L1321.7,2025.6" fill="none" stroke="#7f0000" stroke-width="8.5" stroke-linecap="round" stroke-linejoin="miter"/>
<path d="M1348.8,1985.2 L1348.8,2039.1 M1333.4,2025.6 L1348.8,2039.1 L1364.2,2025.6" fill="none" stroke="#7f0000" stroke-width="8.5" stroke-linecap="round" stroke-linejoin="miter"/>
<path d="M1026.9,2162.8 L1030.1,2175.6 L1037.3,2167.1 L1037.6,2181.1 L1048.6,2178.8 L1038.9,2191.6 L1044.8,2200.7 L1030.9,2192.4 L1022.9,2200.7 L1024.2,2189.6 L1006.1,2194.1 L1015.6,2185.2 L1004.9,2176.1 L1022.9,2178Z" fill="#ffd92f" stroke="#444" stroke-width="2.6" stroke-linejoin="miter"/>
<path d="M1412.3,2191.3 L1415.5,2204.1 L1422.7,2195.6 L1423,2209.6 L1434,2207.3 L1424.3,2220.1 L1430.2,2229.2 L1416.3,2220.9 L1408.3,2229.2 L1409.6,2218.1 L1391.5,2222.6 L1401,2213.7 L1390.3,2204.6 L1408.3,2206.5Z" fill="#ffd92f" stroke="#444" stroke-width="2.6" stroke-linejoin="miter"/>
<path d="M1301,2292 L1304.2,2304.8 L1311.4,2296.3 L1311.7,2310.3 L1322.7,2308 L1313,2320.8 L1318.9,2329.9 L1305,2321.6 L1297,2329.9 L1298.3,2318.8 L1280.2,2323.3 L1289.7,2314.4 L1279,2305.3 L1297,2307.2Z" fill="#ffd92f" stroke="#444" stroke-width="2.6" stroke-linejoin="miter"/>
<ellipse cx="1079" cy="2185.3" rx="10.1" ry="11.9" fill="#82b99b" stroke="#000" stroke-width="3.1"/>
<ellipse cx="980.3" cy="2263.5" rx="10.1" ry="11.9" fill="#82b99b" stroke="#000" stroke-width="3.1"/>
<ellipse cx="1037.9" cy="2308.6" rx="10.1" ry="11.9" fill="#82b99b" stroke="#000" stroke-width="3.1"/>
<ellipse cx="1124.1" cy="2278" rx="10.1" ry="11.9" fill="#82b99b" stroke="#000" stroke-width="3.1"/>
<ellipse cx="1180.8" cy="2238.9" rx="10.1" ry="11.9" fill="#82b99b" stroke="#000" stroke-width="3.1"/>
<ellipse cx="1195.8" cy="2325.6" rx="10.1" ry="11.9" fill="#82b99b" stroke="#000" stroke-width="3.1"/>
<ellipse cx="1307" cy="2235.4" rx="10.1" ry="11.9" fill="#82b99b" stroke="#000" stroke-width="3.1"/>
<ellipse cx="1417.8" cy="2318" rx="10.1" ry="11.9" fill="#82b99b" stroke="#000" stroke-width="3.1"/>
<ellipse cx="1547.2" cy="2239.4" rx="10.1" ry="11.9" fill="#82b99b" stroke="#000" stroke-width="3.1"/>
<path d="M1096,2201 C1102.2,2209.8 1108.2,2215.8 1113.2,2220.8 C1127.2,2227.3 1143.2,2226.8 1158.7,2221.3 M1144.4,2213.1 L1158.7,2221.3 L1144.2,2237.3 M1096,2201 C1107.2,2215.8 1118.2,2233.8 1123,2254.8 M1107.2,2241.3 L1123,2255.3 L1131.2,2241.3" fill="none" stroke="#000" stroke-width="5.6" stroke-linecap="round" stroke-linejoin="round"/>
<path d="M487,2405.8 L525.8,2405.8 M513.8,2395.8 L525.8,2405.8 L513.8,2415.8" fill="none" stroke="#7f0000" stroke-width="4.5" stroke-linecap="round" stroke-linejoin="round"/>
<text x="536" y="2416" font-family="'Liberation Sans',sans-serif" font-size="31.6" text-anchor="start" >Seed coat-derived pressure</text>
<ellipse cx="987.8" cy="2409.5" rx="7.4" ry="8.6" fill="#82b99b" stroke="#000" stroke-width="2.4"/>
<text x="1009" y="2417" font-family="'Liberation Sans',sans-serif" font-size="31.6" text-anchor="start" >Endosperm nuclei</text>
<path d="M987.8,2430.1 L989.7,2437.4 L993.7,2432.5 L993.9,2440.5 L1000.2,2439.2 L994.7,2446.5 L998,2451.7 L990.1,2447 L985.5,2451.7 L986.2,2445.4 L975.9,2447.9 L981.4,2442.9 L975.2,2437.7 L985.5,2438.8Z" fill="#d77bbc" stroke="#444" stroke-width="1.6" stroke-linejoin="miter"/>
<text x="1004.3" y="2451.5" font-family="'Liberation Sans',sans-serif" font-size="31.6" text-anchor="start" >Brassinosteroids</text>
<path d="M987.8,2464.1 L989.7,2471.4 L993.7,2466.5 L993.9,2474.5 L1000.2,2473.2 L994.7,2480.5 L998,2485.7 L990.1,2481 L985.5,2485.7 L986.2,2479.4 L975.9,2481.9 L981.4,2476.9 L975.2,2471.7 L985.5,2472.8Z" fill="#ffd92f" stroke="#444" stroke-width="1.6" stroke-linejoin="miter"/>
<text x="1007.5" y="2485.5" font-family="'Liberation Sans',sans-serif" font-size="31.6" text-anchor="start" >Auxin</text>
</svg></body></html>
